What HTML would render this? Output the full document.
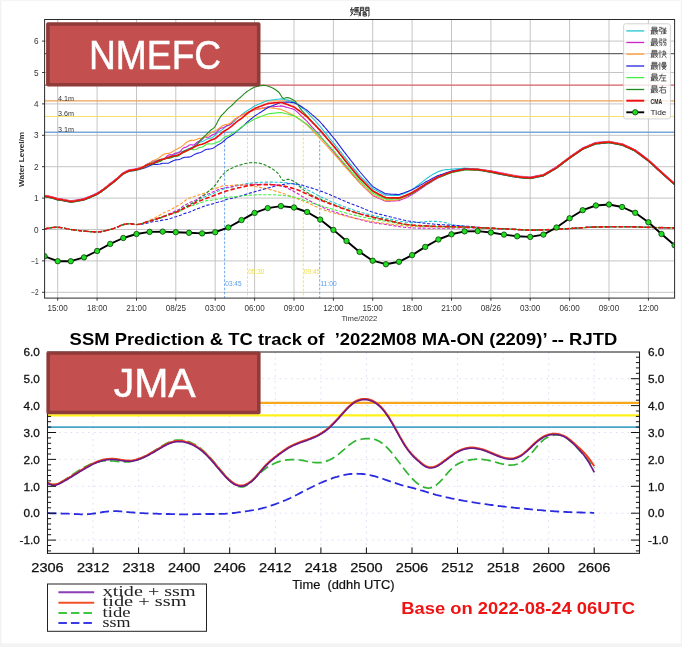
<!DOCTYPE html>
<html lang="en">
<head>
<meta charset="utf-8">
<title>Storm surge forecast comparison</title>
<style>
html,body{margin:0;padding:0;background:#ffffff;}
body{width:682px;height:647px;overflow:hidden;font-family:"Liberation Sans", sans-serif;}
svg{display:block;will-change:transform;}
</style>
</head>
<body>
<svg width="682" height="647" viewBox="0 0 682 647" font-family='"Liberation Sans", sans-serif'>
<rect x="0" y="0" width="682" height="647" fill="#ffffff"/>
<rect x="0" y="0" width="1.5" height="647" fill="#f3f3f3"/>
<rect x="680.6" y="0" width="1.4" height="647" fill="#f4f4f4"/>
<rect x="0" y="0" width="682" height="1.2" fill="#f5f5f5"/>
<rect x="0" y="643.4" width="682" height="3.6" fill="#f3f3f3"/>
<g stroke="#bebebe" stroke-width="0.9" fill="none">
<path d="M57.7,19.5 V298.1"/>
<path d="M97.1,19.5 V298.1"/>
<path d="M136.5,19.5 V298.1"/>
<path d="M175.8,19.5 V298.1"/>
<path d="M215.2,19.5 V298.1"/>
<path d="M254.6,19.5 V298.1"/>
<path d="M294,19.5 V298.1"/>
<path d="M333.4,19.5 V298.1"/>
<path d="M372.7,19.5 V298.1"/>
<path d="M412.1,19.5 V298.1"/>
<path d="M451.5,19.5 V298.1"/>
<path d="M490.9,19.5 V298.1"/>
<path d="M530.2,19.5 V298.1"/>
<path d="M569.6,19.5 V298.1"/>
<path d="M609,19.5 V298.1"/>
<path d="M648.4,19.5 V298.1"/>
<path d="M44.6,292.3 H674.6"/>
<path d="M44.6,260.9 H674.6"/>
<path d="M44.6,229.5 H674.6"/>
<path d="M44.6,198.1 H674.6"/>
<path d="M44.6,166.7 H674.6"/>
<path d="M44.6,135.3 H674.6"/>
<path d="M44.6,103.9 H674.6"/>
<path d="M44.6,72.5 H674.6"/>
<path d="M44.6,41.1 H674.6"/>
</g>
<path d="M44.6,53.7 H674.6" stroke="#303030" stroke-width="0.9" fill="none"/>
<path d="M44.6,85.1 H674.6" stroke="#d65f66" stroke-width="1.3" fill="none"/>
<path d="M44.6,100.8 H674.6" stroke="#f0a054" stroke-width="1.2" fill="none"/>
<path d="M44.6,116.5 H674.6" stroke="#f5e46a" stroke-width="1.1" fill="none"/>
<path d="M44.6,132.2 H674.6" stroke="#7ba7d8" stroke-width="1.6" fill="none"/>
<path d="M224.6,132.2 V298.1" stroke="#4f93e6" stroke-width="0.8" stroke-dasharray="2.6,1.6" fill="none"/>
<path d="M319.7,132.2 V298.1" stroke="#4f93e6" stroke-width="0.8" stroke-dasharray="2.6,1.6" fill="none"/>
<path d="M247.5,116.5 V298.1" stroke="#f0dc38" stroke-width="0.8" stroke-dasharray="2.6,1.6" fill="none"/>
<path d="M303.3,116.5 V298.1" stroke="#f0dc38" stroke-width="0.8" stroke-dasharray="2.6,1.6" fill="none"/>
<g fill="none" stroke-linejoin="round" stroke-linecap="butt">
<path d="M44.6,195.7 L45.9,195.8 L47.2,196 L48.5,196.2 L49.8,196.5 L51.2,196.8 L52.5,197.2 L53.8,197.5 L55.1,198 L56.4,198.4 L57.7,198.9 L59,198.9 L60.3,199.1 L61.7,199.2 L63,199.5 L64.3,199.8 L65.6,200 L66.9,200.3 L68.2,200.6 L69.5,200.9 L70.8,201.1 L72.2,200.9 L73.5,200.7 L74.8,200.5 L76.1,200.3 L77.4,200.1 L78.7,199.9 L80,199.6 L81.3,199.4 L82.7,199.1 L84,198.9 L85.3,198.4 L86.6,197.8 L87.9,197.3 L89.2,196.8 L90.5,196.2 L91.8,195.7 L93.2,195.1 L94.5,194.5 L95.8,193.9 L97.1,193.3 L98.4,192.6 L99.7,191.7 L101,190.9 L102.3,189.9 L103.7,189 L105,188 L106.3,186.9 L107.6,185.9 L108.9,184.8 L110.2,183.8 L111.5,182.9 L112.8,181.8 L114.2,180.8 L115.5,179.7 L116.8,178.6 L118.1,177.5 L119.4,176.3 L120.7,175.1 L122,174 L123.3,172.9 L124.7,172.2 L126,171.5 L127.3,170.9 L128.6,170.4 L129.9,170.1 L131.2,169.9 L132.5,169.7 L133.8,169.5 L135.2,169.2 L136.5,168.9 L137.8,168.6 L139.1,168.2 L140.4,167.7 L141.7,167.3 L143,166.8 L144.3,166.3 L145.7,165.7 L147,164.9 L148.3,164 L149.6,163.1 L150.9,162.6 L152.2,162.1 L153.5,161.8 L154.8,161.5 L156.2,160.9 L157.5,160.3 L158.8,159.7 L160.1,159.4 L161.4,159.3 L162.7,159.4 L164,159.4 L165.3,159 L166.7,158.4 L168,157.6 L169.3,156.8 L170.6,156.3 L171.9,155.8 L173.2,155.4 L174.5,154.7 L175.8,153.8 L177.2,152.9 L178.5,152.1 L179.8,151.7 L181.1,151.5 L182.4,151.4 L183.7,151.1 L185,150.6 L186.3,149.8 L187.7,149.1 L189,148.4 L190.3,148 L191.6,147.5 L192.9,146.9 L194.2,146 L195.5,144.8 L196.8,143.7 L198.2,142.7 L199.5,142.2 L200.8,141.9 L202.1,141.7 L203.4,141.1 L204.7,140.4 L206,139.6 L207.3,138.9 L208.7,138.5 L210,138.2 L211.3,137.9 L212.6,137.3 L213.9,136.4 L215.2,135.2 L216.5,133.8 L217.8,132.5 L219.2,131.6 L220.5,130.8 L221.8,129.9 L223.1,128.9 L224.4,127.8 L225.7,126.7 L227,126 L228.3,125.5 L229.7,124.9 L231,124.1 L232.3,123.1 L233.6,121.8 L234.9,120.5 L236.2,119.2 L237.5,118 L238.8,117.1 L240.2,116.1 L241.5,115 L242.8,113.9 L244.1,112.8 L245.4,111.9 L246.7,111 L248,110.2 L249.3,109.4 L250.7,108.6 L252,107.7 L253.3,106.8 L254.6,105.9 L255.9,105.4 L257.2,104.8 L258.5,104.3 L259.8,103.7 L261.2,103.2 L262.5,102.6 L263.8,102.1 L265.1,101.6 L266.4,101.1 L267.7,100.6 L269,100.4 L270.3,100.2 L271.7,100 L273,99.8 L274.3,99.7 L275.6,99.5 L276.9,99.3 L278.2,99.2 L279.5,99 L280.8,98.9 L282.2,99.1 L283.5,99.3 L284.8,99.6 L286.1,99.8 L287.4,100.1 L288.7,100.4 L290,100.8 L291.3,101.1 L292.7,101.5 L294,101.9 L295.3,102.6 L296.6,103.5 L297.9,104.4 L299.2,105.4 L300.5,106.5 L301.8,107.6 L303.2,108.7 L304.5,109.8 L305.8,110.9 L307.1,112 L308.4,113.4 L309.7,114.8 L311,116.3 L312.3,117.8 L313.7,119.2 L315,120.7 L316.3,122.2 L317.6,123.6 L318.9,125.1 L320.2,126.5 L321.5,128.2 L322.8,129.8 L324.2,131.5 L325.5,133.1 L326.8,134.7 L328.1,136.4 L329.4,138 L330.7,139.6 L332,141.2 L333.3,142.7 L334.7,144.4 L336,146.1 L337.3,147.7 L338.6,149.4 L339.9,151.1 L341.2,152.7 L342.5,154.4 L343.8,156.1 L345.2,157.7 L346.5,159.4 L347.8,161 L349.1,162.7 L350.4,164.3 L351.7,165.9 L353,167.5 L354.3,169.1 L355.7,170.7 L357,172.3 L358.3,173.9 L359.6,175.4 L360.9,176.8 L362.2,178.1 L363.5,179.4 L364.8,180.7 L366.2,182 L367.5,183.3 L368.8,184.6 L370.1,185.9 L371.4,187.2 L372.7,188.5 L374,189.2 L375.3,189.9 L376.7,190.6 L378,191.3 L379.3,192 L380.6,192.7 L381.9,193.4 L383.2,194 L384.5,194.7 L385.8,195.3 L387.2,195.3 L388.5,195.3 L389.8,195.3 L391.1,195.4 L392.4,195.4 L393.7,195.4 L395,195.4 L396.3,195.4 L397.7,195.4 L399,195.4 L400.3,194.9 L401.6,194.5 L402.9,193.9 L404.2,193.4 L405.5,192.9 L406.8,192.3 L408.2,191.7 L409.5,191 L410.8,190.3 L412.1,189.6 L413.4,188.7 L414.7,187.8 L416,186.8 L417.3,185.8 L418.7,184.8 L420,183.8 L421.3,182.7 L422.6,181.7 L423.9,180.6 L425.2,179.6 L426.5,178.6 L427.8,177.7 L429.2,176.8 L430.5,175.9 L431.8,175.1 L433.1,174.3 L434.4,173.6 L435.7,172.9 L437,172.2 L438.3,171.5 L439.7,171.1 L441,170.7 L442.3,170.3 L443.6,170 L444.9,169.8 L446.2,169.6 L447.5,169.6 L448.8,169.5 L450.2,169.3 L451.5,169.1 L452.8,169.1 L454.1,169 L455.4,168.9 L456.7,168.9 L458,168.8 L459.3,168.6 L460.7,168.5 L462,168.4 L463.3,168.2 L464.6,168.1 L465.9,168.2 L467.2,168.3 L468.5,168.4 L469.8,168.5 L471.2,168.5 L472.5,168.6 L473.8,168.7 L475.1,168.7 L476.4,168.8 L477.7,168.9 L479,169.1 L480.3,169.3 L481.7,169.6 L483,169.8 L484.3,170 L485.6,170.2 L486.9,170.5 L488.2,170.7 L489.5,170.9 L490.8,171.1 L492.2,171.4 L493.5,171.7 L494.8,172 L496.1,172.2 L497.4,172.5 L498.7,172.8 L500,173.1 L501.3,173.3 L502.7,173.6 L504,173.9 L505.3,174.1 L506.6,174.3 L507.9,174.6 L509.2,174.8 L510.5,175 L511.8,175.3 L513.2,175.5 L514.5,175.7 L515.8,176 L517.1,176.2 L518.4,176.3 L519.7,176.5 L521,176.6 L522.3,176.8 L523.7,176.9 L525,177 L526.3,177.1 L527.6,177.2 L528.9,177.3 L530.2,177.4 L531.5,177.2 L532.8,176.9 L534.2,176.7 L535.5,176.4 L536.8,176.1 L538.1,175.9 L539.4,175.6 L540.7,175.3 L542,175 L543.3,174.8 L544.7,174 L546,173.3 L547.3,172.5 L548.6,171.8 L549.9,171 L551.2,170.2 L552.5,169.5 L553.8,168.7 L555.2,167.9 L556.5,167.2 L557.8,166.2 L559.1,165.2 L560.4,164.2 L561.7,163.2 L563,162.2 L564.3,161.2 L565.7,160.2 L567,159.2 L568.3,158.2 L569.6,157.2 L570.9,156.3 L572.2,155.4 L573.5,154.5 L574.8,153.6 L576.2,152.7 L577.5,151.8 L578.8,150.9 L580.1,150 L581.4,149.1 L582.7,148.2 L584,147.7 L585.3,147.1 L586.7,146.5 L588,146 L589.3,145.4 L590.6,144.9 L591.9,144.4 L593.2,143.9 L594.5,143.3 L595.8,142.8 L597.2,142.7 L598.5,142.6 L599.8,142.5 L601.1,142.3 L602.4,142.2 L603.7,142.1 L605,142 L606.3,141.8 L607.7,141.7 L609,141.6 L610.3,141.8 L611.6,142.1 L612.9,142.3 L614.2,142.6 L615.5,142.8 L616.8,143 L618.2,143.3 L619.5,143.5 L620.8,143.8 L622.1,144 L623.4,144.6 L624.7,145.2 L626,145.8 L627.3,146.4 L628.7,147 L630,147.6 L631.3,148.2 L632.6,148.9 L633.9,149.5 L635.2,150.1 L636.5,151.1 L637.8,152.1 L639.2,153.1 L640.5,154.1 L641.8,155 L643.1,156 L644.4,157 L645.7,158 L647,159 L648.3,159.9 L649.7,161.1 L651,162.3 L652.3,163.5 L653.6,164.7 L654.9,165.9 L656.2,167.1 L657.5,168.3 L658.8,169.5 L660.2,170.7 L661.5,171.9 L662.8,173.1 L664.1,174.3 L665.4,175.4 L666.7,176.6 L668,177.8 L669.3,179 L670.7,180.1 L672,181.3 L673.3,182.5 L674.6,183.6" stroke="#22c5cf" stroke-width="1.1"/>
<path d="M44.6,195.3 L45.9,195.5 L47.2,195.7 L48.5,195.9 L49.8,196.2 L51.2,196.5 L52.5,196.8 L53.8,197.2 L55.1,197.6 L56.4,198.1 L57.7,198.6 L59,198.6 L60.3,198.7 L61.7,198.9 L63,199.2 L64.3,199.4 L65.6,199.7 L66.9,200 L68.2,200.3 L69.5,200.6 L70.8,200.8 L72.2,200.6 L73.5,200.4 L74.8,200.2 L76.1,200 L77.4,199.8 L78.7,199.5 L80,199.3 L81.3,199.1 L82.7,198.8 L84,198.6 L85.3,198 L86.6,197.5 L87.9,197 L89.2,196.5 L90.5,195.9 L91.8,195.4 L93.2,194.8 L94.5,194.2 L95.8,193.6 L97.1,193 L98.4,192.2 L99.7,191.4 L101,190.5 L102.3,189.6 L103.7,188.6 L105,187.6 L106.3,186.6 L107.6,185.6 L108.9,184.5 L110.2,183.5 L111.5,182.5 L112.8,181.5 L114.2,180.5 L115.5,179.4 L116.8,178.3 L118.1,177.2 L119.4,176 L120.7,174.8 L122,173.6 L123.3,172.6 L124.7,171.9 L126,171.2 L127.3,170.6 L128.6,170.1 L129.9,169.8 L131.2,169.6 L132.5,169.4 L133.8,169.2 L135.2,168.9 L136.5,168.6 L137.8,168.3 L139.1,167.8 L140.4,167.5 L141.7,167.2 L143,166.7 L144.3,166 L145.7,165 L147,164.2 L148.3,163.6 L149.6,163 L150.9,162.3 L152.2,161.3 L153.5,160.7 L154.8,160.7 L156.2,161.2 L157.5,161.4 L158.8,160.9 L160.1,160.1 L161.4,159.5 L162.7,159.3 L164,158.9 L165.3,158 L166.7,156.5 L168,155.3 L169.3,154.8 L170.6,154.9 L171.9,154.9 L173.2,154.3 L174.5,153.6 L175.8,153.1 L177.2,153 L178.5,152.9 L179.8,152.1 L181.1,150.5 L182.4,148.9 L183.7,147.8 L185,147.4 L186.3,147 L187.7,146.2 L189,145.3 L190.3,144.7 L191.6,144.8 L192.9,145.1 L194.2,144.8 L195.5,143.8 L196.8,142.5 L198.2,141.5 L199.5,141 L200.8,140.5 L202.1,139.6 L203.4,138.2 L204.7,137.2 L206,137 L207.3,137.2 L208.7,137.2 L210,136.6 L211.3,135.5 L212.6,134.7 L213.9,134.3 L215.2,133.9 L216.5,132.6 L217.8,130.8 L219.2,129.2 L220.5,128.3 L221.8,128 L223.1,127.9 L224.4,127.2 L225.7,126.3 L227,125.6 L228.3,125.3 L229.7,124.8 L231,123.8 L232.3,122.1 L233.6,120.4 L234.9,119.1 L236.2,118.4 L237.5,117.8 L238.8,116.9 L240.2,115.9 L241.5,115.1 L242.8,114.6 L244.1,114.2 L245.4,113.7 L246.7,113 L248,112.2 L249.3,111.6 L250.7,111.1 L252,110.7 L253.3,110.2 L254.6,109.7 L255.9,109.4 L257.2,109.2 L258.5,108.9 L259.8,108.7 L261.2,108.4 L262.5,108.1 L263.8,107.9 L265.1,107.6 L266.4,107.3 L267.7,106.9 L269,106.9 L270.3,106.8 L271.7,106.7 L273,106.7 L274.3,106.6 L275.6,106.5 L276.9,106.4 L278.2,106.2 L279.5,106.1 L280.8,105.9 L282.2,106.1 L283.5,106.4 L284.8,106.7 L286.1,107.1 L287.4,107.5 L288.7,107.8 L290,108.2 L291.3,108.5 L292.7,108.9 L294,109.4 L295.3,110.3 L296.6,111.4 L297.9,112.6 L299.2,113.9 L300.5,115.2 L301.8,116.4 L303.2,117.7 L304.5,119 L305.8,120.2 L307.1,121.4 L308.4,122.9 L309.7,124.4 L311,125.9 L312.3,127.4 L313.7,128.8 L315,130.3 L316.3,131.7 L317.6,133.2 L318.9,134.6 L320.2,135.9 L321.5,137.6 L322.8,139.2 L324.2,140.8 L325.5,142.3 L326.8,143.9 L328.1,145.5 L329.4,147 L330.7,148.5 L332,150 L333.3,151.5 L334.7,153.1 L336,154.7 L337.3,156.2 L338.6,157.8 L339.9,159.4 L341.2,160.9 L342.5,162.5 L343.8,164.1 L345.2,165.7 L346.5,167.2 L347.8,168.8 L349.1,170.4 L350.4,171.9 L351.7,173.5 L353,175 L354.3,176.6 L355.7,178.1 L357,179.6 L358.3,181.2 L359.6,182.7 L360.9,183.9 L362.2,185.2 L363.5,186.5 L364.8,187.8 L366.2,189.1 L367.5,190.4 L368.8,191.7 L370.1,192.9 L371.4,194.2 L372.7,195.4 L374,196 L375.3,196.7 L376.7,197.3 L378,197.9 L379.3,198.5 L380.6,199 L381.9,199.6 L383.2,200.2 L384.5,200.7 L385.8,201.2 L387.2,201.2 L388.5,201.1 L389.8,201.1 L391.1,201 L392.4,201 L393.7,200.9 L395,200.9 L396.3,200.8 L397.7,200.7 L399,200.7 L400.3,200.1 L401.6,199.6 L402.9,199 L404.2,198.5 L405.5,197.9 L406.8,197.3 L408.2,196.7 L409.5,196 L410.8,195.3 L412.1,194.6 L413.4,193.8 L414.7,192.9 L416,192 L417.3,191.2 L418.7,190.3 L420,189.4 L421.3,188.5 L422.6,187.6 L423.9,186.7 L425.2,185.7 L426.5,184.9 L427.8,184.1 L429.2,183.3 L430.5,182.5 L431.8,181.7 L433.1,180.9 L434.4,180.1 L435.7,179.3 L437,178.6 L438.3,177.8 L439.7,177.3 L441,176.8 L442.3,176.2 L443.6,175.7 L444.9,175.2 L446.2,174.6 L447.5,174.1 L448.8,173.5 L450.2,173 L451.5,172.4 L452.8,172.1 L454.1,171.8 L455.4,171.5 L456.7,171.2 L458,170.8 L459.3,170.5 L460.7,170.2 L462,169.9 L463.3,169.6 L464.6,169.3 L465.9,169.3 L467.2,169.3 L468.5,169.3 L469.8,169.2 L471.2,169.2 L472.5,169.2 L473.8,169.2 L475.1,169.2 L476.4,169.2 L477.7,169.1 L479,169.3 L480.3,169.5 L481.7,169.6 L483,169.8 L484.3,170 L485.6,170.1 L486.9,170.3 L488.2,170.5 L489.5,170.6 L490.8,170.8 L492.2,171 L493.5,171.3 L494.8,171.5 L496.1,171.8 L497.4,172.1 L498.7,172.3 L500,172.6 L501.3,172.9 L502.7,173.1 L504,173.4 L505.3,173.7 L506.6,173.9 L507.9,174.2 L509.2,174.4 L510.5,174.7 L511.8,174.9 L513.2,175.2 L514.5,175.4 L515.8,175.7 L517.1,175.9 L518.4,176 L519.7,176.2 L521,176.3 L522.3,176.4 L523.7,176.6 L525,176.7 L526.3,176.8 L527.6,176.9 L528.9,177 L530.2,177.1 L531.5,176.9 L532.8,176.6 L534.2,176.4 L535.5,176.1 L536.8,175.8 L538.1,175.6 L539.4,175.3 L540.7,175 L542,174.7 L543.3,174.5 L544.7,173.7 L546,173 L547.3,172.2 L548.6,171.4 L549.9,170.7 L551.2,169.9 L552.5,169.1 L553.8,168.4 L555.2,167.6 L556.5,166.8 L557.8,165.8 L559.1,164.8 L560.4,163.9 L561.7,162.9 L563,161.9 L564.3,160.9 L565.7,159.9 L567,158.9 L568.3,157.9 L569.6,156.9 L570.9,156 L572.2,155.1 L573.5,154.2 L574.8,153.3 L576.2,152.4 L577.5,151.5 L578.8,150.6 L580.1,149.7 L581.4,148.8 L582.7,147.9 L584,147.3 L585.3,146.8 L586.7,146.2 L588,145.7 L589.3,145.1 L590.6,144.6 L591.9,144.1 L593.2,143.5 L594.5,143 L595.8,142.5 L597.2,142.4 L598.5,142.3 L599.8,142.1 L601.1,142 L602.4,141.9 L603.7,141.8 L605,141.7 L606.3,141.5 L607.7,141.4 L609,141.3 L610.3,141.5 L611.6,141.8 L612.9,142 L614.2,142.2 L615.5,142.5 L616.8,142.7 L618.2,143 L619.5,143.2 L620.8,143.5 L622.1,143.7 L623.4,144.3 L624.7,144.9 L626,145.5 L627.3,146.1 L628.7,146.7 L630,147.3 L631.3,147.9 L632.6,148.5 L633.9,149.2 L635.2,149.8 L636.5,150.8 L637.8,151.8 L639.2,152.7 L640.5,153.7 L641.8,154.7 L643.1,155.7 L644.4,156.7 L645.7,157.7 L647,158.7 L648.3,159.6 L649.7,160.8 L651,162 L652.3,163.2 L653.6,164.4 L654.9,165.6 L656.2,166.8 L657.5,168 L658.8,169.2 L660.2,170.4 L661.5,171.6 L662.8,172.8 L664.1,174 L665.4,175.1 L666.7,176.3 L668,177.5 L669.3,178.6 L670.7,179.8 L672,181 L673.3,182.1 L674.6,183.3" stroke="#cc22cc" stroke-width="1.1"/>
<path d="M44.6,195.7 L45.9,195.9 L47.2,196.1 L48.5,196.3 L49.8,196.6 L51.2,196.9 L52.5,197.3 L53.8,197.6 L55.1,198.1 L56.4,198.5 L57.7,199 L59,199 L60.3,199.1 L61.7,199.3 L63,199.6 L64.3,199.8 L65.6,200.1 L66.9,200.4 L68.2,200.7 L69.5,201 L70.8,201.2 L72.2,201 L73.5,200.8 L74.8,200.6 L76.1,200.4 L77.4,200.2 L78.7,200 L80,199.7 L81.3,199.5 L82.7,199.2 L84,199 L85.3,198.4 L86.6,197.9 L87.9,197.4 L89.2,196.9 L90.5,196.3 L91.8,195.8 L93.2,195.2 L94.5,194.6 L95.8,194 L97.1,193.4 L98.4,192.6 L99.7,191.8 L101,191 L102.3,190 L103.7,189.1 L105,188 L106.3,187 L107.6,186 L108.9,184.9 L110.2,183.9 L111.5,183 L112.8,181.9 L114.2,180.9 L115.5,179.8 L116.8,178.7 L118.1,177.6 L119.4,176.4 L120.7,175.2 L122,174 L123.3,173 L124.7,172.3 L126,171.6 L127.3,171 L128.6,170.5 L129.9,170.2 L131.2,170 L132.5,169.8 L133.8,169.6 L135.2,169.3 L136.5,169 L137.8,168.7 L139.1,168.2 L140.4,167.6 L141.7,167 L143,166.4 L144.3,165.9 L145.7,165.3 L147,164.6 L148.3,163.8 L149.6,162.9 L150.9,162.2 L152.2,161.4 L153.5,160.6 L154.8,160 L156.2,159.4 L157.5,158.7 L158.8,157.9 L160.1,157 L161.4,155.9 L162.7,155 L164,154.2 L165.3,153.8 L166.7,153.5 L168,153.3 L169.3,153.1 L170.6,152.7 L171.9,152 L173.2,151.2 L174.5,150.4 L175.8,149.6 L177.2,148.9 L178.5,148.2 L179.8,147.6 L181.1,146.9 L182.4,145.9 L183.7,144.8 L185,143.6 L186.3,142.5 L187.7,141.6 L189,140.9 L190.3,140.6 L191.6,140.4 L192.9,140.3 L194.2,140.1 L195.5,139.8 L196.8,139.3 L198.2,138.8 L199.5,138.4 L200.8,138.2 L202.1,138 L203.4,137.7 L204.7,137.3 L206,136.6 L207.3,135.7 L208.7,134.7 L210,133.5 L211.3,132.6 L212.6,131.8 L213.9,131.2 L215.2,130.9 L216.5,130.1 L217.8,129.3 L219.2,128.3 L220.5,127.3 L221.8,126.3 L223.1,125.4 L224.4,124.9 L225.7,124.5 L227,124.3 L228.3,124.1 L229.7,123.4 L231,122.5 L232.3,121.4 L233.6,120.3 L234.9,119.3 L236.2,118.4 L237.5,117.6 L238.8,116.9 L240.2,116.2 L241.5,115.4 L242.8,114.6 L244.1,113.9 L245.4,113.2 L246.7,112.6 L248,112.2 L249.3,111.7 L250.7,111.3 L252,110.9 L253.3,110.4 L254.6,109.8 L255.9,109.5 L257.2,109.3 L258.5,109 L259.8,108.8 L261.2,108.6 L262.5,108.4 L263.8,108.2 L265.1,108 L266.4,107.8 L267.7,107.6 L269,107.7 L270.3,107.8 L271.7,108 L273,108.1 L274.3,108.3 L275.6,108.5 L276.9,108.7 L278.2,108.9 L279.5,109.1 L280.8,109.3 L282.2,109.9 L283.5,110.5 L284.8,111.1 L286.1,111.7 L287.4,112.3 L288.7,112.9 L290,113.6 L291.3,114.2 L292.7,114.8 L294,115.5 L295.3,116.4 L296.6,117.3 L297.9,118.3 L299.2,119.2 L300.5,120.1 L301.8,121.1 L303.2,122 L304.5,123 L305.8,124 L307.1,125 L308.4,126.3 L309.7,127.6 L311,129 L312.3,130.4 L313.7,131.8 L315,133.2 L316.3,134.6 L317.6,135.9 L318.9,137.2 L320.2,138.5 L321.5,140.1 L322.8,141.6 L324.2,143.1 L325.5,144.5 L326.8,146 L328.1,147.5 L329.4,148.9 L330.7,150.4 L332,151.8 L333.3,153.2 L334.7,154.7 L336,156.2 L337.3,157.7 L338.6,159.2 L339.9,160.7 L341.2,162.2 L342.5,163.7 L343.8,165.3 L345.2,166.8 L346.5,168.3 L347.8,169.7 L349.1,171.2 L350.4,172.7 L351.7,174.1 L353,175.6 L354.3,177 L355.7,178.5 L357,179.9 L358.3,181.3 L359.6,182.7 L360.9,184 L362.2,185.2 L363.5,186.4 L364.8,187.6 L366.2,188.8 L367.5,190 L368.8,191.3 L370.1,192.5 L371.4,193.7 L372.7,194.8 L374,195.5 L375.3,196.1 L376.7,196.7 L378,197.3 L379.3,197.9 L380.6,198.5 L381.9,199.1 L383.2,199.6 L384.5,200.2 L385.8,200.7 L387.2,200.6 L388.5,200.6 L389.8,200.5 L391.1,200.4 L392.4,200.3 L393.7,200.2 L395,200.1 L396.3,200 L397.7,199.9 L399,199.7 L400.3,199.1 L401.6,198.6 L402.9,198 L404.2,197.4 L405.5,196.7 L406.8,196.1 L408.2,195.5 L409.5,194.8 L410.8,194.2 L412.1,193.5 L413.4,192.7 L414.7,191.8 L416,190.9 L417.3,190.1 L418.7,189.2 L420,188.3 L421.3,187.4 L422.6,186.5 L423.9,185.6 L425.2,184.7 L426.5,183.9 L427.8,183.1 L429.2,182.3 L430.5,181.5 L431.8,180.8 L433.1,180 L434.4,179.2 L435.7,178.5 L437,177.7 L438.3,177 L439.7,176.5 L441,176 L442.3,175.5 L443.6,175 L444.9,174.4 L446.2,173.9 L447.5,173.4 L448.8,172.9 L450.2,172.4 L451.5,171.9 L452.8,171.6 L454.1,171.3 L455.4,171 L456.7,170.8 L458,170.5 L459.3,170.2 L460.7,169.9 L462,169.7 L463.3,169.4 L464.6,169.1 L465.9,169.1 L467.2,169.1 L468.5,169.1 L469.8,169.1 L471.2,169.1 L472.5,169.2 L473.8,169.2 L475.1,169.2 L476.4,169.2 L477.7,169.2 L479,169.4 L480.3,169.6 L481.7,169.8 L483,170 L484.3,170.2 L485.6,170.4 L486.9,170.6 L488.2,170.8 L489.5,171 L490.8,171.2 L492.2,171.5 L493.5,171.7 L494.8,172 L496.1,172.3 L497.4,172.5 L498.7,172.8 L500,173.1 L501.3,173.4 L502.7,173.6 L504,173.9 L505.3,174.1 L506.6,174.4 L507.9,174.6 L509.2,174.9 L510.5,175.1 L511.8,175.3 L513.2,175.6 L514.5,175.8 L515.8,176.1 L517.1,176.3 L518.4,176.4 L519.7,176.6 L521,176.7 L522.3,176.8 L523.7,177 L525,177.1 L526.3,177.2 L527.6,177.3 L528.9,177.4 L530.2,177.5 L531.5,177.3 L532.8,177 L534.2,176.8 L535.5,176.5 L536.8,176.2 L538.1,176 L539.4,175.7 L540.7,175.4 L542,175.1 L543.3,174.9 L544.7,174.1 L546,173.4 L547.3,172.6 L548.6,171.8 L549.9,171.1 L551.2,170.3 L552.5,169.6 L553.8,168.8 L555.2,168 L556.5,167.2 L557.8,166.3 L559.1,165.3 L560.4,164.3 L561.7,163.3 L563,162.3 L564.3,161.3 L565.7,160.3 L567,159.3 L568.3,158.3 L569.6,157.3 L570.9,156.4 L572.2,155.5 L573.5,154.6 L574.8,153.7 L576.2,152.8 L577.5,151.9 L578.8,151 L580.1,150.1 L581.4,149.2 L582.7,148.3 L584,147.8 L585.3,147.2 L586.7,146.6 L588,146.1 L589.3,145.5 L590.6,145 L591.9,144.5 L593.2,143.9 L594.5,143.4 L595.8,142.9 L597.2,142.8 L598.5,142.7 L599.8,142.6 L601.1,142.4 L602.4,142.3 L603.7,142.2 L605,142.1 L606.3,141.9 L607.7,141.8 L609,141.7 L610.3,141.9 L611.6,142.2 L612.9,142.4 L614.2,142.7 L615.5,142.9 L616.8,143.1 L618.2,143.4 L619.5,143.6 L620.8,143.9 L622.1,144.1 L623.4,144.7 L624.7,145.3 L626,145.9 L627.3,146.5 L628.7,147.1 L630,147.7 L631.3,148.3 L632.6,149 L633.9,149.6 L635.2,150.2 L636.5,151.2 L637.8,152.2 L639.2,153.2 L640.5,154.1 L641.8,155.1 L643.1,156.1 L644.4,157.1 L645.7,158.1 L647,159.1 L648.3,160 L649.7,161.2 L651,162.4 L652.3,163.6 L653.6,164.8 L654.9,166 L656.2,167.2 L657.5,168.4 L658.8,169.6 L660.2,170.8 L661.5,172 L662.8,173.2 L664.1,174.4 L665.4,175.5 L666.7,176.7 L668,177.9 L669.3,179 L670.7,180.2 L672,181.4 L673.3,182.6 L674.6,183.7" stroke="#ff9a2e" stroke-width="1.1"/>
<path d="M44.6,196.7 L45.9,196.9 L47.2,197.1 L48.5,197.3 L49.8,197.6 L51.2,197.9 L52.5,198.3 L53.8,198.6 L55.1,199.1 L56.4,199.5 L57.7,200 L59,200 L60.3,200.2 L61.7,200.3 L63,200.6 L64.3,200.9 L65.6,201.1 L66.9,201.4 L68.2,201.7 L69.5,202 L70.8,202.2 L72.2,202 L73.5,201.8 L74.8,201.6 L76.1,201.4 L77.4,201.2 L78.7,201 L80,200.7 L81.3,200.5 L82.7,200.2 L84,200 L85.3,199.5 L86.6,198.9 L87.9,198.4 L89.2,197.9 L90.5,197.3 L91.8,196.8 L93.2,196.2 L94.5,195.6 L95.8,195 L97.1,194.4 L98.4,193.6 L99.7,192.8 L101,192 L102.3,191 L103.7,190.1 L105,189.1 L106.3,188 L107.6,187 L108.9,185.9 L110.2,184.9 L111.5,184 L112.8,182.9 L114.2,181.9 L115.5,180.8 L116.8,179.7 L118.1,178.6 L119.4,177.4 L120.7,176.2 L122,175 L123.3,174 L124.7,173.3 L126,172.6 L127.3,172 L128.6,171.5 L129.9,171.2 L131.2,171 L132.5,170.8 L133.8,170.6 L135.2,170.3 L136.5,170 L137.8,169.8 L139.1,169.5 L140.4,169.2 L141.7,168.8 L143,168.4 L144.3,168 L145.7,167.6 L147,167.1 L148.3,166.5 L149.6,165.8 L150.9,165.2 L152.2,164.7 L153.5,164.4 L154.8,164.3 L156.2,164.4 L157.5,164.4 L158.8,164.3 L160.1,164 L161.4,163.6 L162.7,163.3 L164,163.2 L165.3,163.2 L166.7,163.3 L168,163.2 L169.3,162.8 L170.6,162.1 L171.9,161.4 L173.2,160.7 L174.5,160.2 L175.8,159.9 L177.2,159.8 L178.5,159.6 L179.8,159.2 L181.1,158.7 L182.4,158.1 L183.7,157.6 L185,157.3 L186.3,157.2 L187.7,157.1 L189,157.1 L190.3,156.8 L191.6,156.2 L192.9,155.4 L194.2,154.6 L195.5,153.9 L196.8,153.4 L198.2,153.1 L199.5,152.8 L200.8,152.3 L202.1,151.7 L203.4,150.9 L204.7,150.1 L206,149.5 L207.3,149.2 L208.7,149.1 L210,149 L211.3,148.8 L212.6,148.3 L213.9,147.7 L215.2,146.9 L216.5,145.9 L217.8,145 L219.2,144.3 L220.5,143.6 L221.8,142.8 L223.1,141.7 L224.4,140.5 L225.7,139.3 L227,138.2 L228.3,137.4 L229.7,136.6 L231,135.8 L232.3,135 L233.6,134.1 L234.9,132.9 L236.2,131.8 L237.5,130.6 L238.8,129.5 L240.2,128.5 L241.5,127.5 L242.8,126.4 L244.1,125.2 L245.4,124 L246.7,122.7 L248,121.5 L249.3,120.4 L250.7,119.3 L252,118.3 L253.3,117.2 L254.6,116.1 L255.9,115.3 L257.2,114.4 L258.5,113.6 L259.8,112.7 L261.2,111.9 L262.5,111 L263.8,110.2 L265.1,109.3 L266.4,108.5 L267.7,107.7 L269,107.1 L270.3,106.6 L271.7,106 L273,105.5 L274.3,104.9 L275.6,104.4 L276.9,103.9 L278.2,103.4 L279.5,102.9 L280.8,102.5 L282.2,102.4 L283.5,102.3 L284.8,102.2 L286.1,102.1 L287.4,102.1 L288.7,102.1 L290,102.2 L291.3,102.4 L292.7,102.6 L294,102.8 L295.3,103.4 L296.6,104 L297.9,104.6 L299.2,105.3 L300.5,106 L301.8,106.8 L303.2,107.7 L304.5,108.6 L305.8,109.4 L307.1,110.3 L308.4,111.4 L309.7,112.6 L311,113.7 L312.3,114.9 L313.7,116 L315,117.2 L316.3,118.4 L317.6,119.5 L318.9,120.7 L320.2,122 L321.5,123.5 L322.8,125 L324.2,126.5 L325.5,128.1 L326.8,129.6 L328.1,131.2 L329.4,132.8 L330.7,134.4 L332,136 L333.3,137.6 L334.7,139.2 L336,140.9 L337.3,142.6 L338.6,144.4 L339.9,146.1 L341.2,147.9 L342.5,149.6 L343.8,151.4 L345.2,153.1 L346.5,154.8 L347.8,156.5 L349.1,158.2 L350.4,159.9 L351.7,161.5 L353,163.2 L354.3,164.9 L355.7,166.5 L357,168.2 L358.3,169.8 L359.6,171.5 L360.9,173 L362.2,174.5 L363.5,176 L364.8,177.5 L366.2,179.1 L367.5,180.6 L368.8,182.1 L370.1,183.6 L371.4,185 L372.7,186.4 L374,187.3 L375.3,188.1 L376.7,188.9 L378,189.6 L379.3,190.4 L380.6,191.1 L381.9,191.8 L383.2,192.5 L384.5,193.2 L385.8,193.9 L387.2,193.9 L388.5,194 L389.8,194.1 L391.1,194.2 L392.4,194.3 L393.7,194.3 L395,194.4 L396.3,194.4 L397.7,194.5 L399,194.5 L400.3,194.1 L401.6,193.6 L402.9,193.2 L404.2,192.8 L405.5,192.3 L406.8,191.8 L408.2,191.3 L409.5,190.8 L410.8,190.3 L412.1,189.8 L413.4,189.1 L414.7,188.4 L416,187.6 L417.3,186.9 L418.7,186.2 L420,185.4 L421.3,184.6 L422.6,183.9 L423.9,183.1 L425.2,182.3 L426.5,181.6 L427.8,180.9 L429.2,180.2 L430.5,179.5 L431.8,178.8 L433.1,178.1 L434.4,177.5 L435.7,176.8 L437,176.1 L438.3,175.5 L439.7,175.1 L441,174.6 L442.3,174.2 L443.6,173.7 L444.9,173.3 L446.2,172.8 L447.5,172.4 L448.8,171.9 L450.2,171.5 L451.5,171 L452.8,170.8 L454.1,170.6 L455.4,170.4 L456.7,170.1 L458,169.9 L459.3,169.7 L460.7,169.5 L462,169.3 L463.3,169.1 L464.6,168.9 L465.9,168.9 L467.2,169 L468.5,169.1 L469.8,169.2 L471.2,169.3 L472.5,169.3 L473.8,169.4 L475.1,169.5 L476.4,169.6 L477.7,169.7 L479,170 L480.3,170.2 L481.7,170.5 L483,170.8 L484.3,171 L485.6,171.3 L486.9,171.5 L488.2,171.8 L489.5,172 L490.8,172.2 L492.2,172.5 L493.5,172.8 L494.8,173.1 L496.1,173.4 L497.4,173.6 L498.7,173.9 L500,174.2 L501.3,174.4 L502.7,174.7 L504,175 L505.3,175.2 L506.6,175.4 L507.9,175.7 L509.2,175.9 L510.5,176.1 L511.8,176.4 L513.2,176.6 L514.5,176.8 L515.8,177.1 L517.1,177.3 L518.4,177.4 L519.7,177.6 L521,177.7 L522.3,177.9 L523.7,178 L525,178.1 L526.3,178.2 L527.6,178.3 L528.9,178.4 L530.2,178.5 L531.5,178.3 L532.8,178 L534.2,177.8 L535.5,177.5 L536.8,177.2 L538.1,177 L539.4,176.7 L540.7,176.4 L542,176.1 L543.3,175.9 L544.7,175.1 L546,174.4 L547.3,173.6 L548.6,172.9 L549.9,172.1 L551.2,171.3 L552.5,170.6 L553.8,169.8 L555.2,169 L556.5,168.2 L557.8,167.3 L559.1,166.3 L560.4,165.3 L561.7,164.3 L563,163.3 L564.3,162.3 L565.7,161.3 L567,160.3 L568.3,159.3 L569.6,158.3 L570.9,157.4 L572.2,156.5 L573.5,155.6 L574.8,154.7 L576.2,153.8 L577.5,152.9 L578.8,152 L580.1,151.1 L581.4,150.2 L582.7,149.3 L584,148.8 L585.3,148.2 L586.7,147.6 L588,147.1 L589.3,146.5 L590.6,146 L591.9,145.5 L593.2,145 L594.5,144.4 L595.8,143.9 L597.2,143.8 L598.5,143.7 L599.8,143.6 L601.1,143.4 L602.4,143.3 L603.7,143.2 L605,143.1 L606.3,142.9 L607.7,142.8 L609,142.7 L610.3,142.9 L611.6,143.2 L612.9,143.4 L614.2,143.7 L615.5,143.9 L616.8,144.1 L618.2,144.4 L619.5,144.6 L620.8,144.9 L622.1,145.1 L623.4,145.7 L624.7,146.3 L626,146.9 L627.3,147.5 L628.7,148.1 L630,148.7 L631.3,149.3 L632.6,150 L633.9,150.6 L635.2,151.2 L636.5,152.2 L637.8,153.2 L639.2,154.2 L640.5,155.1 L641.8,156.1 L643.1,157.1 L644.4,158.1 L645.7,159.1 L647,160.1 L648.3,161 L649.7,162.2 L651,163.4 L652.3,164.6 L653.6,165.8 L654.9,167 L656.2,168.2 L657.5,169.4 L658.8,170.6 L660.2,171.8 L661.5,173 L662.8,174.2 L664.1,175.4 L665.4,176.5 L666.7,177.7 L668,178.9 L669.3,180.1 L670.7,181.2 L672,182.4 L673.3,183.6 L674.6,184.7" stroke="#2222dd" stroke-width="1.1"/>
<path d="M44.6,196.4 L45.9,196.6 L47.2,196.8 L48.5,197 L49.8,197.3 L51.2,197.6 L52.5,197.9 L53.8,198.3 L55.1,198.7 L56.4,199.2 L57.7,199.7 L59,199.7 L60.3,199.8 L61.7,200 L63,200.3 L64.3,200.5 L65.6,200.8 L66.9,201.1 L68.2,201.4 L69.5,201.7 L70.8,201.9 L72.2,201.7 L73.5,201.5 L74.8,201.3 L76.1,201.1 L77.4,200.9 L78.7,200.6 L80,200.4 L81.3,200.2 L82.7,199.9 L84,199.7 L85.3,199.1 L86.6,198.6 L87.9,198.1 L89.2,197.6 L90.5,197 L91.8,196.5 L93.2,195.9 L94.5,195.3 L95.8,194.7 L97.1,194.1 L98.4,193.3 L99.7,192.5 L101,191.6 L102.3,190.7 L103.7,189.7 L105,188.7 L106.3,187.7 L107.6,186.7 L108.9,185.6 L110.2,184.6 L111.5,183.6 L112.8,182.6 L114.2,181.6 L115.5,180.5 L116.8,179.4 L118.1,178.3 L119.4,177.1 L120.7,175.9 L122,174.7 L123.3,173.7 L124.7,173 L126,172.3 L127.3,171.7 L128.6,171.2 L129.9,170.9 L131.2,170.7 L132.5,170.5 L133.8,170.3 L135.2,170 L136.5,169.7 L137.8,169.5 L139.1,169.1 L140.4,168.6 L141.7,168.1 L143,167.5 L144.3,166.8 L145.7,165.9 L147,164.9 L148.3,164.1 L149.6,163.6 L150.9,163.5 L152.2,163.5 L153.5,163.2 L154.8,162.7 L156.2,162.2 L157.5,161.9 L158.8,161.8 L160.1,161.5 L161.4,160.9 L162.7,159.9 L164,158.9 L165.3,158.1 L166.7,157.8 L168,157.8 L169.3,157.7 L170.6,157.3 L171.9,156.8 L173.2,156.5 L174.5,156.4 L175.8,156.5 L177.2,156.5 L178.5,156 L179.8,155.1 L181.1,154 L182.4,153.1 L183.7,152.5 L185,152.1 L186.3,151.6 L187.7,150.8 L189,150.1 L190.3,149.5 L191.6,149.4 L192.9,149.6 L194.2,149.8 L195.5,149.5 L196.8,148.9 L198.2,148.1 L199.5,147.6 L200.8,147.3 L202.1,147.1 L203.4,146.5 L204.7,145.5 L206,144.6 L207.3,143.9 L208.7,143.7 L210,143.9 L211.3,144 L212.6,143.9 L213.9,143.4 L215.2,142.9 L216.5,142.4 L217.8,142 L219.2,141.6 L220.5,140.8 L221.8,139.6 L223.1,138.3 L224.4,137.2 L225.7,136.6 L227,136.3 L228.3,135.9 L229.7,135.1 L231,134.1 L232.3,133.1 L233.6,132.5 L234.9,132 L236.2,131.4 L237.5,130.5 L238.8,129.3 L240.2,128 L241.5,127 L242.8,126.1 L244.1,125.3 L245.4,124.5 L246.7,123.7 L248,122.8 L249.3,122 L250.7,121.3 L252,120.5 L253.3,119.8 L254.6,119 L255.9,118.5 L257.2,117.9 L258.5,117.4 L259.8,116.9 L261.2,116.4 L262.5,115.9 L263.8,115.4 L265.1,114.9 L266.4,114.4 L267.7,113.9 L269,113.8 L270.3,113.6 L271.7,113.4 L273,113.3 L274.3,113.1 L275.6,113 L276.9,112.9 L278.2,112.8 L279.5,112.6 L280.8,112.5 L282.2,112.8 L283.5,113.1 L284.8,113.3 L286.1,113.7 L287.4,114 L288.7,114.3 L290,114.7 L291.3,115.1 L292.7,115.4 L294,115.8 L295.3,116.6 L296.6,117.3 L297.9,118.2 L299.2,119 L300.5,119.9 L301.8,120.8 L303.2,121.7 L304.5,122.6 L305.8,123.5 L307.1,124.4 L308.4,125.6 L309.7,126.8 L311,128 L312.3,129.2 L313.7,130.4 L315,131.6 L316.3,132.8 L317.6,134 L318.9,135.2 L320.2,136.4 L321.5,137.8 L322.8,139.2 L324.2,140.7 L325.5,142.1 L326.8,143.5 L328.1,144.8 L329.4,146.2 L330.7,147.6 L332,149 L333.3,150.4 L334.7,151.9 L336,153.5 L337.3,155 L338.6,156.5 L339.9,158.1 L341.2,159.6 L342.5,161.2 L343.8,162.7 L345.2,164.3 L346.5,165.8 L347.8,167.3 L349.1,168.8 L350.4,170.3 L351.7,171.8 L353,173.3 L354.3,174.8 L355.7,176.2 L357,177.7 L358.3,179.2 L359.6,180.6 L360.9,181.9 L362.2,183.1 L363.5,184.4 L364.8,185.6 L366.2,186.9 L367.5,188.1 L368.8,189.3 L370.1,190.6 L371.4,191.8 L372.7,193 L374,193.7 L375.3,194.3 L376.7,195 L378,195.6 L379.3,196.2 L380.6,196.9 L381.9,197.5 L383.2,198.1 L384.5,198.6 L385.8,199.2 L387.2,199.2 L388.5,199.2 L389.8,199.1 L391.1,199.1 L392.4,199.1 L393.7,199 L395,199 L396.3,199 L397.7,198.9 L399,198.9 L400.3,198.3 L401.6,197.8 L402.9,197.3 L404.2,196.8 L405.5,196.2 L406.8,195.6 L408.2,195.1 L409.5,194.5 L410.8,193.9 L412.1,193.2 L413.4,192.4 L414.7,191.6 L416,190.8 L417.3,190 L418.7,189.2 L420,188.3 L421.3,187.5 L422.6,186.6 L423.9,185.7 L425.2,184.9 L426.5,184.1 L427.8,183.3 L429.2,182.5 L430.5,181.8 L431.8,181 L433.1,180.3 L434.4,179.5 L435.7,178.8 L437,178.1 L438.3,177.4 L439.7,176.9 L441,176.4 L442.3,175.9 L443.6,175.4 L444.9,174.9 L446.2,174.4 L447.5,173.9 L448.8,173.4 L450.2,172.9 L451.5,172.4 L452.8,172.2 L454.1,171.9 L455.4,171.6 L456.7,171.4 L458,171.1 L459.3,170.8 L460.7,170.6 L462,170.3 L463.3,170.1 L464.6,169.8 L465.9,169.8 L467.2,169.8 L468.5,169.8 L469.8,169.9 L471.2,169.9 L472.5,169.9 L473.8,169.9 L475.1,169.9 L476.4,169.9 L477.7,170 L479,170.1 L480.3,170.3 L481.7,170.5 L483,170.7 L484.3,170.9 L485.6,171.1 L486.9,171.3 L488.2,171.5 L489.5,171.7 L490.8,171.9 L492.2,172.2 L493.5,172.4 L494.8,172.7 L496.1,173 L497.4,173.2 L498.7,173.5 L500,173.8 L501.3,174 L502.7,174.3 L504,174.6 L505.3,174.8 L506.6,175.1 L507.9,175.3 L509.2,175.6 L510.5,175.8 L511.8,176 L513.2,176.3 L514.5,176.5 L515.8,176.8 L517.1,177 L518.4,177.1 L519.7,177.3 L521,177.4 L522.3,177.5 L523.7,177.7 L525,177.8 L526.3,177.9 L527.6,178 L528.9,178.1 L530.2,178.2 L531.5,178 L532.8,177.7 L534.2,177.5 L535.5,177.2 L536.8,176.9 L538.1,176.7 L539.4,176.4 L540.7,176.1 L542,175.8 L543.3,175.6 L544.7,174.8 L546,174.1 L547.3,173.3 L548.6,172.5 L549.9,171.8 L551.2,171 L552.5,170.2 L553.8,169.5 L555.2,168.7 L556.5,167.9 L557.8,166.9 L559.1,165.9 L560.4,165 L561.7,164 L563,163 L564.3,162 L565.7,161 L567,160 L568.3,159 L569.6,158 L570.9,157.1 L572.2,156.2 L573.5,155.3 L574.8,154.4 L576.2,153.5 L577.5,152.6 L578.8,151.7 L580.1,150.8 L581.4,149.9 L582.7,149 L584,148.4 L585.3,147.9 L586.7,147.3 L588,146.8 L589.3,146.2 L590.6,145.7 L591.9,145.2 L593.2,144.6 L594.5,144.1 L595.8,143.6 L597.2,143.5 L598.5,143.4 L599.8,143.2 L601.1,143.1 L602.4,143 L603.7,142.9 L605,142.8 L606.3,142.6 L607.7,142.5 L609,142.4 L610.3,142.6 L611.6,142.9 L612.9,143.1 L614.2,143.3 L615.5,143.6 L616.8,143.8 L618.2,144.1 L619.5,144.3 L620.8,144.6 L622.1,144.8 L623.4,145.4 L624.7,146 L626,146.6 L627.3,147.2 L628.7,147.8 L630,148.4 L631.3,149 L632.6,149.6 L633.9,150.3 L635.2,150.9 L636.5,151.9 L637.8,152.9 L639.2,153.8 L640.5,154.8 L641.8,155.8 L643.1,156.8 L644.4,157.8 L645.7,158.8 L647,159.8 L648.3,160.7 L649.7,161.9 L651,163.1 L652.3,164.3 L653.6,165.5 L654.9,166.7 L656.2,167.9 L657.5,169.1 L658.8,170.3 L660.2,171.5 L661.5,172.7 L662.8,173.9 L664.1,175.1 L665.4,176.2 L666.7,177.4 L668,178.6 L669.3,179.7 L670.7,180.9 L672,182.1 L673.3,183.2 L674.6,184.4" stroke="#44ee44" stroke-width="1.1"/>
<path d="M44.6,196.8 L45.9,197 L47.2,197.2 L48.5,197.4 L49.8,197.7 L51.2,198 L52.5,198.3 L53.8,198.7 L55.1,199.1 L56.4,199.6 L57.7,200 L59,200.1 L60.3,200.2 L61.7,200.4 L63,200.6 L64.3,200.9 L65.6,201.2 L66.9,201.5 L68.2,201.8 L69.5,202 L70.8,202.2 L72.2,202.1 L73.5,201.9 L74.8,201.7 L76.1,201.4 L77.4,201.2 L78.7,201 L80,200.8 L81.3,200.6 L82.7,200.3 L84,200 L85.3,199.5 L86.6,199 L87.9,198.5 L89.2,197.9 L90.5,197.4 L91.8,196.8 L93.2,196.3 L94.5,195.7 L95.8,195.1 L97.1,194.5 L98.4,193.7 L99.7,192.9 L101,192 L102.3,191.1 L103.7,190.1 L105,189.1 L106.3,188.1 L107.6,187.1 L108.9,186 L110.2,185 L111.5,184 L112.8,183 L114.2,182 L115.5,180.9 L116.8,179.8 L118.1,178.7 L119.4,177.5 L120.7,176.2 L122,175.1 L123.3,174.1 L124.7,173.4 L126,172.7 L127.3,172.1 L128.6,171.6 L129.9,171.3 L131.2,171 L132.5,170.8 L133.8,170.6 L135.2,170.4 L136.5,170.1 L137.8,169.8 L139.1,169.4 L140.4,168.9 L141.7,168.3 L143,167.7 L144.3,166.9 L145.7,166.1 L147,165.4 L148.3,165 L149.6,164.7 L150.9,164.6 L152.2,164.3 L153.5,163.7 L154.8,163.1 L156.2,162.5 L157.5,162.1 L158.8,161.7 L160.1,161.2 L161.4,160.5 L162.7,159.6 L164,158.9 L165.3,158.5 L166.7,158.4 L168,158.4 L169.3,158.3 L170.6,158 L171.9,157.4 L173.2,156.9 L174.5,156.5 L175.8,156.2 L177.2,155.8 L178.5,155.2 L179.8,154.2 L181.1,153.1 L182.4,152.1 L183.7,151.3 L185,150.8 L186.3,150.4 L187.7,149.9 L189,149.2 L190.3,148.4 L191.6,147.7 L192.9,147.3 L194.2,146.8 L195.5,146.1 L196.8,144.9 L198.2,143.2 L199.5,141.4 L200.8,139.7 L202.1,138.3 L203.4,137.1 L204.7,136 L206,134.8 L207.3,133.5 L208.7,132.1 L210,130.8 L211.3,129.8 L212.6,128.9 L213.9,127.8 L215.2,126.3 L216.5,124 L217.8,121.3 L219.2,118.8 L220.5,116.7 L221.8,115.1 L223.1,113.8 L224.4,112.5 L225.7,111.1 L227,109.6 L228.3,108.4 L229.7,107.1 L231,106.1 L232.3,105 L233.6,103.7 L234.9,102.3 L236.2,100.9 L237.5,99.7 L238.8,98.6 L240.2,97.5 L241.5,96.4 L242.8,95.2 L244.1,93.9 L245.4,92.8 L246.7,91.8 L248,90.9 L249.3,90.1 L250.7,89.2 L252,88.4 L253.3,87.7 L254.6,87.1 L255.9,86.7 L257.2,86.4 L258.5,86.1 L259.8,85.8 L261.2,85.6 L262.5,85.4 L263.8,85.4 L265.1,85.5 L266.4,85.7 L267.7,86 L269,86.5 L270.3,87 L271.7,87.6 L273,88.2 L274.3,89 L275.6,89.8 L276.9,90.7 L278.2,91.7 L279.5,93.2 L280.8,95.3 L282.2,97.5 L283.5,98.4 L284.8,98.3 L286.1,97.8 L287.4,97.6 L288.7,97.9 L290,98.3 L291.3,98.9 L292.7,99.6 L294,100.4 L295.3,101.6 L296.6,103.2 L297.9,105 L299.2,107 L300.5,108.7 L301.8,110.3 L303.2,111.8 L304.5,113.3 L305.8,114.7 L307.1,116 L308.4,117.5 L309.7,119 L311,120.5 L312.3,122 L313.7,123.4 L315,124.8 L316.3,126.1 L317.6,127.5 L318.9,128.8 L320.2,130.2 L321.5,131.8 L322.8,133.4 L324.2,135 L325.5,136.5 L326.8,138.1 L328.1,139.6 L329.4,141.2 L330.7,142.7 L332,144.2 L333.3,145.8 L334.7,147.4 L336,149.1 L337.3,150.7 L338.6,152.4 L339.9,154.1 L341.2,155.7 L342.5,157.4 L343.8,159.1 L345.2,160.8 L346.5,162.4 L347.8,164.1 L349.1,165.7 L350.4,167.3 L351.7,169 L353,170.6 L354.3,172.2 L355.7,173.8 L357,175.4 L358.3,176.9 L359.6,178.5 L360.9,179.8 L362.2,181.1 L363.5,182.4 L364.8,183.6 L366.2,184.9 L367.5,186.2 L368.8,187.4 L370.1,188.7 L371.4,189.9 L372.7,191.2 L374,191.9 L375.3,192.6 L376.7,193.3 L378,194 L379.3,194.7 L380.6,195.4 L381.9,196.1 L383.2,196.7 L384.5,197.4 L385.8,198 L387.2,198 L388.5,198.1 L389.8,198.1 L391.1,198.2 L392.4,198.2 L393.7,198.3 L395,198.3 L396.3,198.4 L397.7,198.4 L399,198.4 L400.3,198 L401.6,197.6 L402.9,197.1 L404.2,196.6 L405.5,196.1 L406.8,195.6 L408.2,195.1 L409.5,194.5 L410.8,193.9 L412.1,193.3 L413.4,192.5 L414.7,191.7 L416,190.9 L417.3,190.1 L418.7,189.2 L420,188.4 L421.3,187.5 L422.6,186.7 L423.9,185.8 L425.2,184.9 L426.5,184.2 L427.8,183.4 L429.2,182.6 L430.5,181.8 L431.8,181.1 L433.1,180.3 L434.4,179.6 L435.7,178.9 L437,178.1 L438.3,177.4 L439.7,177 L441,176.5 L442.3,176 L443.6,175.5 L444.9,175 L446.2,174.5 L447.5,174 L448.8,173.5 L450.2,173 L451.5,172.5 L452.8,172.2 L454.1,171.9 L455.4,171.7 L456.7,171.4 L458,171.2 L459.3,170.9 L460.7,170.6 L462,170.4 L463.3,170.1 L464.6,169.9 L465.9,169.9 L467.2,169.9 L468.5,169.9 L469.8,170 L471.2,170 L472.5,170 L473.8,170.1 L475.1,170.1 L476.4,170.1 L477.7,170.2 L479,170.4 L480.3,170.6 L481.7,170.8 L483,171 L484.3,171.2 L485.6,171.4 L486.9,171.7 L488.2,171.9 L489.5,172.1 L490.8,172.3 L492.2,172.6 L493.5,172.8 L494.8,173.1 L496.1,173.4 L497.4,173.6 L498.7,173.9 L500,174.2 L501.3,174.4 L502.7,174.7 L504,175 L505.3,175.2 L506.6,175.5 L507.9,175.7 L509.2,175.9 L510.5,176.2 L511.8,176.4 L513.2,176.7 L514.5,176.9 L515.8,177.1 L517.1,177.4 L518.4,177.5 L519.7,177.6 L521,177.8 L522.3,177.9 L523.7,178.1 L525,178.2 L526.3,178.3 L527.6,178.4 L528.9,178.5 L530.2,178.6 L531.5,178.3 L532.8,178.1 L534.2,177.8 L535.5,177.6 L536.8,177.3 L538.1,177 L539.4,176.8 L540.7,176.5 L542,176.2 L543.3,175.9 L544.7,175.2 L546,174.4 L547.3,173.7 L548.6,172.9 L549.9,172.2 L551.2,171.4 L552.5,170.6 L553.8,169.9 L555.2,169.1 L556.5,168.3 L557.8,167.3 L559.1,166.3 L560.4,165.3 L561.7,164.3 L563,163.3 L564.3,162.3 L565.7,161.3 L567,160.3 L568.3,159.3 L569.6,158.3 L570.9,157.5 L572.2,156.6 L573.5,155.7 L574.8,154.8 L576.2,153.9 L577.5,153 L578.8,152.1 L580.1,151.2 L581.4,150.3 L582.7,149.4 L584,148.8 L585.3,148.3 L586.7,147.7 L588,147.2 L589.3,146.6 L590.6,146.1 L591.9,145.5 L593.2,145 L594.5,144.5 L595.8,144 L597.2,143.9 L598.5,143.7 L599.8,143.6 L601.1,143.5 L602.4,143.4 L603.7,143.3 L605,143.1 L606.3,143 L607.7,142.9 L609,142.8 L610.3,143 L611.6,143.2 L612.9,143.5 L614.2,143.7 L615.5,144 L616.8,144.2 L618.2,144.4 L619.5,144.7 L620.8,144.9 L622.1,145.2 L623.4,145.8 L624.7,146.4 L626,147 L627.3,147.6 L628.7,148.2 L630,148.8 L631.3,149.4 L632.6,150 L633.9,150.6 L635.2,151.3 L636.5,152.3 L637.8,153.2 L639.2,154.2 L640.5,155.2 L641.8,156.2 L643.1,157.2 L644.4,158.2 L645.7,159.2 L647,160.1 L648.3,161.1 L649.7,162.3 L651,163.5 L652.3,164.7 L653.6,165.9 L654.9,167.1 L656.2,168.3 L657.5,169.5 L658.8,170.7 L660.2,171.9 L661.5,173.1 L662.8,174.3 L664.1,175.4 L665.4,176.6 L666.7,177.8 L668,178.9 L669.3,180.1 L670.7,181.3 L672,182.5 L673.3,183.6 L674.6,184.8" stroke="#1f8a1f" stroke-width="1.1"/>
<path d="M44.6,196.1 L45.9,196.3 L47.2,196.5 L48.5,196.7 L49.8,197 L51.2,197.3 L52.5,197.6 L53.8,198 L55.1,198.4 L56.4,198.9 L57.7,199.4 L59,199.4 L60.3,199.5 L61.7,199.7 L63,200 L64.3,200.2 L65.6,200.5 L66.9,200.8 L68.2,201.1 L69.5,201.3 L70.8,201.6 L72.2,201.4 L73.5,201.2 L74.8,201 L76.1,200.8 L77.4,200.5 L78.7,200.3 L80,200.1 L81.3,199.9 L82.7,199.6 L84,199.4 L85.3,198.8 L86.6,198.3 L87.9,197.8 L89.2,197.2 L90.5,196.7 L91.8,196.1 L93.2,195.6 L94.5,195 L95.8,194.4 L97.1,193.8 L98.4,193 L99.7,192.2 L101,191.3 L102.3,190.4 L103.7,189.4 L105,188.4 L106.3,187.4 L107.6,186.4 L108.9,185.3 L110.2,184.3 L111.5,183.3 L112.8,182.3 L114.2,181.3 L115.5,180.2 L116.8,179.1 L118.1,178 L119.4,176.8 L120.7,175.6 L122,174.4 L123.3,173.4 L124.7,172.7 L126,172 L127.3,171.4 L128.6,170.9 L129.9,170.6 L131.2,170.3 L132.5,170.1 L133.8,169.9 L135.2,169.7 L136.5,169.4 L137.8,169.1 L139.1,168.7 L140.4,168.2 L141.7,167.7 L143,167 L144.3,166.4 L145.7,165.7 L147,165.1 L148.3,164.6 L149.6,164.1 L150.9,163.8 L152.2,163.4 L153.5,163 L154.8,162.4 L156.2,161.8 L157.5,161.1 L158.8,160.5 L160.1,160 L161.4,159.6 L162.7,159.2 L164,158.9 L165.3,158.5 L166.7,158.1 L168,157.6 L169.3,157.1 L170.6,156.7 L171.9,156.3 L173.2,156 L174.5,155.8 L175.8,155.6 L177.2,155.2 L178.5,154.8 L179.8,154.3 L181.1,153.6 L182.4,152.8 L183.7,152.1 L185,151.4 L186.3,150.7 L187.7,150.2 L189,149.6 L190.3,149.1 L191.6,148.5 L192.9,147.8 L194.2,147.1 L195.5,146.3 L196.8,145.7 L198.2,145.2 L199.5,144.8 L200.8,144.5 L202.1,144.2 L203.4,143.7 L204.7,143.2 L206,142.6 L207.3,141.9 L208.7,141.2 L210,140.6 L211.3,140 L212.6,139.4 L213.9,138.9 L215.2,138.4 L216.5,137.5 L217.8,136.4 L219.2,135.3 L220.5,134.2 L221.8,133 L223.1,132 L224.4,131 L225.7,130.2 L227,129.4 L228.3,128.7 L229.7,127.7 L231,126.7 L232.3,125.6 L233.6,124.4 L234.9,123.3 L236.2,122.2 L237.5,121.2 L238.8,120.2 L240.2,119.3 L241.5,118.3 L242.8,117.3 L244.1,116.2 L245.4,115.2 L246.7,114.1 L248,113 L249.3,112 L250.7,111.1 L252,110.2 L253.3,109.4 L254.6,108.6 L255.9,108.1 L257.2,107.6 L258.5,107 L259.8,106.5 L261.2,106 L262.5,105.5 L263.8,105 L265.1,104.5 L266.4,104.1 L267.7,103.6 L269,103.4 L270.3,103.2 L271.7,103.1 L273,103 L274.3,102.9 L275.6,102.8 L276.9,102.7 L278.2,102.6 L279.5,102.5 L280.8,102.5 L282.2,102.8 L283.5,103.2 L284.8,103.6 L286.1,104 L287.4,104.5 L288.7,104.9 L290,105.4 L291.3,106 L292.7,106.5 L294,107 L295.3,107.9 L296.6,108.8 L297.9,109.8 L299.2,110.7 L300.5,111.7 L301.8,112.8 L303.2,113.8 L304.5,114.8 L305.8,115.8 L307.1,116.9 L308.4,118.2 L309.7,119.6 L311,120.9 L312.3,122.3 L313.7,123.7 L315,125 L316.3,126.4 L317.6,127.8 L318.9,129.1 L320.2,130.4 L321.5,132 L322.8,133.6 L324.2,135.1 L325.5,136.6 L326.8,138.2 L328.1,139.7 L329.4,141.2 L330.7,142.7 L332,144.2 L333.3,145.7 L334.7,147.3 L336,149 L337.3,150.6 L338.6,152.2 L339.9,153.9 L341.2,155.5 L342.5,157.1 L343.8,158.8 L345.2,160.4 L346.5,162.1 L347.8,163.7 L349.1,165.3 L350.4,166.8 L351.7,168.4 L353,170 L354.3,171.6 L355.7,173.2 L357,174.7 L358.3,176.3 L359.6,177.8 L360.9,179.1 L362.2,180.4 L363.5,181.7 L364.8,183 L366.2,184.4 L367.5,185.7 L368.8,187 L370.1,188.3 L371.4,189.5 L372.7,190.8 L374,191.6 L375.3,192.3 L376.7,193 L378,193.7 L379.3,194.4 L380.6,195 L381.9,195.7 L383.2,196.4 L384.5,197 L385.8,197.6 L387.2,197.7 L388.5,197.7 L389.8,197.7 L391.1,197.8 L392.4,197.8 L393.7,197.8 L395,197.9 L396.3,197.9 L397.7,197.9 L399,197.9 L400.3,197.4 L401.6,197 L402.9,196.5 L404.2,196 L405.5,195.5 L406.8,194.9 L408.2,194.4 L409.5,193.8 L410.8,193.2 L412.1,192.6 L413.4,191.8 L414.7,191 L416,190.2 L417.3,189.4 L418.7,188.5 L420,187.7 L421.3,186.8 L422.6,186 L423.9,185.1 L425.2,184.3 L426.5,183.5 L427.8,182.7 L429.2,181.9 L430.5,181.2 L431.8,180.4 L433.1,179.6 L434.4,178.9 L435.7,178.2 L437,177.4 L438.3,176.7 L439.7,176.3 L441,175.8 L442.3,175.3 L443.6,174.8 L444.9,174.3 L446.2,173.8 L447.5,173.3 L448.8,172.8 L450.2,172.3 L451.5,171.8 L452.8,171.5 L454.1,171.3 L455.4,171 L456.7,170.7 L458,170.5 L459.3,170.2 L460.7,169.9 L462,169.7 L463.3,169.4 L464.6,169.2 L465.9,169.2 L467.2,169.2 L468.5,169.2 L469.8,169.3 L471.2,169.3 L472.5,169.3 L473.8,169.4 L475.1,169.4 L476.4,169.4 L477.7,169.5 L479,169.7 L480.3,169.9 L481.7,170.1 L483,170.3 L484.3,170.5 L485.6,170.8 L486.9,171 L488.2,171.2 L489.5,171.4 L490.8,171.6 L492.2,171.9 L493.5,172.1 L494.8,172.4 L496.1,172.7 L497.4,172.9 L498.7,173.2 L500,173.5 L501.3,173.8 L502.7,174 L504,174.3 L505.3,174.5 L506.6,174.8 L507.9,175 L509.2,175.3 L510.5,175.5 L511.8,175.7 L513.2,176 L514.5,176.2 L515.8,176.4 L517.1,176.7 L518.4,176.8 L519.7,176.9 L521,177.1 L522.3,177.2 L523.7,177.4 L525,177.5 L526.3,177.6 L527.6,177.7 L528.9,177.8 L530.2,177.9 L531.5,177.6 L532.8,177.4 L534.2,177.1 L535.5,176.9 L536.8,176.6 L538.1,176.3 L539.4,176.1 L540.7,175.8 L542,175.5 L543.3,175.2 L544.7,174.5 L546,173.7 L547.3,173 L548.6,172.2 L549.9,171.5 L551.2,170.7 L552.5,169.9 L553.8,169.2 L555.2,168.4 L556.5,167.6 L557.8,166.6 L559.1,165.6 L560.4,164.6 L561.7,163.6 L563,162.6 L564.3,161.6 L565.7,160.6 L567,159.7 L568.3,158.7 L569.6,157.7 L570.9,156.8 L572.2,155.9 L573.5,155 L574.8,154.1 L576.2,153.2 L577.5,152.3 L578.8,151.4 L580.1,150.5 L581.4,149.6 L582.7,148.7 L584,148.1 L585.3,147.6 L586.7,147 L588,146.5 L589.3,145.9 L590.6,145.4 L591.9,144.8 L593.2,144.3 L594.5,143.8 L595.8,143.3 L597.2,143.2 L598.5,143.1 L599.8,142.9 L601.1,142.8 L602.4,142.7 L603.7,142.6 L605,142.4 L606.3,142.3 L607.7,142.2 L609,142.1 L610.3,142.3 L611.6,142.6 L612.9,142.8 L614.2,143 L615.5,143.3 L616.8,143.5 L618.2,143.8 L619.5,144 L620.8,144.3 L622.1,144.5 L623.4,145.1 L624.7,145.7 L626,146.3 L627.3,146.9 L628.7,147.5 L630,148.1 L631.3,148.7 L632.6,149.3 L633.9,150 L635.2,150.6 L636.5,151.6 L637.8,152.5 L639.2,153.5 L640.5,154.5 L641.8,155.5 L643.1,156.5 L644.4,157.5 L645.7,158.5 L647,159.4 L648.3,160.4 L649.7,161.6 L651,162.8 L652.3,164 L653.6,165.2 L654.9,166.4 L656.2,167.6 L657.5,168.8 L658.8,170 L660.2,171.2 L661.5,172.4 L662.8,173.6 L664.1,174.8 L665.4,175.9 L666.7,177.1 L668,178.3 L669.3,179.4 L670.7,180.6 L672,181.8 L673.3,182.9 L674.6,184.1" stroke="#ee1111" stroke-width="1.65"/>
<path d="M44.6,229 L45.9,228.7 L47.2,228.4 L48.5,228.1 L49.8,227.9 L51.2,227.7 L52.5,227.5 L53.8,227.4 L55.1,227.4 L56.4,227.3 L57.7,227.3 L59,227.3 L60.3,227.5 L61.7,227.7 L63,227.9 L64.3,228.2 L65.6,228.5 L66.9,228.8 L68.2,229 L69.5,229.3 L70.8,229.5 L72.2,229.7 L73.5,229.9 L74.8,230 L76.1,230.2 L77.4,230.4 L78.7,230.5 L80,230.7 L81.3,230.8 L82.7,231 L84,231.1 L85.3,231.2 L86.6,231.3 L87.9,231.4 L89.2,231.5 L90.5,231.6 L91.8,231.7 L93.2,231.8 L94.5,231.9 L95.8,231.9 L97.1,231.9 L98.4,231.9 L99.7,231.8 L101,231.6 L102.3,231.4 L103.7,231.1 L105,230.8 L106.3,230.5 L107.6,230.2 L108.9,229.8 L110.2,229.5 L111.5,229.1 L112.8,228.7 L114.2,228.3 L115.5,227.8 L116.8,227.3 L118.1,226.8 L119.4,226.2 L120.7,225.5 L122,225 L123.3,224.6 L124.7,224.3 L126,224 L127.3,223.8 L128.6,223.7 L129.9,223.8 L131.2,223.9 L132.5,224.1 L133.8,224.3 L135.2,224.5 L136.5,224.5 L137.8,224.5 L139.1,224.3 L140.4,224 L141.7,223.7 L143,223.3 L144.3,223 L145.7,222.5 L147,222 L148.3,221.5 L149.6,220.9 L150.9,220.5 L152.2,220.1 L153.5,219.8 L154.8,219.4 L156.2,218.9 L157.5,218.5 L158.8,218 L160.1,217.6 L161.4,217.4 L162.7,217.1 L164,216.8 L165.3,216.3 L166.7,215.8 L168,215.1 L169.3,214.5 L170.6,213.9 L171.9,213.4 L173.2,212.8 L174.5,212.2 L175.8,211.5 L177.2,210.7 L178.5,210 L179.8,209.4 L181.1,208.9 L182.4,208.4 L183.7,207.9 L185,207.3 L186.3,206.5 L187.7,205.8 L189,205.1 L190.3,204.5 L191.6,203.9 L192.9,203.2 L194.2,202.3 L195.5,201.4 L196.8,200.5 L198.2,199.7 L199.5,199.1 L200.8,198.5 L202.1,198 L203.4,197.5 L204.7,196.9 L206,196.3 L207.3,195.7 L208.7,195.2 L210,194.8 L211.3,194.4 L212.6,193.9 L213.9,193.2 L215.2,192.5 L216.5,191.8 L217.8,191.2 L219.2,190.7 L220.5,190.3 L221.8,189.8 L223.1,189.3 L224.4,188.8 L225.7,188.3 L227,187.9 L228.3,187.7 L229.7,187.5 L231,187.3 L232.3,187 L233.6,186.6 L234.9,186.1 L236.2,185.7 L237.5,185.4 L238.8,185.1 L240.2,184.9 L241.5,184.6 L242.8,184.3 L244.1,184 L245.4,183.8 L246.7,183.6 L248,183.4 L249.3,183.3 L250.7,183.1 L252,183 L253.3,182.8 L254.6,182.7 L255.9,182.6 L257.2,182.5 L258.5,182.4 L259.8,182.4 L261.2,182.3 L262.5,182.2 L263.8,182.2 L265.1,182.1 L266.4,182.1 L267.7,182.1 L269,182.1 L270.3,182.1 L271.7,182.1 L273,182.1 L274.3,182.2 L275.6,182.2 L276.9,182.3 L278.2,182.3 L279.5,182.3 L280.8,182.4 L282.2,182.5 L283.5,182.6 L284.8,182.7 L286.1,182.8 L287.4,182.9 L288.7,183.1 L290,183.3 L291.3,183.5 L292.7,183.7 L294,184 L295.3,184.3 L296.6,184.7 L297.9,185.2 L299.2,185.7 L300.5,186.3 L301.8,187 L303.2,187.6 L304.5,188.3 L305.8,189 L307.1,189.6 L308.4,190.3 L309.7,190.9 L311,191.6 L312.3,192.3 L313.7,193.1 L315,193.8 L316.3,194.5 L317.6,195.2 L318.9,195.9 L320.2,196.5 L321.5,197.2 L322.8,197.8 L324.2,198.4 L325.5,199 L326.8,199.6 L328.1,200.2 L329.4,200.8 L330.7,201.4 L332,201.9 L333.3,202.5 L334.7,203 L336,203.6 L337.3,204.1 L338.6,204.6 L339.9,205.1 L341.2,205.6 L342.5,206.1 L343.8,206.6 L345.2,207 L346.5,207.5 L347.8,208 L349.1,208.5 L350.4,208.9 L351.7,209.4 L353,209.8 L354.3,210.3 L355.7,210.7 L357,211.1 L358.3,211.5 L359.6,211.9 L360.9,212.3 L362.2,212.7 L363.5,213 L364.8,213.4 L366.2,213.7 L367.5,214.1 L368.8,214.4 L370.1,214.7 L371.4,215.1 L372.7,215.4 L374,215.7 L375.3,216 L376.7,216.3 L378,216.6 L379.3,216.9 L380.6,217.1 L381.9,217.4 L383.2,217.7 L384.5,217.9 L385.8,218.2 L387.2,218.5 L388.5,218.7 L389.8,219 L391.1,219.3 L392.4,219.6 L393.7,219.9 L395,220.2 L396.3,220.5 L397.7,220.7 L399,221 L400.3,221.3 L401.6,221.5 L402.9,221.8 L404.2,222 L405.5,222.1 L406.8,222.3 L408.2,222.4 L409.5,222.5 L410.8,222.6 L412.1,222.6 L413.4,222.6 L414.7,222.5 L416,222.5 L417.3,222.4 L418.7,222.3 L420,222.1 L421.3,222 L422.6,221.9 L423.9,221.8 L425.2,221.7 L426.5,221.6 L427.8,221.5 L429.2,221.4 L430.5,221.4 L431.8,221.3 L433.1,221.3 L434.4,221.4 L435.7,221.4 L437,221.5 L438.3,221.6 L439.7,221.7 L441,221.8 L442.3,222 L443.6,222.2 L444.9,222.5 L446.2,222.9 L447.5,223.3 L448.8,223.8 L450.2,224.2 L451.5,224.5 L452.8,224.7 L454.1,225 L455.4,225.2 L456.7,225.4 L458,225.6 L459.3,225.8 L460.7,225.9 L462,226.1 L463.3,226.2 L464.6,226.4 L465.9,226.5 L467.2,226.6 L468.5,226.7 L469.8,226.8 L471.2,227 L472.5,227.1 L473.8,227.2 L475.1,227.3 L476.4,227.3 L477.7,227.4 L479,227.5 L480.3,227.6 L481.7,227.7 L483,227.8 L484.3,227.9 L485.6,227.9 L486.9,228 L488.2,228.1 L489.5,228.2 L490.8,228.2 L492.2,228.3 L493.5,228.4 L494.8,228.5 L496.1,228.5 L497.4,228.6 L498.7,228.7 L500,228.7 L501.3,228.8 L502.7,228.8 L504,228.9 L505.3,229 L506.6,229 L507.9,229.1 L509.2,229.1 L510.5,229.2 L511.8,229.3 L513.2,229.3 L514.5,229.4 L515.8,229.4 L517.1,229.5 L518.4,229.6 L519.7,229.6 L521,229.7 L522.3,229.8 L523.7,229.9 L525,230 L526.3,230 L527.6,230.1 L528.9,230.1 L530.2,230.1 L531.5,230.1 L532.8,230.1 L534.2,230.1 L535.5,230.1 L536.8,230 L538.1,230 L539.4,229.9 L540.7,229.9 L542,229.9 L543.3,229.8 L544.7,229.8 L546,229.7 L547.3,229.7 L548.6,229.6 L549.9,229.6 L551.2,229.5 L552.5,229.5 L553.8,229.4 L555.2,229.3 L556.5,229.3 L557.8,229.2 L559.1,229.1 L560.4,229.1 L561.7,229 L563,228.9 L564.3,228.8 L565.7,228.8 L567,228.7 L568.3,228.6 L569.6,228.6 L570.9,228.5 L572.2,228.4 L573.5,228.3 L574.8,228.2 L576.2,228.1 L577.5,228 L578.8,228 L580.1,227.9 L581.4,227.8 L582.7,227.7 L584,227.6 L585.3,227.5 L586.7,227.4 L588,227.3 L589.3,227.2 L590.6,227.2 L591.9,227.1 L593.2,227.1 L594.5,227 L595.8,227 L597.2,227 L598.5,226.9 L599.8,226.9 L601.1,226.9 L602.4,226.9 L603.7,226.8 L605,226.8 L606.3,226.8 L607.7,226.8 L609,226.8 L610.3,226.7 L611.6,226.7 L612.9,226.7 L614.2,226.7 L615.5,226.7 L616.8,226.7 L618.2,226.7 L619.5,226.7 L620.8,226.7 L622.1,226.7 L623.4,226.7 L624.7,226.7 L626,226.7 L627.3,226.7 L628.7,226.7 L630,226.8 L631.3,226.8 L632.6,226.8 L633.9,226.9 L635.2,226.9 L636.5,226.9 L637.8,227 L639.2,227 L640.5,227.1 L641.8,227.1 L643.1,227.2 L644.4,227.2 L645.7,227.2 L647,227.3 L648.3,227.3 L649.7,227.3 L651,227.4 L652.3,227.4 L653.6,227.4 L654.9,227.5 L656.2,227.5 L657.5,227.5 L658.8,227.6 L660.2,227.6 L661.5,227.6 L662.8,227.6 L664.1,227.7 L665.4,227.7 L666.7,227.7 L668,227.8 L669.3,227.8 L670.7,227.8 L672,227.9 L673.3,227.9 L674.6,227.9" stroke="#22c5cf" stroke-width="1.1" stroke-dasharray="3.2,1.7"/>
<path d="M44.6,229 L45.9,228.7 L47.2,228.4 L48.5,228.1 L49.8,227.9 L51.2,227.7 L52.5,227.5 L53.8,227.4 L55.1,227.4 L56.4,227.3 L57.7,227.3 L59,227.3 L60.3,227.5 L61.7,227.7 L63,227.9 L64.3,228.2 L65.6,228.5 L66.9,228.8 L68.2,229 L69.5,229.3 L70.8,229.5 L72.2,229.7 L73.5,229.9 L74.8,230 L76.1,230.2 L77.4,230.4 L78.7,230.5 L80,230.7 L81.3,230.8 L82.7,231 L84,231.1 L85.3,231.2 L86.6,231.3 L87.9,231.4 L89.2,231.5 L90.5,231.6 L91.8,231.7 L93.2,231.8 L94.5,231.9 L95.8,231.9 L97.1,231.9 L98.4,231.9 L99.7,231.8 L101,231.6 L102.3,231.4 L103.7,231.1 L105,230.8 L106.3,230.5 L107.6,230.2 L108.9,229.8 L110.2,229.5 L111.5,229.1 L112.8,228.7 L114.2,228.3 L115.5,227.8 L116.8,227.3 L118.1,226.8 L119.4,226.2 L120.7,225.5 L122,225 L123.3,224.6 L124.7,224.3 L126,224 L127.3,223.8 L128.6,223.7 L129.9,223.8 L131.2,223.9 L132.5,224.1 L133.8,224.3 L135.2,224.5 L136.5,224.5 L137.8,224.5 L139.1,224.3 L140.4,224 L141.7,223.8 L143,223.4 L144.3,222.9 L145.7,222.4 L147,221.8 L148.3,221.4 L149.6,221 L150.9,220.5 L152.2,219.9 L153.5,219.4 L154.8,219.2 L156.2,219.2 L157.5,219.1 L158.8,218.6 L160.1,218.1 L161.4,217.6 L162.7,217.2 L164,216.7 L165.3,216 L166.7,215 L168,214.2 L169.3,213.6 L170.6,213.2 L171.9,212.7 L173.2,212.1 L174.5,211.3 L175.8,210.7 L177.2,210.3 L178.5,209.7 L179.8,208.9 L181.1,207.8 L182.4,206.7 L183.7,205.8 L185,205.1 L186.3,204.4 L187.7,203.7 L189,202.8 L190.3,202.2 L191.6,201.8 L192.9,201.4 L194.2,200.9 L195.5,200.1 L196.8,199.1 L198.2,198.3 L199.5,197.7 L200.8,197.1 L202.1,196.4 L203.4,195.5 L204.7,194.8 L206,194.4 L207.3,194.2 L208.7,193.8 L210,193.3 L211.3,192.6 L212.6,192 L213.9,191.6 L215.2,191.2 L216.5,190.6 L217.8,189.8 L219.2,189 L220.5,188.6 L221.8,188.5 L223.1,188.4 L224.4,188.1 L225.7,187.7 L227,187.4 L228.3,187.4 L229.7,187.3 L231,187 L232.3,186.5 L233.6,186 L234.9,185.7 L236.2,185.6 L237.5,185.6 L238.8,185.4 L240.2,185.2 L241.5,185.1 L242.8,185.1 L244.1,185.1 L245.4,185 L246.7,184.8 L248,184.6 L249.3,184.5 L250.7,184.4 L252,184.3 L253.3,184.3 L254.6,184.3 L255.9,184.3 L257.2,184.3 L258.5,184.3 L259.8,184.3 L261.2,184.3 L262.5,184.3 L263.8,184.3 L265.1,184.3 L266.4,184.3 L267.7,184.3 L269,184.3 L270.3,184.4 L271.7,184.5 L273,184.6 L274.3,184.8 L275.6,184.9 L276.9,185.2 L278.2,185.4 L279.5,185.6 L280.8,185.9 L282.2,186.2 L283.5,186.5 L284.8,187 L286.1,187.6 L287.4,188.2 L288.7,188.8 L290,189.5 L291.3,190.2 L292.7,190.8 L294,191.5 L295.3,192.2 L296.6,192.9 L297.9,193.7 L299.2,194.5 L300.5,195.3 L301.8,196.2 L303.2,197 L304.5,197.8 L305.8,198.6 L307.1,199.4 L308.4,200.1 L309.7,200.8 L311,201.5 L312.3,202.3 L313.7,203 L315,203.7 L316.3,204.3 L317.6,205 L318.9,205.6 L320.2,206.3 L321.5,206.9 L322.8,207.4 L324.2,208 L325.5,208.6 L326.8,209.1 L328.1,209.6 L329.4,210.1 L330.7,210.6 L332,211.1 L333.3,211.6 L334.7,212.1 L336,212.5 L337.3,212.9 L338.6,213.3 L339.9,213.7 L341.2,214.1 L342.5,214.5 L343.8,214.9 L345.2,215.3 L346.5,215.7 L347.8,216.1 L349.1,216.5 L350.4,216.9 L351.7,217.2 L353,217.6 L354.3,218 L355.7,218.4 L357,218.7 L358.3,219.1 L359.6,219.5 L360.9,219.8 L362.2,220.1 L363.5,220.5 L364.8,220.8 L366.2,221.2 L367.5,221.5 L368.8,221.8 L370.1,222.1 L371.4,222.3 L372.7,222.6 L374,222.8 L375.3,223 L376.7,223.2 L378,223.4 L379.3,223.6 L380.6,223.8 L381.9,224 L383.2,224.1 L384.5,224.3 L385.8,224.5 L387.2,224.7 L388.5,224.9 L389.8,225.1 L391.1,225.3 L392.4,225.5 L393.7,225.7 L395,225.9 L396.3,226.2 L397.7,226.4 L399,226.6 L400.3,226.8 L401.6,227 L402.9,227.2 L404.2,227.3 L405.5,227.5 L406.8,227.6 L408.2,227.7 L409.5,227.8 L410.8,227.9 L412.1,227.9 L413.4,228 L414.7,228 L416,228 L417.3,228 L418.7,228.1 L420,228.1 L421.3,228.1 L422.6,228.1 L423.9,228.1 L425.2,228.2 L426.5,228.2 L427.8,228.2 L429.2,228.2 L430.5,228.2 L431.8,228.2 L433.1,228.2 L434.4,228.2 L435.7,228.2 L437,228.2 L438.3,228.2 L439.7,228.2 L441,228.2 L442.3,228.2 L443.6,228.2 L444.9,228.2 L446.2,228.2 L447.5,228.2 L448.8,228.1 L450.2,228.1 L451.5,228.1 L452.8,228.1 L454.1,228 L455.4,228 L456.7,228 L458,228 L459.3,228 L460.7,227.9 L462,227.9 L463.3,227.9 L464.6,227.9 L465.9,227.9 L467.2,227.9 L468.5,227.9 L469.8,227.9 L471.2,228 L472.5,228 L473.8,228 L475.1,228 L476.4,228 L477.7,228 L479,228 L480.3,228.1 L481.7,228.1 L483,228.1 L484.3,228.1 L485.6,228.1 L486.9,228.2 L488.2,228.2 L489.5,228.2 L490.8,228.2 L492.2,228.3 L493.5,228.3 L494.8,228.4 L496.1,228.4 L497.4,228.5 L498.7,228.5 L500,228.6 L501.3,228.6 L502.7,228.7 L504,228.8 L505.3,228.9 L506.6,228.9 L507.9,229 L509.2,229.1 L510.5,229.2 L511.8,229.2 L513.2,229.3 L514.5,229.4 L515.8,229.4 L517.1,229.5 L518.4,229.6 L519.7,229.6 L521,229.7 L522.3,229.8 L523.7,229.9 L525,230 L526.3,230 L527.6,230.1 L528.9,230.1 L530.2,230.1 L531.5,230.1 L532.8,230.1 L534.2,230.1 L535.5,230.1 L536.8,230 L538.1,230 L539.4,229.9 L540.7,229.9 L542,229.9 L543.3,229.8 L544.7,229.8 L546,229.7 L547.3,229.7 L548.6,229.6 L549.9,229.6 L551.2,229.5 L552.5,229.5 L553.8,229.4 L555.2,229.3 L556.5,229.3 L557.8,229.2 L559.1,229.1 L560.4,229.1 L561.7,229 L563,228.9 L564.3,228.8 L565.7,228.8 L567,228.7 L568.3,228.6 L569.6,228.6 L570.9,228.5 L572.2,228.4 L573.5,228.3 L574.8,228.2 L576.2,228.1 L577.5,228 L578.8,228 L580.1,227.9 L581.4,227.8 L582.7,227.7 L584,227.6 L585.3,227.5 L586.7,227.4 L588,227.3 L589.3,227.2 L590.6,227.2 L591.9,227.1 L593.2,227.1 L594.5,227 L595.8,227 L597.2,227 L598.5,226.9 L599.8,226.9 L601.1,226.9 L602.4,226.9 L603.7,226.8 L605,226.8 L606.3,226.8 L607.7,226.8 L609,226.8 L610.3,226.7 L611.6,226.7 L612.9,226.7 L614.2,226.7 L615.5,226.7 L616.8,226.7 L618.2,226.7 L619.5,226.7 L620.8,226.7 L622.1,226.7 L623.4,226.7 L624.7,226.7 L626,226.7 L627.3,226.7 L628.7,226.7 L630,226.8 L631.3,226.8 L632.6,226.8 L633.9,226.9 L635.2,226.9 L636.5,226.9 L637.8,227 L639.2,227 L640.5,227.1 L641.8,227.1 L643.1,227.2 L644.4,227.2 L645.7,227.2 L647,227.3 L648.3,227.3 L649.7,227.3 L651,227.4 L652.3,227.4 L653.6,227.4 L654.9,227.5 L656.2,227.5 L657.5,227.5 L658.8,227.6 L660.2,227.6 L661.5,227.6 L662.8,227.6 L664.1,227.7 L665.4,227.7 L666.7,227.7 L668,227.8 L669.3,227.8 L670.7,227.8 L672,227.9 L673.3,227.9 L674.6,227.9" stroke="#cc22cc" stroke-width="1.1" stroke-dasharray="3.2,1.7"/>
<path d="M44.6,229 L45.9,228.7 L47.2,228.4 L48.5,228.1 L49.8,227.9 L51.2,227.7 L52.5,227.5 L53.8,227.4 L55.1,227.4 L56.4,227.3 L57.7,227.3 L59,227.3 L60.3,227.5 L61.7,227.7 L63,227.9 L64.3,228.2 L65.6,228.5 L66.9,228.8 L68.2,229 L69.5,229.3 L70.8,229.5 L72.2,229.7 L73.5,229.9 L74.8,230 L76.1,230.2 L77.4,230.4 L78.7,230.5 L80,230.7 L81.3,230.8 L82.7,231 L84,231.1 L85.3,231.2 L86.6,231.3 L87.9,231.4 L89.2,231.5 L90.5,231.6 L91.8,231.7 L93.2,231.8 L94.5,231.9 L95.8,231.9 L97.1,231.9 L98.4,231.9 L99.7,231.8 L101,231.6 L102.3,231.4 L103.7,231.1 L105,230.8 L106.3,230.5 L107.6,230.2 L108.9,229.8 L110.2,229.5 L111.5,229.1 L112.8,228.7 L114.2,228.3 L115.5,227.8 L116.8,227.3 L118.1,226.8 L119.4,226.2 L120.7,225.5 L122,225 L123.3,224.6 L124.7,224.3 L126,224 L127.3,223.8 L128.6,223.7 L129.9,223.8 L131.2,223.9 L132.5,224.1 L133.8,224.3 L135.2,224.5 L136.5,224.5 L137.8,224.4 L139.1,224.2 L140.4,223.9 L141.7,223.4 L143,223 L144.3,222.5 L145.7,222 L147,221.4 L148.3,220.9 L149.6,220.3 L150.9,219.6 L152.2,219 L153.5,218.3 L154.8,217.7 L156.2,217.1 L157.5,216.5 L158.8,215.8 L160.1,215 L161.4,214.2 L162.7,213.4 L164,212.7 L165.3,212.1 L166.7,211.5 L168,211 L169.3,210.4 L170.6,209.8 L171.9,209.1 L173.2,208.3 L174.5,207.5 L175.8,206.7 L177.2,205.9 L178.5,205.2 L179.8,204.4 L181.1,203.6 L182.4,202.7 L183.7,201.7 L185,200.7 L186.3,199.8 L187.7,199 L189,198.3 L190.3,197.8 L191.6,197.4 L192.9,197 L194.2,196.6 L195.5,196.1 L196.8,195.6 L198.2,195.1 L199.5,194.7 L200.8,194.3 L202.1,193.9 L203.4,193.5 L204.7,193.1 L206,192.5 L207.3,191.9 L208.7,191.2 L210,190.5 L211.3,189.8 L212.6,189.3 L213.9,188.8 L215.2,188.5 L216.5,188.1 L217.8,187.7 L219.2,187.2 L220.5,186.7 L221.8,186.3 L223.1,185.9 L224.4,185.7 L225.7,185.5 L227,185.5 L228.3,185.6 L229.7,185.6 L231,185.5 L232.3,185.3 L233.6,185.1 L234.9,185 L236.2,184.9 L237.5,184.9 L238.8,184.9 L240.2,184.9 L241.5,184.9 L242.8,184.9 L244.1,184.9 L245.4,185 L246.7,185.2 L248,185.4 L249.3,185.6 L250.7,185.9 L252,186.1 L253.3,186.3 L254.6,186.5 L255.9,186.7 L257.2,186.9 L258.5,187.1 L259.8,187.4 L261.2,187.6 L262.5,187.9 L263.8,188.1 L265.1,188.4 L266.4,188.7 L267.7,189 L269,189.3 L270.3,189.6 L271.7,190 L273,190.4 L274.3,190.7 L275.6,191.1 L276.9,191.5 L278.2,191.9 L279.5,192.3 L280.8,192.8 L282.2,193.2 L283.5,193.6 L284.8,194.1 L286.1,194.6 L287.4,195 L288.7,195.5 L290,196 L291.3,196.5 L292.7,197 L294,197.5 L295.3,198 L296.6,198.4 L297.9,198.9 L299.2,199.4 L300.5,199.9 L301.8,200.4 L303.2,200.9 L304.5,201.4 L305.8,202 L307.1,202.5 L308.4,203.1 L309.7,203.7 L311,204.3 L312.3,204.9 L313.7,205.5 L315,206.2 L316.3,206.8 L317.6,207.4 L318.9,207.9 L320.2,208.5 L321.5,209 L322.8,209.4 L324.2,209.9 L325.5,210.4 L326.8,210.8 L328.1,211.2 L329.4,211.7 L330.7,212.1 L332,212.5 L333.3,212.9 L334.7,213.2 L336,213.6 L337.3,214 L338.6,214.3 L339.9,214.7 L341.2,215 L342.5,215.4 L343.8,215.7 L345.2,216 L346.5,216.3 L347.8,216.6 L349.1,216.9 L350.4,217.2 L351.7,217.5 L353,217.8 L354.3,218.1 L355.7,218.3 L357,218.6 L358.3,218.9 L359.6,219.1 L360.9,219.4 L362.2,219.7 L363.5,219.9 L364.8,220.2 L366.2,220.5 L367.5,220.7 L368.8,221 L370.1,221.2 L371.4,221.4 L372.7,221.6 L374,221.9 L375.3,222.1 L376.7,222.3 L378,222.5 L379.3,222.7 L380.6,222.8 L381.9,223 L383.2,223.2 L384.5,223.4 L385.8,223.5 L387.2,223.7 L388.5,223.9 L389.8,224 L391.1,224.2 L392.4,224.4 L393.7,224.6 L395,224.7 L396.3,224.9 L397.7,225.1 L399,225.2 L400.3,225.4 L401.6,225.5 L402.9,225.7 L404.2,225.8 L405.5,225.9 L406.8,226 L408.2,226.1 L409.5,226.2 L410.8,226.3 L412.1,226.4 L413.4,226.4 L414.7,226.5 L416,226.5 L417.3,226.5 L418.7,226.6 L420,226.6 L421.3,226.7 L422.6,226.7 L423.9,226.7 L425.2,226.8 L426.5,226.8 L427.8,226.8 L429.2,226.8 L430.5,226.9 L431.8,226.9 L433.1,226.9 L434.4,226.9 L435.7,226.9 L437,227 L438.3,227 L439.7,227 L441,227 L442.3,227 L443.6,227.1 L444.9,227.1 L446.2,227.1 L447.5,227.1 L448.8,227.1 L450.2,227.1 L451.5,227.1 L452.8,227.2 L454.1,227.2 L455.4,227.2 L456.7,227.2 L458,227.2 L459.3,227.2 L460.7,227.2 L462,227.3 L463.3,227.3 L464.6,227.3 L465.9,227.3 L467.2,227.4 L468.5,227.4 L469.8,227.4 L471.2,227.5 L472.5,227.5 L473.8,227.6 L475.1,227.6 L476.4,227.6 L477.7,227.7 L479,227.7 L480.3,227.8 L481.7,227.9 L483,227.9 L484.3,228 L485.6,228 L486.9,228.1 L488.2,228.1 L489.5,228.2 L490.8,228.2 L492.2,228.3 L493.5,228.4 L494.8,228.4 L496.1,228.5 L497.4,228.5 L498.7,228.6 L500,228.7 L501.3,228.7 L502.7,228.8 L504,228.8 L505.3,228.9 L506.6,229 L507.9,229 L509.2,229.1 L510.5,229.2 L511.8,229.2 L513.2,229.3 L514.5,229.4 L515.8,229.4 L517.1,229.5 L518.4,229.6 L519.7,229.6 L521,229.7 L522.3,229.8 L523.7,229.9 L525,230 L526.3,230 L527.6,230.1 L528.9,230.1 L530.2,230.1 L531.5,230.1 L532.8,230.1 L534.2,230.1 L535.5,230.1 L536.8,230 L538.1,230 L539.4,229.9 L540.7,229.9 L542,229.9 L543.3,229.8 L544.7,229.8 L546,229.7 L547.3,229.7 L548.6,229.6 L549.9,229.6 L551.2,229.5 L552.5,229.5 L553.8,229.4 L555.2,229.3 L556.5,229.3 L557.8,229.2 L559.1,229.1 L560.4,229.1 L561.7,229 L563,228.9 L564.3,228.8 L565.7,228.8 L567,228.7 L568.3,228.6 L569.6,228.6 L570.9,228.5 L572.2,228.4 L573.5,228.3 L574.8,228.2 L576.2,228.1 L577.5,228 L578.8,228 L580.1,227.9 L581.4,227.8 L582.7,227.7 L584,227.6 L585.3,227.5 L586.7,227.4 L588,227.3 L589.3,227.2 L590.6,227.2 L591.9,227.1 L593.2,227.1 L594.5,227 L595.8,227 L597.2,227 L598.5,226.9 L599.8,226.9 L601.1,226.9 L602.4,226.9 L603.7,226.8 L605,226.8 L606.3,226.8 L607.7,226.8 L609,226.8 L610.3,226.7 L611.6,226.7 L612.9,226.7 L614.2,226.7 L615.5,226.7 L616.8,226.7 L618.2,226.7 L619.5,226.7 L620.8,226.7 L622.1,226.7 L623.4,226.7 L624.7,226.7 L626,226.7 L627.3,226.7 L628.7,226.7 L630,226.8 L631.3,226.8 L632.6,226.8 L633.9,226.9 L635.2,226.9 L636.5,226.9 L637.8,227 L639.2,227 L640.5,227.1 L641.8,227.1 L643.1,227.2 L644.4,227.2 L645.7,227.2 L647,227.3 L648.3,227.3 L649.7,227.3 L651,227.4 L652.3,227.4 L653.6,227.4 L654.9,227.5 L656.2,227.5 L657.5,227.5 L658.8,227.6 L660.2,227.6 L661.5,227.6 L662.8,227.6 L664.1,227.7 L665.4,227.7 L666.7,227.7 L668,227.8 L669.3,227.8 L670.7,227.8 L672,227.9 L673.3,227.9 L674.6,227.9" stroke="#ff9a2e" stroke-width="1.1" stroke-dasharray="3.2,1.7"/>
<path d="M44.6,229 L45.9,228.7 L47.2,228.4 L48.5,228.1 L49.8,227.9 L51.2,227.7 L52.5,227.5 L53.8,227.4 L55.1,227.4 L56.4,227.3 L57.7,227.3 L59,227.3 L60.3,227.5 L61.7,227.7 L63,227.9 L64.3,228.2 L65.6,228.5 L66.9,228.8 L68.2,229 L69.5,229.3 L70.8,229.5 L72.2,229.7 L73.5,229.9 L74.8,230 L76.1,230.2 L77.4,230.4 L78.7,230.5 L80,230.7 L81.3,230.8 L82.7,231 L84,231.1 L85.3,231.2 L86.6,231.3 L87.9,231.4 L89.2,231.5 L90.5,231.6 L91.8,231.7 L93.2,231.8 L94.5,231.9 L95.8,231.9 L97.1,231.9 L98.4,231.9 L99.7,231.8 L101,231.6 L102.3,231.4 L103.7,231.1 L105,230.8 L106.3,230.5 L107.6,230.2 L108.9,229.8 L110.2,229.5 L111.5,229.1 L112.8,228.7 L114.2,228.3 L115.5,227.8 L116.8,227.3 L118.1,226.8 L119.4,226.2 L120.7,225.5 L122,225 L123.3,224.6 L124.7,224.3 L126,224 L127.3,223.8 L128.6,223.7 L129.9,223.8 L131.2,223.9 L132.5,224.1 L133.8,224.3 L135.2,224.5 L136.5,224.5 L137.8,224.5 L139.1,224.4 L140.4,224.3 L141.7,224.1 L143,223.9 L144.3,223.7 L145.7,223.4 L147,223.2 L148.3,222.8 L149.6,222.5 L150.9,222.2 L152.2,221.8 L153.5,221.6 L154.8,221.4 L156.2,221.3 L157.5,221.2 L158.8,221 L160.1,220.7 L161.4,220.4 L162.7,220.1 L164,219.9 L165.3,219.7 L166.7,219.5 L168,219.3 L169.3,218.9 L170.6,218.5 L171.9,218 L173.2,217.5 L174.5,217 L175.8,216.7 L177.2,216.3 L178.5,216 L179.8,215.5 L181.1,215 L182.4,214.4 L183.7,213.8 L185,213.4 L186.3,213 L187.7,212.6 L189,212.3 L190.3,211.8 L191.6,211.3 L192.9,210.7 L194.2,210 L195.5,209.5 L196.8,209 L198.2,208.5 L199.5,208.1 L200.8,207.6 L202.1,207.1 L203.4,206.5 L204.7,206 L206,205.5 L207.3,205.1 L208.7,204.9 L210,204.6 L211.3,204.3 L212.6,203.9 L213.9,203.5 L215.2,203 L216.5,202.5 L217.8,202.2 L219.2,201.8 L220.5,201.5 L221.8,201.2 L223.1,200.8 L224.4,200.3 L225.7,199.8 L227,199.3 L228.3,199 L229.7,198.7 L231,198.5 L232.3,198.3 L233.6,197.9 L234.9,197.6 L236.2,197.2 L237.5,196.8 L238.8,196.4 L240.2,196.1 L241.5,195.7 L242.8,195.4 L244.1,195 L245.4,194.5 L246.7,194.1 L248,193.7 L249.3,193.3 L250.7,192.9 L252,192.6 L253.3,192.2 L254.6,191.8 L255.9,191.4 L257.2,191.1 L258.5,190.7 L259.8,190.3 L261.2,189.9 L262.5,189.5 L263.8,189.1 L265.1,188.8 L266.4,188.4 L267.7,188.1 L269,187.7 L270.3,187.4 L271.7,187 L273,186.7 L274.3,186.3 L275.6,186 L276.9,185.7 L278.2,185.4 L279.5,185.2 L280.8,184.9 L282.2,184.7 L283.5,184.4 L284.8,184.2 L286.1,184 L287.4,183.8 L288.7,183.7 L290,183.7 L291.3,183.7 L292.7,183.7 L294,183.9 L295.3,184 L296.6,184.1 L297.9,184.3 L299.2,184.5 L300.5,184.8 L301.8,185.1 L303.2,185.6 L304.5,186 L305.8,186.4 L307.1,186.8 L308.4,187.2 L309.7,187.6 L311,187.9 L312.3,188.3 L313.7,188.7 L315,189.1 L316.3,189.6 L317.6,190 L318.9,190.4 L320.2,190.9 L321.5,191.4 L322.8,191.8 L324.2,192.4 L325.5,192.9 L326.8,193.4 L328.1,194 L329.4,194.5 L330.7,195.1 L332,195.7 L333.3,196.2 L334.7,196.8 L336,197.3 L337.3,197.9 L338.6,198.5 L339.9,199.1 L341.2,199.6 L342.5,200.2 L343.8,200.8 L345.2,201.3 L346.5,201.9 L347.8,202.4 L349.1,202.9 L350.4,203.4 L351.7,203.9 L353,204.4 L354.3,204.9 L355.7,205.4 L357,205.9 L358.3,206.4 L359.6,206.9 L360.9,207.4 L362.2,208 L363.5,208.5 L364.8,209.1 L366.2,209.7 L367.5,210.2 L368.8,210.8 L370.1,211.3 L371.4,211.8 L372.7,212.2 L374,212.6 L375.3,213 L376.7,213.4 L378,213.7 L379.3,214.1 L380.6,214.4 L381.9,214.7 L383.2,215 L384.5,215.4 L385.8,215.7 L387.2,216 L388.5,216.3 L389.8,216.7 L391.1,217 L392.4,217.3 L393.7,217.7 L395,218 L396.3,218.3 L397.7,218.7 L399,219 L400.3,219.3 L401.6,219.6 L402.9,219.9 L404.2,220.2 L405.5,220.5 L406.8,220.7 L408.2,221 L409.5,221.2 L410.8,221.4 L412.1,221.6 L413.4,221.8 L414.7,222 L416,222.2 L417.3,222.4 L418.7,222.5 L420,222.7 L421.3,222.9 L422.6,223 L423.9,223.1 L425.2,223.3 L426.5,223.4 L427.8,223.6 L429.2,223.7 L430.5,223.8 L431.8,223.9 L433.1,224 L434.4,224.2 L435.7,224.3 L437,224.4 L438.3,224.5 L439.7,224.6 L441,224.7 L442.3,224.8 L443.6,224.8 L444.9,224.9 L446.2,225 L447.5,225.1 L448.8,225.1 L450.2,225.2 L451.5,225.3 L452.8,225.4 L454.1,225.4 L455.4,225.5 L456.7,225.6 L458,225.6 L459.3,225.7 L460.7,225.8 L462,225.9 L463.3,226 L464.6,226 L465.9,226.1 L467.2,226.2 L468.5,226.3 L469.8,226.5 L471.2,226.6 L472.5,226.7 L473.8,226.8 L475.1,226.9 L476.4,227.1 L477.7,227.2 L479,227.3 L480.3,227.4 L481.7,227.5 L483,227.6 L484.3,227.8 L485.6,227.9 L486.9,228 L488.2,228.1 L489.5,228.2 L490.8,228.2 L492.2,228.3 L493.5,228.4 L494.8,228.5 L496.1,228.5 L497.4,228.6 L498.7,228.7 L500,228.7 L501.3,228.8 L502.7,228.9 L504,228.9 L505.3,229 L506.6,229 L507.9,229.1 L509.2,229.1 L510.5,229.2 L511.8,229.3 L513.2,229.3 L514.5,229.4 L515.8,229.4 L517.1,229.5 L518.4,229.6 L519.7,229.6 L521,229.7 L522.3,229.8 L523.7,229.9 L525,230 L526.3,230 L527.6,230.1 L528.9,230.1 L530.2,230.1 L531.5,230.1 L532.8,230.1 L534.2,230.1 L535.5,230.1 L536.8,230 L538.1,230 L539.4,229.9 L540.7,229.9 L542,229.9 L543.3,229.8 L544.7,229.8 L546,229.7 L547.3,229.7 L548.6,229.6 L549.9,229.6 L551.2,229.5 L552.5,229.5 L553.8,229.4 L555.2,229.3 L556.5,229.3 L557.8,229.2 L559.1,229.1 L560.4,229.1 L561.7,229 L563,228.9 L564.3,228.8 L565.7,228.8 L567,228.7 L568.3,228.6 L569.6,228.6 L570.9,228.5 L572.2,228.4 L573.5,228.3 L574.8,228.2 L576.2,228.1 L577.5,228 L578.8,228 L580.1,227.9 L581.4,227.8 L582.7,227.7 L584,227.6 L585.3,227.5 L586.7,227.4 L588,227.3 L589.3,227.2 L590.6,227.2 L591.9,227.1 L593.2,227.1 L594.5,227 L595.8,227 L597.2,227 L598.5,226.9 L599.8,226.9 L601.1,226.9 L602.4,226.9 L603.7,226.8 L605,226.8 L606.3,226.8 L607.7,226.8 L609,226.8 L610.3,226.7 L611.6,226.7 L612.9,226.7 L614.2,226.7 L615.5,226.7 L616.8,226.7 L618.2,226.7 L619.5,226.7 L620.8,226.7 L622.1,226.7 L623.4,226.7 L624.7,226.7 L626,226.7 L627.3,226.7 L628.7,226.7 L630,226.8 L631.3,226.8 L632.6,226.8 L633.9,226.9 L635.2,226.9 L636.5,226.9 L637.8,227 L639.2,227 L640.5,227.1 L641.8,227.1 L643.1,227.2 L644.4,227.2 L645.7,227.2 L647,227.3 L648.3,227.3 L649.7,227.3 L651,227.4 L652.3,227.4 L653.6,227.4 L654.9,227.5 L656.2,227.5 L657.5,227.5 L658.8,227.6 L660.2,227.6 L661.5,227.6 L662.8,227.6 L664.1,227.7 L665.4,227.7 L666.7,227.7 L668,227.8 L669.3,227.8 L670.7,227.8 L672,227.9 L673.3,227.9 L674.6,227.9" stroke="#2222dd" stroke-width="1.1" stroke-dasharray="3.2,1.7"/>
<path d="M44.6,229 L45.9,228.7 L47.2,228.4 L48.5,228.1 L49.8,227.9 L51.2,227.7 L52.5,227.5 L53.8,227.4 L55.1,227.4 L56.4,227.3 L57.7,227.3 L59,227.3 L60.3,227.5 L61.7,227.7 L63,227.9 L64.3,228.2 L65.6,228.5 L66.9,228.8 L68.2,229 L69.5,229.3 L70.8,229.5 L72.2,229.7 L73.5,229.9 L74.8,230 L76.1,230.2 L77.4,230.4 L78.7,230.5 L80,230.7 L81.3,230.8 L82.7,231 L84,231.1 L85.3,231.2 L86.6,231.3 L87.9,231.4 L89.2,231.5 L90.5,231.6 L91.8,231.7 L93.2,231.8 L94.5,231.9 L95.8,231.9 L97.1,231.9 L98.4,231.9 L99.7,231.8 L101,231.6 L102.3,231.4 L103.7,231.1 L105,230.8 L106.3,230.5 L107.6,230.2 L108.9,229.8 L110.2,229.5 L111.5,229.1 L112.8,228.7 L114.2,228.3 L115.5,227.8 L116.8,227.3 L118.1,226.8 L119.4,226.2 L120.7,225.5 L122,225 L123.3,224.6 L124.7,224.3 L126,224 L127.3,223.8 L128.6,223.7 L129.9,223.8 L131.2,223.9 L132.5,224.1 L133.8,224.3 L135.2,224.5 L136.5,224.5 L137.8,224.5 L139.1,224.3 L140.4,224 L141.7,223.7 L143,223.3 L144.3,222.8 L145.7,222.3 L147,221.7 L148.3,221.2 L149.6,220.8 L150.9,220.6 L152.2,220.3 L153.5,220 L154.8,219.5 L156.2,219.1 L157.5,218.8 L158.8,218.5 L160.1,218.1 L161.4,217.7 L162.7,217 L164,216.3 L165.3,215.7 L166.7,215.4 L168,215.1 L169.3,214.7 L170.6,214.3 L171.9,213.8 L173.2,213.4 L174.5,213 L175.8,212.8 L177.2,212.4 L178.5,211.9 L179.8,211.2 L181.1,210.3 L182.4,209.6 L183.7,209 L185,208.5 L186.3,207.9 L187.7,207.2 L189,206.6 L190.3,206 L191.6,205.7 L192.9,205.4 L194.2,205.1 L195.5,204.7 L196.8,204.1 L198.2,203.5 L199.5,203 L200.8,202.6 L202.1,202.3 L203.4,201.9 L204.7,201.4 L206,200.9 L207.3,200.5 L208.7,200.3 L210,200.2 L211.3,200.2 L212.6,200 L213.9,199.7 L215.2,199.4 L216.5,199.3 L217.8,199.2 L219.2,199.1 L220.5,198.8 L221.8,198.4 L223.1,198 L224.4,197.6 L225.7,197.5 L227,197.4 L228.3,197.4 L229.7,197.2 L231,197 L232.3,196.9 L233.6,196.8 L234.9,196.8 L236.2,196.7 L237.5,196.6 L238.8,196.3 L240.2,196 L241.5,195.8 L242.8,195.7 L244.1,195.6 L245.4,195.5 L246.7,195.4 L248,195.3 L249.3,195.2 L250.7,195.1 L252,195.1 L253.3,195 L254.6,195 L255.9,194.9 L257.2,194.9 L258.5,194.8 L259.8,194.8 L261.2,194.7 L262.5,194.7 L263.8,194.7 L265.1,194.7 L266.4,194.7 L267.7,194.6 L269,194.7 L270.3,194.7 L271.7,194.7 L273,194.8 L274.3,194.8 L275.6,194.9 L276.9,195 L278.2,195.1 L279.5,195.2 L280.8,195.3 L282.2,195.4 L283.5,195.5 L284.8,195.7 L286.1,195.8 L287.4,196 L288.7,196.2 L290,196.4 L291.3,196.7 L292.7,196.9 L294,197.2 L295.3,197.4 L296.6,197.8 L297.9,198.2 L299.2,198.6 L300.5,199 L301.8,199.4 L303.2,199.9 L304.5,200.4 L305.8,200.8 L307.1,201.2 L308.4,201.7 L309.7,202.1 L311,202.6 L312.3,203 L313.7,203.5 L315,203.9 L316.3,204.4 L317.6,204.8 L318.9,205.2 L320.2,205.6 L321.5,206 L322.8,206.4 L324.2,206.8 L325.5,207.2 L326.8,207.6 L328.1,207.9 L329.4,208.3 L330.7,208.7 L332,209 L333.3,209.4 L334.7,209.8 L336,210.2 L337.3,210.6 L338.6,210.9 L339.9,211.3 L341.2,211.7 L342.5,212.1 L343.8,212.5 L345.2,212.8 L346.5,213.2 L347.8,213.5 L349.1,213.8 L350.4,214.2 L351.7,214.5 L353,214.8 L354.3,215.1 L355.7,215.4 L357,215.7 L358.3,216 L359.6,216.3 L360.9,216.6 L362.2,216.9 L363.5,217.2 L364.8,217.5 L366.2,217.8 L367.5,218.1 L368.8,218.4 L370.1,218.6 L371.4,218.9 L372.7,219.1 L374,219.4 L375.3,219.6 L376.7,219.8 L378,220.1 L379.3,220.3 L380.6,220.5 L381.9,220.7 L383.2,220.9 L384.5,221.1 L385.8,221.3 L387.2,221.6 L388.5,221.8 L389.8,222 L391.1,222.2 L392.4,222.5 L393.7,222.7 L395,223 L396.3,223.2 L397.7,223.4 L399,223.7 L400.3,223.9 L401.6,224.1 L402.9,224.3 L404.2,224.5 L405.5,224.7 L406.8,224.9 L408.2,225 L409.5,225.2 L410.8,225.3 L412.1,225.4 L413.4,225.5 L414.7,225.6 L416,225.7 L417.3,225.8 L418.7,225.8 L420,225.9 L421.3,226 L422.6,226.1 L423.9,226.1 L425.2,226.2 L426.5,226.2 L427.8,226.3 L429.2,226.3 L430.5,226.4 L431.8,226.5 L433.1,226.5 L434.4,226.5 L435.7,226.6 L437,226.6 L438.3,226.7 L439.7,226.7 L441,226.8 L442.3,226.8 L443.6,226.8 L444.9,226.9 L446.2,226.9 L447.5,226.9 L448.8,226.9 L450.2,227 L451.5,227 L452.8,227 L454.1,227.1 L455.4,227.1 L456.7,227.1 L458,227.1 L459.3,227.2 L460.7,227.2 L462,227.2 L463.3,227.3 L464.6,227.3 L465.9,227.3 L467.2,227.4 L468.5,227.4 L469.8,227.5 L471.2,227.5 L472.5,227.5 L473.8,227.6 L475.1,227.6 L476.4,227.7 L477.7,227.7 L479,227.8 L480.3,227.8 L481.7,227.9 L483,227.9 L484.3,228 L485.6,228 L486.9,228.1 L488.2,228.1 L489.5,228.2 L490.8,228.2 L492.2,228.3 L493.5,228.4 L494.8,228.4 L496.1,228.5 L497.4,228.5 L498.7,228.6 L500,228.7 L501.3,228.7 L502.7,228.8 L504,228.8 L505.3,228.9 L506.6,229 L507.9,229 L509.2,229.1 L510.5,229.2 L511.8,229.2 L513.2,229.3 L514.5,229.4 L515.8,229.4 L517.1,229.5 L518.4,229.6 L519.7,229.6 L521,229.7 L522.3,229.8 L523.7,229.9 L525,230 L526.3,230 L527.6,230.1 L528.9,230.1 L530.2,230.1 L531.5,230.1 L532.8,230.1 L534.2,230.1 L535.5,230.1 L536.8,230 L538.1,230 L539.4,229.9 L540.7,229.9 L542,229.9 L543.3,229.8 L544.7,229.8 L546,229.7 L547.3,229.7 L548.6,229.6 L549.9,229.6 L551.2,229.5 L552.5,229.5 L553.8,229.4 L555.2,229.3 L556.5,229.3 L557.8,229.2 L559.1,229.1 L560.4,229.1 L561.7,229 L563,228.9 L564.3,228.8 L565.7,228.8 L567,228.7 L568.3,228.6 L569.6,228.6 L570.9,228.5 L572.2,228.4 L573.5,228.3 L574.8,228.2 L576.2,228.1 L577.5,228 L578.8,228 L580.1,227.9 L581.4,227.8 L582.7,227.7 L584,227.6 L585.3,227.5 L586.7,227.4 L588,227.3 L589.3,227.2 L590.6,227.2 L591.9,227.1 L593.2,227.1 L594.5,227 L595.8,227 L597.2,227 L598.5,226.9 L599.8,226.9 L601.1,226.9 L602.4,226.9 L603.7,226.8 L605,226.8 L606.3,226.8 L607.7,226.8 L609,226.8 L610.3,226.7 L611.6,226.7 L612.9,226.7 L614.2,226.7 L615.5,226.7 L616.8,226.7 L618.2,226.7 L619.5,226.7 L620.8,226.7 L622.1,226.7 L623.4,226.7 L624.7,226.7 L626,226.7 L627.3,226.7 L628.7,226.7 L630,226.8 L631.3,226.8 L632.6,226.8 L633.9,226.9 L635.2,226.9 L636.5,226.9 L637.8,227 L639.2,227 L640.5,227.1 L641.8,227.1 L643.1,227.2 L644.4,227.2 L645.7,227.2 L647,227.3 L648.3,227.3 L649.7,227.3 L651,227.4 L652.3,227.4 L653.6,227.4 L654.9,227.5 L656.2,227.5 L657.5,227.5 L658.8,227.6 L660.2,227.6 L661.5,227.6 L662.8,227.6 L664.1,227.7 L665.4,227.7 L666.7,227.7 L668,227.8 L669.3,227.8 L670.7,227.8 L672,227.9 L673.3,227.9 L674.6,227.9" stroke="#44ee44" stroke-width="1.1" stroke-dasharray="3.2,1.7"/>
<path d="M44.6,229 L45.9,228.7 L47.2,228.4 L48.5,228.1 L49.8,227.9 L51.2,227.7 L52.5,227.5 L53.8,227.4 L55.1,227.4 L56.4,227.3 L57.7,227.3 L59,227.3 L60.3,227.5 L61.7,227.7 L63,227.9 L64.3,228.2 L65.6,228.5 L66.9,228.8 L68.2,229 L69.5,229.3 L70.8,229.5 L72.2,229.7 L73.5,229.9 L74.8,230 L76.1,230.2 L77.4,230.4 L78.7,230.5 L80,230.7 L81.3,230.8 L82.7,231 L84,231.1 L85.3,231.2 L86.6,231.3 L87.9,231.4 L89.2,231.5 L90.5,231.6 L91.8,231.7 L93.2,231.8 L94.5,231.9 L95.8,231.9 L97.1,231.9 L98.4,231.9 L99.7,231.8 L101,231.6 L102.3,231.4 L103.7,231.1 L105,230.8 L106.3,230.5 L107.6,230.2 L108.9,229.8 L110.2,229.5 L111.5,229.1 L112.8,228.7 L114.2,228.3 L115.5,227.8 L116.8,227.3 L118.1,226.8 L119.4,226.2 L120.7,225.5 L122,225 L123.3,224.6 L124.7,224.3 L126,224 L127.3,223.8 L128.6,223.7 L129.9,223.8 L131.2,223.9 L132.5,224.1 L133.8,224.3 L135.2,224.5 L136.5,224.5 L137.8,224.5 L139.1,224.3 L140.4,224 L141.7,223.6 L143,223.2 L144.3,222.7 L145.7,222.2 L147,221.7 L148.3,221.4 L149.6,221.1 L150.9,220.8 L152.2,220.5 L153.5,220.1 L154.8,219.6 L156.2,219.1 L157.5,218.7 L158.8,218.3 L160.1,217.9 L161.4,217.3 L162.7,216.7 L164,216.1 L165.3,215.7 L166.7,215.3 L168,215.1 L169.3,214.7 L170.6,214.2 L171.9,213.7 L173.2,213.1 L174.5,212.6 L175.8,212.1 L177.2,211.6 L178.5,210.9 L179.8,210.1 L181.1,209.3 L182.4,208.4 L183.7,207.7 L185,207 L186.3,206.4 L187.7,205.7 L189,205 L190.3,204.2 L191.6,203.4 L192.9,202.7 L194.2,202 L195.5,201.3 L196.8,200.5 L198.2,199.5 L199.5,198.4 L200.8,197.3 L202.1,196.4 L203.4,195.5 L204.7,194.6 L206,193.5 L207.3,192.4 L208.7,191.2 L210,190.1 L211.3,189 L212.6,187.9 L213.9,186.6 L215.2,185.2 L216.5,183.5 L217.8,181.4 L219.2,179.4 L220.5,177.4 L221.8,175.7 L223.1,174.3 L224.4,173.1 L225.7,171.9 L227,170.8 L228.3,169.9 L229.7,169.2 L231,168.6 L232.3,168 L233.6,167.5 L234.9,166.8 L236.2,166.3 L237.5,165.8 L238.8,165.3 L240.2,165 L241.5,164.6 L242.8,164.2 L244.1,163.8 L245.4,163.5 L246.7,163.2 L248,163 L249.3,162.8 L250.7,162.7 L252,162.6 L253.3,162.6 L254.6,162.7 L255.9,162.8 L257.2,162.9 L258.5,163.1 L259.8,163.3 L261.2,163.6 L262.5,163.9 L263.8,164.3 L265.1,164.9 L266.4,165.6 L267.7,166.3 L269,167 L270.3,167.7 L271.7,168.5 L273,169.4 L274.3,170.3 L275.6,171.3 L276.9,172.4 L278.2,173.6 L279.5,175.4 L280.8,177.7 L282.2,179.7 L283.5,180.5 L284.8,180.2 L286.1,179.6 L287.4,179.3 L288.7,179.4 L290,179.7 L291.3,180.1 L292.7,180.7 L294,181.4 L295.3,182.1 L296.6,183.2 L297.9,184.6 L299.2,186.1 L300.5,187.4 L301.8,188.5 L303.2,189.6 L304.5,190.6 L305.8,191.6 L307.1,192.4 L308.4,193.2 L309.7,194 L311,194.7 L312.3,195.4 L313.7,196 L315,196.7 L316.3,197.3 L317.6,197.9 L318.9,198.5 L320.2,199 L321.5,199.6 L322.8,200.2 L324.2,200.7 L325.5,201.3 L326.8,201.8 L328.1,202.3 L329.4,202.8 L330.7,203.4 L332,203.9 L333.3,204.4 L334.7,204.9 L336,205.4 L337.3,205.9 L338.6,206.4 L339.9,207 L341.2,207.5 L342.5,208 L343.8,208.4 L345.2,208.9 L346.5,209.4 L347.8,209.9 L349.1,210.3 L350.4,210.8 L351.7,211.3 L353,211.7 L354.3,212.2 L355.7,212.6 L357,213 L358.3,213.4 L359.6,213.8 L360.9,214.2 L362.2,214.5 L363.5,214.8 L364.8,215.1 L366.2,215.5 L367.5,215.8 L368.8,216.1 L370.1,216.3 L371.4,216.6 L372.7,216.9 L374,217.2 L375.3,217.5 L376.7,217.8 L378,218.1 L379.3,218.4 L380.6,218.7 L381.9,218.9 L383.2,219.2 L384.5,219.5 L385.8,219.8 L387.2,220 L388.5,220.3 L389.8,220.6 L391.1,221 L392.4,221.3 L393.7,221.6 L395,221.9 L396.3,222.2 L397.7,222.6 L399,222.9 L400.3,223.2 L401.6,223.5 L402.9,223.7 L404.2,224 L405.5,224.2 L406.8,224.5 L408.2,224.7 L409.5,224.8 L410.8,225 L412.1,225.1 L413.4,225.2 L414.7,225.3 L416,225.4 L417.3,225.5 L418.7,225.5 L420,225.6 L421.3,225.7 L422.6,225.8 L423.9,225.8 L425.2,225.9 L426.5,225.9 L427.8,226 L429.2,226 L430.5,226.1 L431.8,226.1 L433.1,226.2 L434.4,226.2 L435.7,226.3 L437,226.3 L438.3,226.4 L439.7,226.4 L441,226.4 L442.3,226.5 L443.6,226.5 L444.9,226.5 L446.2,226.6 L447.5,226.6 L448.8,226.6 L450.2,226.6 L451.5,226.7 L452.8,226.7 L454.1,226.7 L455.4,226.8 L456.7,226.8 L458,226.8 L459.3,226.8 L460.7,226.9 L462,226.9 L463.3,226.9 L464.6,227 L465.9,227 L467.2,227.1 L468.5,227.1 L469.8,227.2 L471.2,227.2 L472.5,227.3 L473.8,227.4 L475.1,227.4 L476.4,227.5 L477.7,227.6 L479,227.6 L480.3,227.7 L481.7,227.8 L483,227.8 L484.3,227.9 L485.6,228 L486.9,228 L488.2,228.1 L489.5,228.2 L490.8,228.2 L492.2,228.3 L493.5,228.4 L494.8,228.4 L496.1,228.5 L497.4,228.6 L498.7,228.6 L500,228.7 L501.3,228.7 L502.7,228.8 L504,228.9 L505.3,228.9 L506.6,229 L507.9,229.1 L509.2,229.1 L510.5,229.2 L511.8,229.2 L513.2,229.3 L514.5,229.4 L515.8,229.4 L517.1,229.5 L518.4,229.6 L519.7,229.6 L521,229.7 L522.3,229.8 L523.7,229.9 L525,230 L526.3,230 L527.6,230.1 L528.9,230.1 L530.2,230.1 L531.5,230.1 L532.8,230.1 L534.2,230.1 L535.5,230.1 L536.8,230 L538.1,230 L539.4,229.9 L540.7,229.9 L542,229.9 L543.3,229.8 L544.7,229.8 L546,229.7 L547.3,229.7 L548.6,229.6 L549.9,229.6 L551.2,229.5 L552.5,229.5 L553.8,229.4 L555.2,229.3 L556.5,229.3 L557.8,229.2 L559.1,229.1 L560.4,229.1 L561.7,229 L563,228.9 L564.3,228.8 L565.7,228.8 L567,228.7 L568.3,228.6 L569.6,228.6 L570.9,228.5 L572.2,228.4 L573.5,228.3 L574.8,228.2 L576.2,228.1 L577.5,228 L578.8,228 L580.1,227.9 L581.4,227.8 L582.7,227.7 L584,227.6 L585.3,227.5 L586.7,227.4 L588,227.3 L589.3,227.2 L590.6,227.2 L591.9,227.1 L593.2,227.1 L594.5,227 L595.8,227 L597.2,227 L598.5,226.9 L599.8,226.9 L601.1,226.9 L602.4,226.9 L603.7,226.8 L605,226.8 L606.3,226.8 L607.7,226.8 L609,226.8 L610.3,226.7 L611.6,226.7 L612.9,226.7 L614.2,226.7 L615.5,226.7 L616.8,226.7 L618.2,226.7 L619.5,226.7 L620.8,226.7 L622.1,226.7 L623.4,226.7 L624.7,226.7 L626,226.7 L627.3,226.7 L628.7,226.7 L630,226.8 L631.3,226.8 L632.6,226.8 L633.9,226.9 L635.2,226.9 L636.5,226.9 L637.8,227 L639.2,227 L640.5,227.1 L641.8,227.1 L643.1,227.2 L644.4,227.2 L645.7,227.2 L647,227.3 L648.3,227.3 L649.7,227.3 L651,227.4 L652.3,227.4 L653.6,227.4 L654.9,227.5 L656.2,227.5 L657.5,227.5 L658.8,227.6 L660.2,227.6 L661.5,227.6 L662.8,227.6 L664.1,227.7 L665.4,227.7 L666.7,227.7 L668,227.8 L669.3,227.8 L670.7,227.8 L672,227.9 L673.3,227.9 L674.6,227.9" stroke="#1f8a1f" stroke-width="1.1" stroke-dasharray="3.2,1.7"/>
<path d="M44.6,229 L45.9,228.7 L47.2,228.4 L48.5,228.1 L49.8,227.9 L51.2,227.7 L52.5,227.5 L53.8,227.4 L55.1,227.4 L56.4,227.3 L57.7,227.3 L59,227.3 L60.3,227.5 L61.7,227.7 L63,227.9 L64.3,228.2 L65.6,228.5 L66.9,228.8 L68.2,229 L69.5,229.3 L70.8,229.5 L72.2,229.7 L73.5,229.9 L74.8,230 L76.1,230.2 L77.4,230.4 L78.7,230.5 L80,230.7 L81.3,230.8 L82.7,231 L84,231.1 L85.3,231.2 L86.6,231.3 L87.9,231.4 L89.2,231.5 L90.5,231.6 L91.8,231.7 L93.2,231.8 L94.5,231.9 L95.8,231.9 L97.1,231.9 L98.4,231.9 L99.7,231.8 L101,231.6 L102.3,231.4 L103.7,231.1 L105,230.8 L106.3,230.5 L107.6,230.2 L108.9,229.8 L110.2,229.5 L111.5,229.1 L112.8,228.7 L114.2,228.3 L115.5,227.8 L116.8,227.3 L118.1,226.8 L119.4,226.2 L120.7,225.5 L122,225 L123.3,224.6 L124.7,224.3 L126,224 L127.3,223.8 L128.6,223.7 L129.9,223.8 L131.2,223.9 L132.5,224.1 L133.8,224.3 L135.2,224.5 L136.5,224.5 L137.8,224.5 L139.1,224.3 L140.4,224 L141.7,223.7 L143,223.2 L144.3,222.8 L145.7,222.3 L147,221.9 L148.3,221.5 L149.6,221.1 L150.9,220.8 L152.2,220.4 L153.5,220 L154.8,219.6 L156.2,219.1 L157.5,218.6 L158.8,218.1 L160.1,217.7 L161.4,217.3 L162.7,216.8 L164,216.4 L165.3,216 L166.7,215.5 L168,215.1 L169.3,214.6 L170.6,214.1 L171.9,213.6 L173.2,213.2 L174.5,212.8 L175.8,212.3 L177.2,211.9 L178.5,211.3 L179.8,210.7 L181.1,210 L182.4,209.3 L183.7,208.6 L185,207.9 L186.3,207.2 L187.7,206.6 L189,206 L190.3,205.4 L191.6,204.7 L192.9,204.1 L194.2,203.4 L195.5,202.7 L196.8,202.1 L198.2,201.5 L199.5,200.9 L200.8,200.4 L202.1,200 L203.4,199.5 L204.7,199 L206,198.5 L207.3,198 L208.7,197.5 L210,196.9 L211.3,196.5 L212.6,196 L213.9,195.6 L215.2,195.1 L216.5,194.6 L217.8,194.1 L219.2,193.6 L220.5,193.1 L221.8,192.5 L223.1,192 L224.4,191.6 L225.7,191.2 L227,190.8 L228.3,190.5 L229.7,190.1 L231,189.8 L232.3,189.4 L233.6,189 L234.9,188.7 L236.2,188.3 L237.5,188 L238.8,187.7 L240.2,187.5 L241.5,187.2 L242.8,186.9 L244.1,186.6 L245.4,186.3 L246.7,186 L248,185.7 L249.3,185.5 L250.7,185.3 L252,185.1 L253.3,185 L254.6,184.9 L255.9,184.9 L257.2,184.8 L258.5,184.8 L259.8,184.7 L261.2,184.7 L262.5,184.7 L263.8,184.6 L265.1,184.6 L266.4,184.6 L267.7,184.6 L269,184.6 L270.3,184.6 L271.7,184.7 L273,184.8 L274.3,184.9 L275.6,185 L276.9,185.1 L278.2,185.3 L279.5,185.4 L280.8,185.5 L282.2,185.7 L283.5,185.9 L284.8,186.2 L286.1,186.5 L287.4,186.8 L288.7,187.1 L290,187.5 L291.3,187.9 L292.7,188.3 L294,188.7 L295.3,189.1 L296.6,189.6 L297.9,190.1 L299.2,190.6 L300.5,191.1 L301.8,191.7 L303.2,192.3 L304.5,192.9 L305.8,193.4 L307.1,194 L308.4,194.6 L309.7,195.2 L311,195.8 L312.3,196.4 L313.7,197 L315,197.6 L316.3,198.2 L317.6,198.8 L318.9,199.4 L320.2,200 L321.5,200.5 L322.8,201 L324.2,201.6 L325.5,202.1 L326.8,202.6 L328.1,203.1 L329.4,203.6 L330.7,204 L332,204.5 L333.3,205 L334.7,205.5 L336,206 L337.3,206.5 L338.6,206.9 L339.9,207.4 L341.2,207.9 L342.5,208.4 L343.8,208.8 L345.2,209.3 L346.5,209.7 L347.8,210.2 L349.1,210.6 L350.4,211 L351.7,211.4 L353,211.8 L354.3,212.2 L355.7,212.6 L357,213 L358.3,213.4 L359.6,213.8 L360.9,214.2 L362.2,214.5 L363.5,214.9 L364.8,215.3 L366.2,215.6 L367.5,215.9 L368.8,216.3 L370.1,216.6 L371.4,216.9 L372.7,217.3 L374,217.6 L375.3,217.9 L376.7,218.2 L378,218.4 L379.3,218.7 L380.6,219 L381.9,219.3 L383.2,219.5 L384.5,219.8 L385.8,220.1 L387.2,220.4 L388.5,220.6 L389.8,220.9 L391.1,221.2 L392.4,221.5 L393.7,221.8 L395,222.1 L396.3,222.4 L397.7,222.7 L399,223 L400.3,223.3 L401.6,223.6 L402.9,223.8 L404.2,224.1 L405.5,224.3 L406.8,224.5 L408.2,224.7 L409.5,224.8 L410.8,225 L412.1,225.1 L413.4,225.2 L414.7,225.3 L416,225.4 L417.3,225.5 L418.7,225.5 L420,225.6 L421.3,225.7 L422.6,225.8 L423.9,225.8 L425.2,225.9 L426.5,225.9 L427.8,226 L429.2,226 L430.5,226.1 L431.8,226.1 L433.1,226.2 L434.4,226.2 L435.7,226.3 L437,226.3 L438.3,226.4 L439.7,226.4 L441,226.4 L442.3,226.5 L443.6,226.5 L444.9,226.5 L446.2,226.6 L447.5,226.6 L448.8,226.6 L450.2,226.6 L451.5,226.7 L452.8,226.7 L454.1,226.7 L455.4,226.8 L456.7,226.8 L458,226.8 L459.3,226.8 L460.7,226.9 L462,226.9 L463.3,226.9 L464.6,227 L465.9,227 L467.2,227.1 L468.5,227.1 L469.8,227.2 L471.2,227.2 L472.5,227.3 L473.8,227.4 L475.1,227.4 L476.4,227.5 L477.7,227.6 L479,227.6 L480.3,227.7 L481.7,227.8 L483,227.8 L484.3,227.9 L485.6,228 L486.9,228 L488.2,228.1 L489.5,228.2 L490.8,228.2 L492.2,228.3 L493.5,228.4 L494.8,228.4 L496.1,228.5 L497.4,228.6 L498.7,228.6 L500,228.7 L501.3,228.7 L502.7,228.8 L504,228.9 L505.3,228.9 L506.6,229 L507.9,229.1 L509.2,229.1 L510.5,229.2 L511.8,229.2 L513.2,229.3 L514.5,229.4 L515.8,229.4 L517.1,229.5 L518.4,229.6 L519.7,229.6 L521,229.7 L522.3,229.8 L523.7,229.9 L525,230 L526.3,230 L527.6,230.1 L528.9,230.1 L530.2,230.1 L531.5,230.1 L532.8,230.1 L534.2,230.1 L535.5,230.1 L536.8,230 L538.1,230 L539.4,229.9 L540.7,229.9 L542,229.9 L543.3,229.8 L544.7,229.8 L546,229.7 L547.3,229.7 L548.6,229.6 L549.9,229.6 L551.2,229.5 L552.5,229.5 L553.8,229.4 L555.2,229.3 L556.5,229.3 L557.8,229.2 L559.1,229.1 L560.4,229.1 L561.7,229 L563,228.9 L564.3,228.8 L565.7,228.8 L567,228.7 L568.3,228.6 L569.6,228.6 L570.9,228.5 L572.2,228.4 L573.5,228.3 L574.8,228.2 L576.2,228.1 L577.5,228 L578.8,228 L580.1,227.9 L581.4,227.8 L582.7,227.7 L584,227.6 L585.3,227.5 L586.7,227.4 L588,227.3 L589.3,227.2 L590.6,227.2 L591.9,227.1 L593.2,227.1 L594.5,227 L595.8,227 L597.2,227 L598.5,226.9 L599.8,226.9 L601.1,226.9 L602.4,226.9 L603.7,226.8 L605,226.8 L606.3,226.8 L607.7,226.8 L609,226.8 L610.3,226.7 L611.6,226.7 L612.9,226.7 L614.2,226.7 L615.5,226.7 L616.8,226.7 L618.2,226.7 L619.5,226.7 L620.8,226.7 L622.1,226.7 L623.4,226.7 L624.7,226.7 L626,226.7 L627.3,226.7 L628.7,226.7 L630,226.8 L631.3,226.8 L632.6,226.8 L633.9,226.9 L635.2,226.9 L636.5,226.9 L637.8,227 L639.2,227 L640.5,227.1 L641.8,227.1 L643.1,227.2 L644.4,227.2 L645.7,227.2 L647,227.3 L648.3,227.3 L649.7,227.3 L651,227.4 L652.3,227.4 L653.6,227.4 L654.9,227.5 L656.2,227.5 L657.5,227.5 L658.8,227.6 L660.2,227.6 L661.5,227.6 L662.8,227.6 L664.1,227.7 L665.4,227.7 L666.7,227.7 L668,227.8 L669.3,227.8 L670.7,227.8 L672,227.9 L673.3,227.9 L674.6,227.9" stroke="#ee1111" stroke-width="1.65" stroke-dasharray="4.5,2.2"/>
</g>
<path d="M44.6,256.3 L57.7,261.2 L70.8,261.2 L84,257.4 L97.1,251 L110.2,243.9 L123.3,238 L136.5,234 L149.6,231.9 L162.7,231.6 L175.8,232.2 L189,232.8 L202.1,233.4 L215.2,232.2 L228.3,227.5 L241.5,220.1 L254.6,212.9 L267.7,208.1 L280.9,206.1 L294,207.5 L307.1,212 L320.2,219.6 L333.4,229.9 L346.5,241 L359.6,251.9 L372.7,260.7 L385.9,264.2 L399,261.8 L412.1,255.1 L425.2,246.9 L438.4,239.5 L451.5,234.3 L464.6,231.4 L477.7,231.1 L490.9,232.5 L504,234.6 L517.1,236.3 L530.2,236.9 L543.4,234.6 L556.5,227.5 L569.6,218.3 L582.7,210.2 L595.9,205.5 L609,204.5 L622.1,207 L635.2,212.8 L648.4,222.3 L661.5,234 L674.6,245.3" stroke="#000" stroke-width="1.9" fill="none" stroke-linejoin="round"/>
<clipPath id="c1"><rect x="44.6" y="19.5" width="630" height="278.6"/></clipPath>
<g fill="#22dd22" stroke="#0b3d0b" stroke-width="0.8" clip-path="url(#c1)">
<circle cx="44.6" cy="256.3" r="2.7"/>
<circle cx="57.7" cy="261.2" r="2.7"/>
<circle cx="70.8" cy="261.2" r="2.7"/>
<circle cx="84" cy="257.4" r="2.7"/>
<circle cx="97.1" cy="251" r="2.7"/>
<circle cx="110.2" cy="243.9" r="2.7"/>
<circle cx="123.3" cy="238" r="2.7"/>
<circle cx="136.5" cy="234" r="2.7"/>
<circle cx="149.6" cy="231.9" r="2.7"/>
<circle cx="162.7" cy="231.6" r="2.7"/>
<circle cx="175.8" cy="232.2" r="2.7"/>
<circle cx="189" cy="232.8" r="2.7"/>
<circle cx="202.1" cy="233.4" r="2.7"/>
<circle cx="215.2" cy="232.2" r="2.7"/>
<circle cx="228.3" cy="227.5" r="2.7"/>
<circle cx="241.5" cy="220.1" r="2.7"/>
<circle cx="254.6" cy="212.9" r="2.7"/>
<circle cx="267.7" cy="208.1" r="2.7"/>
<circle cx="280.9" cy="206.1" r="2.7"/>
<circle cx="294" cy="207.5" r="2.7"/>
<circle cx="307.1" cy="212" r="2.7"/>
<circle cx="320.2" cy="219.6" r="2.7"/>
<circle cx="333.4" cy="229.9" r="2.7"/>
<circle cx="346.5" cy="241" r="2.7"/>
<circle cx="359.6" cy="251.9" r="2.7"/>
<circle cx="372.7" cy="260.7" r="2.7"/>
<circle cx="385.9" cy="264.2" r="2.7"/>
<circle cx="399" cy="261.8" r="2.7"/>
<circle cx="412.1" cy="255.1" r="2.7"/>
<circle cx="425.2" cy="246.9" r="2.7"/>
<circle cx="438.4" cy="239.5" r="2.7"/>
<circle cx="451.5" cy="234.3" r="2.7"/>
<circle cx="464.6" cy="231.4" r="2.7"/>
<circle cx="477.7" cy="231.1" r="2.7"/>
<circle cx="490.9" cy="232.5" r="2.7"/>
<circle cx="504" cy="234.6" r="2.7"/>
<circle cx="517.1" cy="236.3" r="2.7"/>
<circle cx="530.2" cy="236.9" r="2.7"/>
<circle cx="543.4" cy="234.6" r="2.7"/>
<circle cx="556.5" cy="227.5" r="2.7"/>
<circle cx="569.6" cy="218.3" r="2.7"/>
<circle cx="582.7" cy="210.2" r="2.7"/>
<circle cx="595.9" cy="205.5" r="2.7"/>
<circle cx="609" cy="204.5" r="2.7"/>
<circle cx="622.1" cy="207" r="2.7"/>
<circle cx="635.2" cy="212.8" r="2.7"/>
<circle cx="648.4" cy="222.3" r="2.7"/>
<circle cx="661.5" cy="234" r="2.7"/>
<circle cx="674.6" cy="245.3" r="2.7"/>
</g>
<rect x="44.6" y="19.5" width="630" height="278.6" fill="none" stroke="#2a2a2a" stroke-width="1.0"/>
<g stroke="#222" stroke-width="0.9">
<path d="M57.7,298.1 v2.6"/>
<path d="M97.1,298.1 v2.6"/>
<path d="M136.5,298.1 v2.6"/>
<path d="M175.8,298.1 v2.6"/>
<path d="M215.2,298.1 v2.6"/>
<path d="M254.6,298.1 v2.6"/>
<path d="M294,298.1 v2.6"/>
<path d="M333.4,298.1 v2.6"/>
<path d="M372.7,298.1 v2.6"/>
<path d="M412.1,298.1 v2.6"/>
<path d="M451.5,298.1 v2.6"/>
<path d="M490.9,298.1 v2.6"/>
<path d="M530.2,298.1 v2.6"/>
<path d="M569.6,298.1 v2.6"/>
<path d="M609,298.1 v2.6"/>
<path d="M648.4,298.1 v2.6"/>
<path d="M44.6,292.3 h-2.6"/>
<path d="M44.6,260.9 h-2.6"/>
<path d="M44.6,229.5 h-2.6"/>
<path d="M44.6,198.1 h-2.6"/>
<path d="M44.6,166.7 h-2.6"/>
<path d="M44.6,135.3 h-2.6"/>
<path d="M44.6,103.9 h-2.6"/>
<path d="M44.6,72.5 h-2.6"/>
<path d="M44.6,41.1 h-2.6"/>
</g>
<g font-size="8.8" fill="#333" text-anchor="middle">
<text x="57.7" y="310.5" textLength="20.3" lengthAdjust="spacingAndGlyphs">15:00</text>
<text x="97.1" y="310.5" textLength="20.3" lengthAdjust="spacingAndGlyphs">18:00</text>
<text x="136.5" y="310.5" textLength="20.3" lengthAdjust="spacingAndGlyphs">21:00</text>
<text x="175.8" y="310.5" textLength="20.3" lengthAdjust="spacingAndGlyphs">08/25</text>
<text x="215.2" y="310.5" textLength="20.3" lengthAdjust="spacingAndGlyphs">03:00</text>
<text x="254.6" y="310.5" textLength="20.3" lengthAdjust="spacingAndGlyphs">06:00</text>
<text x="294" y="310.5" textLength="20.3" lengthAdjust="spacingAndGlyphs">09:00</text>
<text x="333.4" y="310.5" textLength="20.3" lengthAdjust="spacingAndGlyphs">12:00</text>
<text x="372.7" y="310.5" textLength="20.3" lengthAdjust="spacingAndGlyphs">15:00</text>
<text x="412.1" y="310.5" textLength="20.3" lengthAdjust="spacingAndGlyphs">18:00</text>
<text x="451.5" y="310.5" textLength="20.3" lengthAdjust="spacingAndGlyphs">21:00</text>
<text x="490.9" y="310.5" textLength="20.3" lengthAdjust="spacingAndGlyphs">08/26</text>
<text x="530.2" y="310.5" textLength="20.3" lengthAdjust="spacingAndGlyphs">03:00</text>
<text x="569.6" y="310.5" textLength="20.3" lengthAdjust="spacingAndGlyphs">06:00</text>
<text x="609" y="310.5" textLength="20.3" lengthAdjust="spacingAndGlyphs">09:00</text>
<text x="648.4" y="310.5" textLength="20.3" lengthAdjust="spacingAndGlyphs">12:00</text>
</g>
<g font-size="8.2" fill="#333" text-anchor="end">
<text x="38.6" y="295.4" textLength="7.4" lengthAdjust="spacingAndGlyphs">−2</text>
<text x="38.6" y="264" textLength="7.4" lengthAdjust="spacingAndGlyphs">−1</text>
<text x="38.6" y="232.6">0</text>
<text x="38.6" y="201.2">1</text>
<text x="38.6" y="169.8">2</text>
<text x="38.6" y="138.4">3</text>
<text x="38.6" y="107">4</text>
<text x="38.6" y="75.6">5</text>
<text x="38.6" y="44.2">6</text>
</g>
<text x="359.4" y="320.8" font-size="8" fill="#333" text-anchor="middle" textLength="36" lengthAdjust="spacingAndGlyphs">Time/2022</text>
<text transform="translate(24.4,159.4) rotate(-90)" font-size="7.4" font-weight="bold" fill="#333" text-anchor="middle" textLength="55" lengthAdjust="spacingAndGlyphs">Water Level/m</text>
<text x="58" y="100.6" font-size="7.6" fill="#333" textLength="16" lengthAdjust="spacingAndGlyphs">4.1m</text>
<text x="58" y="116.3" font-size="7.6" fill="#333" textLength="16" lengthAdjust="spacingAndGlyphs">3.6m</text>
<text x="58" y="132" font-size="7.6" fill="#333" textLength="16" lengthAdjust="spacingAndGlyphs">3.1m</text>
<text x="225.3" y="286" font-size="6.6" fill="#5c9ce8" textLength="16.2" lengthAdjust="spacingAndGlyphs">03:45</text>
<text x="320.4" y="286" font-size="6.6" fill="#5c9ce8" textLength="16.2" lengthAdjust="spacingAndGlyphs">11:00</text>
<text x="248.2" y="273.6" font-size="6.6" fill="#ecdc45" textLength="16.2" lengthAdjust="spacingAndGlyphs">05:30</text>
<text x="304" y="273.6" font-size="6.6" fill="#ecdc45" textLength="16.2" lengthAdjust="spacingAndGlyphs">09:45</text>
<g transform="translate(350.0,6.8) scale(0.98)" stroke="#333" stroke-width="1" fill="none" stroke-linecap="butt"><path d="M2,0.3 L0.8,5.2 L3.6,8 M3.4,2.2 L2.6,6 L0.4,9.6 M0,3 H4"/><path d="M5,0.8 H9.3 M5,0.8 V5.4 H9.6 V9 L8.6,9.4 M5,2.4 H9 M5,3.9 H9 M7.1,0.8 V5.4 M4.6,7 V8.6 M5.9,7 V8.3 M7.1,7 V8.3 M8.3,7 V8"/></g>
<g transform="translate(359.8,6.8) scale(0.98)" stroke="#333" stroke-width="1" fill="none"><path d="M0.6,0.5 V9.6 M0.6,0.5 H4 V3.8 H0.6 M0.6,2.1 H4 M9.4,0.5 V9.2 L8.4,9.6 M9.4,0.5 H6 V3.8 H9.4 M6,2.1 H9.4"/><path d="M4.4,4.6 L2.6,6.6 M3.6,5.2 H6.6 L2.8,7.6 M3.6,5.6 L7.4,7.4 M3.4,7.8 H6.8 V9.4 H3.4 Z"/></g>
<rect x="623.6" y="23.8" width="46.8" height="95.1" rx="2" ry="2" fill="#ffffff" fill-opacity="0.8" stroke="#cfcfcf" stroke-width="0.9"/>
<path d="M626.3,30.9 H644.2" stroke="#22c5cf" stroke-width="1.3"/>
<path d="M626.3,42.5 H644.2" stroke="#cc22cc" stroke-width="1.3"/>
<path d="M626.3,54.1 H644.2" stroke="#ff9a2e" stroke-width="1.3"/>
<path d="M626.3,66.0 H644.2" stroke="#2222dd" stroke-width="1.3"/>
<path d="M626.3,77.6 H644.2" stroke="#44ee44" stroke-width="1.3"/>
<path d="M626.3,89.5 H644.2" stroke="#1f8a1f" stroke-width="1.3"/>
<path d="M626.3,100.7 H644.2" stroke="#ee1111" stroke-width="2.0"/>
<path d="M626.3,112.3 H644.2" stroke="#000" stroke-width="1.9"/>
<circle cx="635.2" cy="112.3" r="2.7" fill="#22dd22" stroke="#0b3d0b" stroke-width="0.8"/>
<text x="650.6" y="103.60000000000001" font-size="8" fill="#222" textLength="11.5" lengthAdjust="spacingAndGlyphs" font-weight="bold">CMA</text>
<text x="650.6" y="115.2" font-size="8" fill="#222" textLength="15.8" lengthAdjust="spacingAndGlyphs">Tide</text>
<g transform="translate(650.4,26.799999999999997)" stroke="#444" stroke-width="0.8" fill="none"><path d="M1.6,0.4 H6.4 V2.8 H1.6 Z M1.6,1.6 H6.4 M0.2,3.7 H7.8 M1.2,3.7 V7.2 M1.2,4.9 H3.6 M1.2,6 H3.6 M3.6,3.7 V7.8 M0.2,7.3 L3.6,6.9 M4.4,4.7 H7.4 L5,7.8 M4.8,5.2 L7.8,7.8"/></g>
<g transform="translate(658.6,26.799999999999997)" stroke="#444" stroke-width="0.8" fill="none"><path d="M0.4,0.6 H3 V2.4 H0.6 V4.4 H3 V7 L2,7.4 M4.4,0.8 L4,2.2 H7.4 L6.8,0.6 M4.4,3.2 H7.4 V5.4 H4.4 Z M5.9,2.4 V7 M4,7 L7.8,6.6"/></g>
<g transform="translate(650.4,38.4)" stroke="#444" stroke-width="0.8" fill="none"><path d="M1.6,0.4 H6.4 V2.8 H1.6 Z M1.6,1.6 H6.4 M0.2,3.7 H7.8 M1.2,3.7 V7.2 M1.2,4.9 H3.6 M1.2,6 H3.6 M3.6,3.7 V7.8 M0.2,7.3 L3.6,6.9 M4.4,4.7 H7.4 L5,7.8 M4.8,5.2 L7.8,7.8"/></g>
<g transform="translate(658.6,38.4)" stroke="#444" stroke-width="0.8" fill="none"><path d="M0.4,0.6 H3.2 V2.4 H0.6 V4.2 H3.2 V7 L2.4,7.4 M1.2,5 L2,5.8 M0.6,7 L2.2,6.2 M4.4,0.6 H7.4 V2.4 H4.8 V4.2 H7.4 V7 L6.6,7.4 M5.4,5 L6.2,5.8 M4.8,7 L6.4,6.2"/></g>
<g transform="translate(650.4,50.0)" stroke="#444" stroke-width="0.8" fill="none"><path d="M1.6,0.4 H6.4 V2.8 H1.6 Z M1.6,1.6 H6.4 M0.2,3.7 H7.8 M1.2,3.7 V7.2 M1.2,4.9 H3.6 M1.2,6 H3.6 M3.6,3.7 V7.8 M0.2,7.3 L3.6,6.9 M4.4,4.7 H7.4 L5,7.8 M4.8,5.2 L7.8,7.8"/></g>
<g transform="translate(658.6,50.0)" stroke="#444" stroke-width="0.8" fill="none"><path d="M1.4,0.2 V7.8 M0.2,2 L0.6,3.6 M2.4,1.6 L2.8,2.8 M3.6,1.8 H7 V4.2 M3.2,4.2 H7.8 M5.3,0.2 V4.2 L3.2,7.8 M5.4,4.4 L7.8,7.8"/></g>
<g transform="translate(650.4,61.9)" stroke="#444" stroke-width="0.8" fill="none"><path d="M1.6,0.4 H6.4 V2.8 H1.6 Z M1.6,1.6 H6.4 M0.2,3.7 H7.8 M1.2,3.7 V7.2 M1.2,4.9 H3.6 M1.2,6 H3.6 M3.6,3.7 V7.8 M0.2,7.3 L3.6,6.9 M4.4,4.7 H7.4 L5,7.8 M4.8,5.2 L7.8,7.8"/></g>
<g transform="translate(658.6,61.9)" stroke="#444" stroke-width="0.8" fill="none"><path d="M1.2,0.2 V7.8 M0.1,2 L0.4,3.6 M2.2,1.6 L2.6,2.8 M3.8,0.4 H7 V2.2 H3.8 Z M3.8,1.3 H7 M3.2,3 H7.6 V4.6 H3.2 Z M4.7,3 V4.6 M6.1,3 V4.6 M3.6,5.4 H7 L3.4,7.8 M4,5.8 L7.6,7.8"/></g>
<g transform="translate(650.4,73.5)" stroke="#444" stroke-width="0.8" fill="none"><path d="M1.6,0.4 H6.4 V2.8 H1.6 Z M1.6,1.6 H6.4 M0.2,3.7 H7.8 M1.2,3.7 V7.2 M1.2,4.9 H3.6 M1.2,6 H3.6 M3.6,3.7 V7.8 M0.2,7.3 L3.6,6.9 M4.4,4.7 H7.4 L5,7.8 M4.8,5.2 L7.8,7.8"/></g>
<g transform="translate(658.6,73.5)" stroke="#444" stroke-width="0.8" fill="none"><path d="M0.4,2.2 H7.6 M3.6,0.2 L1.8,4.6 L0.2,7.4 M3,4.4 H7.2 M5.1,4.4 V7.4 M2.4,7.4 H7.8"/></g>
<g transform="translate(650.4,85.4)" stroke="#444" stroke-width="0.8" fill="none"><path d="M1.6,0.4 H6.4 V2.8 H1.6 Z M1.6,1.6 H6.4 M0.2,3.7 H7.8 M1.2,3.7 V7.2 M1.2,4.9 H3.6 M1.2,6 H3.6 M3.6,3.7 V7.8 M0.2,7.3 L3.6,6.9 M4.4,4.7 H7.4 L5,7.8 M4.8,5.2 L7.8,7.8"/></g>
<g transform="translate(658.6,85.4)" stroke="#444" stroke-width="0.8" fill="none"><path d="M0.4,2.2 H7.6 M4,0.2 L2.4,4 L0.2,6.6 M2.8,4.4 H7 V7.6 H2.8 Z"/></g>
<rect x="46.1" y="22.3" width="214.4" height="64.1" rx="1.8" ry="1.8" fill="#8f3b39"/>
<rect x="49.7" y="25.7" width="207.20000000000002" height="57.199999999999996" rx="0.8" fill="#c3504e"/>
<text x="89.0" y="69.0" font-size="41.5" fill="#ffffff" stroke="#ffffff" stroke-width="0.5" textLength="132.2" lengthAdjust="spacingAndGlyphs">NMEFC</text>
<g stroke="#d6d9f7" stroke-width="0.9" stroke-dasharray="1.6,4.2" fill="none">
<path d="M93.1,352.0 V553.4"/>
<path d="M138.6,352.0 V553.4"/>
<path d="M184.2,352.0 V553.4"/>
<path d="M229.7,352.0 V553.4"/>
<path d="M275.3,352.0 V553.4"/>
<path d="M320.9,352.0 V553.4"/>
<path d="M366.4,352.0 V553.4"/>
<path d="M412,352.0 V553.4"/>
<path d="M457.5,352.0 V553.4"/>
<path d="M503.1,352.0 V553.4"/>
<path d="M548.7,352.0 V553.4"/>
<path d="M594.2,352.0 V553.4"/>
<path d="M47.5,540.1 H639.5"/>
<path d="M47.5,513.2 H639.5"/>
<path d="M47.5,486.3 H639.5"/>
<path d="M47.5,459.4 H639.5"/>
<path d="M47.5,432.5 H639.5"/>
<path d="M47.5,405.6 H639.5"/>
<path d="M47.5,378.7 H639.5"/>
</g>
<path d="M47.5,402.9 H639.5" stroke="#f6a81c" stroke-width="2.2"/>
<path d="M47.5,415.3 H639.5" stroke="#fff21a" stroke-width="2.2"/>
<path d="M47.5,427.1 H639.5" stroke="#4aa3c9" stroke-width="1.8"/>
<g fill="none" stroke-linejoin="round">
<path d="M47.3,482.7 L48.8,483.4 L50.3,483.9 L51.8,484.4 L53.3,484.6 L54.8,484.5 L56.3,484.2 L57.8,483.6 L59.3,482.9 L60.8,482.1 L62.3,481.3 L63.8,480.4 L65.3,479.4 L66.8,478.5 L68.3,477.5 L69.8,476.5 L71.3,475.5 L72.8,474.5 L74.3,473.5 L75.8,472.5 L77.3,471.5 L78.8,470.5 L80.3,469.6 L81.8,468.7 L83.3,467.8 L84.8,467 L86.3,466.2 L87.8,465.5 L89.3,464.8 L90.8,464.1 L92.3,463.6 L93.8,463 L95.3,462.5 L96.8,462.1 L98.3,461.8 L99.8,461.5 L101.3,461.2 L102.8,461 L104.3,460.9 L105.8,460.8 L107.3,460.8 L108.8,460.8 L110.3,460.8 L111.8,460.9 L113.3,461 L114.8,461.1 L116.3,461.3 L117.8,461.4 L119.3,461.6 L120.8,461.7 L122.3,461.8 L123.8,461.9 L125.3,462 L126.8,462 L128.3,461.9 L129.8,461.7 L131.3,461.5 L132.8,461.2 L134.3,460.8 L135.8,460.3 L137.3,459.7 L138.8,459.1 L140.3,458.5 L141.8,457.8 L143.3,457.1 L144.8,456.3 L146.3,455.5 L147.8,454.7 L149.3,453.8 L150.8,452.9 L152.3,452.1 L153.8,451.1 L155.3,450.2 L156.8,449.3 L158.3,448.3 L159.8,447.4 L161.3,446.4 L162.8,445.5 L164.3,444.7 L165.8,443.8 L167.3,443 L168.8,442.4 L170.3,441.7 L171.8,441.2 L173.3,440.8 L174.8,440.4 L176.3,440.2 L177.8,440 L179.3,440 L180.8,440 L182.3,440.1 L183.8,440.3 L185.3,440.7 L186.8,441.1 L188.3,441.5 L189.8,442.1 L191.3,442.7 L192.8,443.4 L194.3,444.2 L195.8,445.1 L197.3,446.1 L198.8,447.1 L200.3,448.2 L201.8,449.4 L203.3,450.7 L204.8,452.1 L206.3,453.5 L207.8,455.1 L209.3,456.7 L210.8,458.3 L212.3,460 L213.8,461.8 L215.3,463.5 L216.8,465.3 L218.3,467.1 L219.8,469 L221.3,470.8 L222.8,472.5 L224.3,474.3 L225.8,476 L227.3,477.6 L228.8,479.2 L230.3,480.7 L231.8,482.1 L233.3,483.3 L234.8,484.5 L236.3,485.4 L237.8,486.1 L239.3,486.7 L240.8,486.9 L242.3,486.9 L243.8,486.6 L245.3,486.1 L246.8,485.3 L248.3,484.3 L249.8,483.2 L251.3,481.9 L252.8,480.4 L254.3,478.9 L255.8,477.4 L257.3,475.8 L258.8,474.3 L260.3,472.9 L261.8,471.5 L263.3,470.3 L264.8,469.1 L266.3,468 L267.8,467 L269.3,466.1 L270.8,465.2 L272.3,464.4 L273.8,463.7 L275.3,463 L276.8,462.4 L278.3,461.9 L279.8,461.4 L281.3,461 L282.8,460.7 L284.3,460.4 L285.8,460.1 L287.3,459.9 L288.8,459.8 L290.3,459.7 L291.8,459.6 L293.3,459.6 L294.8,459.7 L296.3,459.8 L297.8,459.9 L299.3,460 L300.8,460.2 L302.3,460.4 L303.8,460.7 L305.3,461 L306.8,461.3 L308.3,461.6 L309.8,461.8 L311.3,462.1 L312.8,462.3 L314.3,462.5 L315.8,462.6 L317.3,462.7 L318.8,462.7 L320.3,462.6 L321.8,462.4 L323.3,462.1 L324.8,461.7 L326.3,461.2 L327.8,460.6 L329.3,460 L330.8,459.2 L332.3,458.4 L333.8,457.5 L335.3,456.5 L336.8,455.5 L338.3,454.3 L339.8,453.1 L341.3,451.9 L342.8,450.6 L344.3,449.3 L345.8,447.9 L347.3,446.6 L348.8,445.4 L350.3,444.2 L351.8,443.1 L353.3,442.1 L354.8,441.3 L356.3,440.6 L357.8,440.1 L359.3,439.6 L360.8,439.3 L362.3,439 L363.8,438.8 L365.3,438.7 L366.8,438.6 L368.3,438.6 L369.8,438.6 L371.3,438.7 L372.8,439 L374.3,439.3 L375.8,439.8 L377.3,440.4 L378.8,441.1 L380.3,442 L381.8,443 L383.3,444.1 L384.8,445.4 L386.3,446.8 L387.8,448.3 L389.3,449.9 L390.8,451.6 L392.3,453.4 L393.8,455.3 L395.3,457.2 L396.8,459.2 L398.3,461.2 L399.8,463.2 L401.3,465.2 L402.8,467.2 L404.3,469.2 L405.8,471.1 L407.3,473 L408.8,474.8 L410.3,476.6 L411.8,478.2 L413.3,479.7 L414.8,481.2 L416.3,482.5 L417.8,483.7 L419.3,484.7 L420.8,485.7 L422.3,486.5 L423.8,487.1 L425.3,487.6 L426.8,487.9 L428.3,488.1 L429.8,488 L431.3,487.7 L432.8,487.1 L434.3,486.3 L435.8,485.4 L437.3,484.2 L438.8,482.9 L440.3,481.4 L441.8,479.8 L443.3,478.1 L444.8,476.3 L446.3,474.6 L447.8,472.8 L449.3,471.1 L450.8,469.5 L452.3,468 L453.8,466.7 L455.3,465.5 L456.8,464.6 L458.3,463.7 L459.8,462.9 L461.3,462.3 L462.8,461.8 L464.3,461.3 L465.8,460.9 L467.3,460.5 L468.8,460.2 L470.3,459.9 L471.8,459.7 L473.3,459.5 L474.8,459.3 L476.3,459.2 L477.8,459.2 L479.3,459.2 L480.8,459.3 L482.3,459.4 L483.8,459.6 L485.3,459.8 L486.8,460 L488.3,460.3 L489.8,460.6 L491.3,461 L492.8,461.4 L494.3,461.8 L495.8,462.2 L497.3,462.6 L498.8,463.1 L500.3,463.5 L501.8,463.9 L503.3,464.2 L504.8,464.5 L506.3,464.8 L507.8,465 L509.3,465.1 L510.8,465.1 L512.3,465 L513.8,464.9 L515.3,464.6 L516.8,464.2 L518.3,463.6 L519.8,463 L521.3,462.1 L522.8,461.2 L524.3,460.1 L525.8,458.9 L527.3,457.5 L528.8,456.1 L530.3,454.5 L531.8,452.8 L533.3,451.1 L534.8,449.3 L536.3,447.4 L537.8,445.6 L539.3,443.9 L540.8,442.3 L542.3,440.9 L543.8,439.6 L545.3,438.6 L546.8,437.7 L548.3,437 L549.8,436.4 L551.3,435.9 L552.8,435.5 L554.3,435.1 L555.8,434.8 L557.3,434.8 L558.8,434.9 L560.3,435.2 L561.8,435.7 L563.3,436.4 L564.8,437.2 L566.3,438.1 L567.8,439.1 L569.3,440.3 L570.8,441.5 L572.3,442.8 L573.8,444.2 L575.3,445.7 L576.8,447.3 L578.3,448.9 L579.8,450.6 L581.3,452.3 L582.8,454.1 L584.3,456 L585.8,457.8 L587.3,459.6 L588.8,461.4 L590.3,463.2 L591.8,465 L593.3,466.8 L594.3,468" stroke="#2fb52f" stroke-width="1.7" stroke-dasharray="9.5,4.3"/>
<path d="M47.3,482.6 L48.8,483.3 L50.3,483.9 L51.8,484.4 L53.3,484.6 L54.8,484.6 L56.3,484.3 L57.8,483.8 L59.3,483.1 L60.8,482.4 L62.3,481.5 L63.8,480.7 L65.3,479.8 L66.8,479 L68.3,478.1 L69.8,477.2 L71.3,476.3 L72.8,475.3 L74.3,474.4 L75.8,473.5 L77.3,472.6 L78.8,471.6 L80.3,470.7 L81.8,469.8 L83.3,468.9 L84.8,468 L86.3,467.1 L87.8,466.3 L89.3,465.5 L90.8,464.7 L92.3,463.9 L93.8,463.2 L95.3,462.5 L96.8,461.8 L98.3,461.2 L99.8,460.7 L101.3,460.3 L102.8,459.8 L104.3,459.5 L105.8,459.2 L107.3,459 L108.8,458.9 L110.3,458.8 L111.8,458.8 L113.3,458.8 L114.8,458.9 L116.3,459.1 L117.8,459.3 L119.3,459.5 L120.8,459.8 L122.3,460 L123.8,460.2 L125.3,460.4 L126.8,460.6 L128.3,460.6 L129.8,460.7 L131.3,460.6 L132.8,460.4 L134.3,460.1 L135.8,459.8 L137.3,459.3 L138.8,458.8 L140.3,458.3 L141.8,457.6 L143.3,457 L144.8,456.3 L146.3,455.6 L147.8,454.8 L149.3,454 L150.8,453.2 L152.3,452.3 L153.8,451.5 L155.3,450.6 L156.8,449.7 L158.3,448.8 L159.8,447.9 L161.3,447 L162.8,446.1 L164.3,445.3 L165.8,444.5 L167.3,443.7 L168.8,443.1 L170.3,442.5 L171.8,442 L173.3,441.6 L174.8,441.3 L176.3,441.1 L177.8,440.9 L179.3,440.9 L180.8,441 L182.3,441.1 L183.8,441.3 L185.3,441.7 L186.8,442.1 L188.3,442.5 L189.8,443.1 L191.3,443.7 L192.8,444.4 L194.3,445.2 L195.8,446 L197.3,447 L198.8,448 L200.3,449.1 L201.8,450.2 L203.3,451.5 L204.8,452.9 L206.3,454.3 L207.8,455.8 L209.3,457.4 L210.8,459 L212.3,460.7 L213.8,462.4 L215.3,464.2 L216.8,466 L218.3,467.8 L219.8,469.6 L221.3,471.4 L222.8,473.1 L224.3,474.8 L225.8,476.4 L227.3,478 L228.8,479.4 L230.3,480.8 L231.8,481.9 L233.3,483 L234.8,483.8 L236.3,484.5 L237.8,485 L239.3,485.4 L240.8,485.5 L242.3,485.4 L243.8,485.2 L245.3,484.7 L246.8,484 L248.3,483.2 L249.8,482.2 L251.3,481 L252.8,479.7 L254.3,478.2 L255.8,476.6 L257.3,474.9 L258.8,473.2 L260.3,471.4 L261.8,469.6 L263.3,467.9 L264.8,466.2 L266.3,464.7 L267.8,463.2 L269.3,461.8 L270.8,460.4 L272.3,459.2 L273.8,457.9 L275.3,456.7 L276.8,455.6 L278.3,454.4 L279.8,453.3 L281.3,452.2 L282.8,451.1 L284.3,450.1 L285.8,449.1 L287.3,448.1 L288.8,447.2 L290.3,446.4 L291.8,445.6 L293.3,444.9 L294.8,444.2 L296.3,443.6 L297.8,443 L299.3,442.4 L300.8,441.8 L302.3,441.3 L303.8,440.7 L305.3,440.2 L306.8,439.7 L308.3,439.1 L309.8,438.6 L311.3,438 L312.8,437.4 L314.3,436.8 L315.8,436.1 L317.3,435.4 L318.8,434.6 L320.3,433.7 L321.8,432.8 L323.3,431.8 L324.8,430.8 L326.3,429.7 L327.8,428.4 L329.3,427.2 L330.8,425.8 L332.3,424.3 L333.8,422.8 L335.3,421.2 L336.8,419.6 L338.3,418 L339.8,416.3 L341.3,414.6 L342.8,412.9 L344.3,411.3 L345.8,409.6 L347.3,408 L348.8,406.5 L350.3,405.2 L351.8,403.9 L353.3,402.7 L354.8,401.7 L356.3,400.9 L357.8,400.2 L359.3,399.7 L360.8,399.3 L362.3,399 L363.8,398.9 L365.3,398.9 L366.8,399 L368.3,399.3 L369.8,399.7 L371.3,400.2 L372.8,400.8 L374.3,401.6 L375.8,402.6 L377.3,403.6 L378.8,404.9 L380.3,406.3 L381.8,407.8 L383.3,409.5 L384.8,411.4 L386.3,413.5 L387.8,415.6 L389.3,417.9 L390.8,420.4 L392.3,422.9 L393.8,425.5 L395.3,428.2 L396.8,430.9 L398.3,433.6 L399.8,436.4 L401.3,439 L402.8,441.6 L404.3,444.1 L405.8,446.4 L407.3,448.5 L408.8,450.5 L410.3,452.4 L411.8,454.1 L413.3,455.7 L414.8,457.2 L416.3,458.6 L417.8,460 L419.3,461.3 L420.8,462.6 L422.3,463.8 L423.8,464.9 L425.3,465.8 L426.8,466.5 L428.3,467 L429.8,467.3 L431.3,467.3 L432.8,467.1 L434.3,466.8 L435.8,466.2 L437.3,465.5 L438.8,464.6 L440.3,463.7 L441.8,462.6 L443.3,461.5 L444.8,460.4 L446.3,459.3 L447.8,458.1 L449.3,457 L450.8,455.9 L452.3,454.8 L453.8,453.7 L455.3,452.7 L456.8,451.8 L458.3,451 L459.8,450.3 L461.3,449.6 L462.8,449.1 L464.3,448.6 L465.8,448.2 L467.3,447.9 L468.8,447.7 L470.3,447.6 L471.8,447.6 L473.3,447.6 L474.8,447.7 L476.3,447.9 L477.8,448.2 L479.3,448.5 L480.8,448.9 L482.3,449.3 L483.8,449.8 L485.3,450.3 L486.8,450.9 L488.3,451.5 L489.8,452.1 L491.3,452.7 L492.8,453.3 L494.3,454 L495.8,454.6 L497.3,455.2 L498.8,455.8 L500.3,456.4 L501.8,456.9 L503.3,457.4 L504.8,457.8 L506.3,458.1 L507.8,458.3 L509.3,458.5 L510.8,458.5 L512.3,458.4 L513.8,458.2 L515.3,457.8 L516.8,457.3 L518.3,456.6 L519.8,455.9 L521.3,455 L522.8,454 L524.3,452.8 L525.8,451.5 L527.3,450.2 L528.8,448.8 L530.3,447.4 L531.8,445.9 L533.3,444.5 L534.8,443.1 L536.3,441.8 L537.8,440.5 L539.3,439.3 L540.8,438.3 L542.3,437.3 L543.8,436.4 L545.3,435.7 L546.8,435.1 L548.3,434.6 L549.8,434.2 L551.3,434 L552.8,433.8 L554.3,433.8 L555.8,433.8 L557.3,434 L558.8,434.3 L560.3,434.6 L561.8,435.1 L563.3,435.7 L564.8,436.4 L566.3,437.2 L567.8,438.2 L569.3,439.3 L570.8,440.4 L572.3,441.7 L573.8,443 L575.3,444.4 L576.8,445.8 L578.3,447.2 L579.8,448.6 L581.3,450 L582.8,451.5 L584.3,453 L585.8,454.7 L587.3,456.4 L588.8,458.3 L590.3,460.4 L591.8,462.5 L593.3,464.7 L594.3,466.2" stroke="#f0401a" stroke-width="2.0"/>
<path d="M47.3,483.3 L48.8,484 L50.3,484.6 L51.8,485.1 L53.3,485.3 L54.8,485.3 L56.3,485 L57.8,484.5 L59.3,483.8 L60.8,483.1 L62.3,482.2 L63.8,481.4 L65.3,480.5 L66.8,479.7 L68.3,478.8 L69.8,477.9 L71.3,477 L72.8,476 L74.3,475.1 L75.8,474.2 L77.3,473.3 L78.8,472.3 L80.3,471.4 L81.8,470.5 L83.3,469.6 L84.8,468.7 L86.3,467.8 L87.8,467 L89.3,466.2 L90.8,465.4 L92.3,464.6 L93.8,463.9 L95.3,463.2 L96.8,462.5 L98.3,461.9 L99.8,461.4 L101.3,461 L102.8,460.5 L104.3,460.2 L105.8,459.9 L107.3,459.7 L108.8,459.6 L110.3,459.5 L111.8,459.5 L113.3,459.5 L114.8,459.6 L116.3,459.8 L117.8,460 L119.3,460.2 L120.8,460.5 L122.3,460.7 L123.8,460.9 L125.3,461.1 L126.8,461.3 L128.3,461.3 L129.8,461.4 L131.3,461.3 L132.8,461.1 L134.3,460.8 L135.8,460.5 L137.3,460 L138.8,459.5 L140.3,459 L141.8,458.3 L143.3,457.7 L144.8,457 L146.3,456.3 L147.8,455.5 L149.3,454.7 L150.8,453.9 L152.3,453 L153.8,452.2 L155.3,451.3 L156.8,450.4 L158.3,449.5 L159.8,448.6 L161.3,447.7 L162.8,446.8 L164.3,446 L165.8,445.2 L167.3,444.4 L168.8,443.8 L170.3,443.2 L171.8,442.7 L173.3,442.3 L174.8,442 L176.3,441.8 L177.8,441.6 L179.3,441.6 L180.8,441.7 L182.3,441.8 L183.8,442 L185.3,442.4 L186.8,442.8 L188.3,443.2 L189.8,443.8 L191.3,444.4 L192.8,445.1 L194.3,445.9 L195.8,446.7 L197.3,447.7 L198.8,448.7 L200.3,449.8 L201.8,450.9 L203.3,452.2 L204.8,453.6 L206.3,455 L207.8,456.5 L209.3,458.1 L210.8,459.7 L212.3,461.4 L213.8,463.1 L215.3,464.9 L216.8,466.7 L218.3,468.5 L219.8,470.3 L221.3,472.1 L222.8,473.8 L224.3,475.5 L225.8,477.1 L227.3,478.7 L228.8,480.1 L230.3,481.5 L231.8,482.6 L233.3,483.7 L234.8,484.5 L236.3,485.2 L237.8,485.7 L239.3,486.1 L240.8,486.2 L242.3,486.1 L243.8,485.9 L245.3,485.4 L246.8,484.7 L248.3,483.9 L249.8,482.9 L251.3,481.7 L252.8,480.4 L254.3,478.9 L255.8,477.3 L257.3,475.6 L258.8,473.9 L260.3,472.1 L261.8,470.3 L263.3,468.6 L264.8,466.9 L266.3,465.4 L267.8,463.9 L269.3,462.5 L270.8,461.1 L272.3,459.9 L273.8,458.6 L275.3,457.4 L276.8,456.3 L278.3,455.1 L279.8,454 L281.3,452.9 L282.8,451.8 L284.3,450.8 L285.8,449.8 L287.3,448.8 L288.8,447.9 L290.3,447.1 L291.8,446.3 L293.3,445.6 L294.8,444.9 L296.3,444.3 L297.8,443.7 L299.3,443.1 L300.8,442.5 L302.3,442 L303.8,441.4 L305.3,440.9 L306.8,440.4 L308.3,439.8 L309.8,439.3 L311.3,438.7 L312.8,438.1 L314.3,437.5 L315.8,436.8 L317.3,436.1 L318.8,435.3 L320.3,434.4 L321.8,433.5 L323.3,432.5 L324.8,431.5 L326.3,430.4 L327.8,429.1 L329.3,427.9 L330.8,426.5 L332.3,425 L333.8,423.5 L335.3,421.9 L336.8,420.3 L338.3,418.7 L339.8,417 L341.3,415.3 L342.8,413.6 L344.3,412 L345.8,410.3 L347.3,408.7 L348.8,407.2 L350.3,405.9 L351.8,404.6 L353.3,403.4 L354.8,402.4 L356.3,401.6 L357.8,400.9 L359.3,400.4 L360.8,400 L362.3,399.7 L363.8,399.6 L365.3,399.6 L366.8,399.7 L368.3,400 L369.8,400.4 L371.3,400.9 L372.8,401.5 L374.3,402.3 L375.8,403.3 L377.3,404.3 L378.8,405.6 L380.3,407 L381.8,408.5 L383.3,410.2 L384.8,412.1 L386.3,414.2 L387.8,416.3 L389.3,418.6 L390.8,421.1 L392.3,423.6 L393.8,426.2 L395.3,428.9 L396.8,431.6 L398.3,434.3 L399.8,437.1 L401.3,439.7 L402.8,442.3 L404.3,444.8 L405.8,447.1 L407.3,449.2 L408.8,451.2 L410.3,453.1 L411.8,454.8 L413.3,456.4 L414.8,457.9 L416.3,459.3 L417.8,460.7 L419.3,462 L420.8,463.3 L422.3,464.5 L423.8,465.6 L425.3,466.5 L426.8,467.2 L428.3,467.7 L429.8,468 L431.3,468 L432.8,467.8 L434.3,467.5 L435.8,466.9 L437.3,466.2 L438.8,465.3 L440.3,464.4 L441.8,463.3 L443.3,462.2 L444.8,461.1 L446.3,460 L447.8,458.8 L449.3,457.7 L450.8,456.6 L452.3,455.5 L453.8,454.4 L455.3,453.4 L456.8,452.5 L458.3,451.7 L459.8,451 L461.3,450.3 L462.8,449.8 L464.3,449.3 L465.8,448.9 L467.3,448.6 L468.8,448.4 L470.3,448.3 L471.8,448.3 L473.3,448.3 L474.8,448.4 L476.3,448.6 L477.8,448.9 L479.3,449.2 L480.8,449.6 L482.3,450 L483.8,450.5 L485.3,451 L486.8,451.6 L488.3,452.2 L489.8,452.8 L491.3,453.4 L492.8,454 L494.3,454.7 L495.8,455.3 L497.3,455.9 L498.8,456.5 L500.3,457.1 L501.8,457.6 L503.3,458.1 L504.8,458.5 L506.3,458.8 L507.8,459 L509.3,459.2 L510.8,459.2 L512.3,459.1 L513.8,458.9 L515.3,458.5 L516.8,458 L518.3,457.3 L519.8,456.6 L521.3,455.7 L522.8,454.7 L524.3,453.5 L525.8,452.2 L527.3,450.9 L528.8,449.5 L530.3,448.1 L531.8,446.6 L533.3,445.2 L534.8,443.8 L536.3,442.5 L537.8,441.2 L539.3,440 L540.8,439 L542.3,438 L543.8,437.1 L545.3,436.4 L546.8,435.8 L548.3,435.3 L549.8,434.9 L551.3,434.7 L552.8,434.5 L554.3,434.5 L555.8,434.5 L557.3,434.7 L558.8,434.9 L560.3,435.3 L561.8,435.7 L563.3,436.3 L564.8,437.1 L566.3,437.9 L567.8,438.9 L569.3,440.1 L570.8,441.3 L572.3,442.7 L573.8,444.1 L575.3,445.6 L576.8,447.2 L578.3,448.8 L579.8,450.4 L581.3,452.1 L582.8,453.8 L584.3,455.7 L585.8,457.7 L587.3,460 L588.8,462.4 L590.3,465 L591.8,467.7 L593.3,470.5 L594.3,472.4" stroke="#6a1a8a" stroke-width="1.6"/>
<path d="M47.5,513.2 L49,513.2 L50.5,513.3 L52,513.3 L53.5,513.3 L55,513.4 L56.5,513.4 L58,513.5 L59.5,513.5 L61,513.5 L62.5,513.6 L64,513.6 L65.5,513.6 L67,513.7 L68.5,513.7 L70,513.8 L71.5,513.8 L73,513.9 L74.5,514 L76,514.1 L77.5,514.1 L79,514.2 L80.5,514.3 L82,514.3 L83.5,514.4 L85,514.4 L86.5,514.3 L88,514.2 L89.5,514.1 L91,513.9 L92.5,513.7 L94,513.5 L95.5,513.3 L97,513 L98.5,512.8 L100,512.5 L101.5,512.3 L103,512 L104.5,511.8 L106,511.6 L107.5,511.5 L109,511.3 L110.5,511.2 L112,511.1 L113.5,511.1 L115,511.1 L116.5,511.1 L118,511.2 L119.5,511.3 L121,511.4 L122.5,511.6 L124,511.7 L125.5,511.8 L127,512 L128.5,512.1 L130,512.3 L131.5,512.4 L133,512.5 L134.5,512.6 L136,512.8 L137.5,512.9 L139,513 L140.5,513.1 L142,513.2 L143.5,513.2 L145,513.3 L146.5,513.4 L148,513.4 L149.5,513.5 L151,513.6 L152.5,513.6 L154,513.6 L155.5,513.7 L157,513.7 L158.5,513.8 L160,513.8 L161.5,513.8 L163,513.9 L164.5,513.9 L166,514 L167.5,514 L169,514 L170.5,514.1 L172,514.1 L173.5,514.1 L175,514.2 L176.5,514.2 L178,514.2 L179.5,514.3 L181,514.3 L182.5,514.3 L184,514.3 L185.5,514.3 L187,514.3 L188.5,514.3 L190,514.3 L191.5,514.3 L193,514.3 L194.5,514.2 L196,514.2 L197.5,514.2 L199,514.2 L200.5,514.1 L202,514.1 L203.5,514.1 L205,514.1 L206.5,514 L208,514 L209.5,514 L211,514 L212.5,514 L214,514 L215.5,514 L217,514 L218.5,513.9 L220,513.9 L221.5,513.9 L223,513.8 L224.5,513.8 L226,513.7 L227.5,513.6 L229,513.5 L230.5,513.4 L232,513.2 L233.5,513 L235,512.8 L236.5,512.6 L238,512.4 L239.5,512.2 L241,512 L242.5,511.7 L244,511.5 L245.5,511.3 L247,511.1 L248.5,510.9 L250,510.6 L251.5,510.4 L253,510.2 L254.5,509.9 L256,509.7 L257.5,509.4 L259,509.1 L260.5,508.7 L262,508.3 L263.5,507.9 L265,507.5 L266.5,507.1 L268,506.6 L269.5,506.1 L271,505.6 L272.5,505.1 L274,504.6 L275.5,504.1 L277,503.5 L278.5,503 L280,502.4 L281.5,501.8 L283,501.2 L284.5,500.6 L286,500 L287.5,499.3 L289,498.7 L290.5,498 L292,497.2 L293.5,496.5 L295,495.7 L296.5,495 L298,494.2 L299.5,493.4 L301,492.6 L302.5,491.8 L304,491 L305.5,490.3 L307,489.5 L308.5,488.7 L310,488 L311.5,487.2 L313,486.5 L314.5,485.7 L316,485 L317.5,484.3 L319,483.6 L320.5,483 L322,482.3 L323.5,481.7 L325,481.1 L326.5,480.5 L328,479.9 L329.5,479.3 L331,478.8 L332.5,478.2 L334,477.7 L335.5,477.2 L337,476.8 L338.5,476.3 L340,475.9 L341.5,475.5 L343,475.2 L344.5,474.9 L346,474.6 L347.5,474.4 L349,474.2 L350.5,474 L352,473.9 L353.5,473.8 L355,473.8 L356.5,473.7 L358,473.8 L359.5,473.8 L361,473.9 L362.5,474 L364,474.2 L365.5,474.4 L367,474.6 L368.5,474.8 L370,475.1 L371.5,475.5 L373,475.8 L374.5,476.2 L376,476.6 L377.5,477.1 L379,477.5 L380.5,478 L382,478.5 L383.5,479 L385,479.6 L386.5,480.1 L388,480.6 L389.5,481.2 L391,481.7 L392.5,482.2 L394,482.7 L395.5,483.2 L397,483.7 L398.5,484.2 L400,484.7 L401.5,485.1 L403,485.5 L404.5,485.9 L406,486.3 L407.5,486.7 L409,487 L410.5,487.4 L412,487.8 L413.5,488.2 L415,488.6 L416.5,489 L418,489.4 L419.5,489.8 L421,490.3 L422.5,490.7 L424,491.2 L425.5,491.7 L427,492.1 L428.5,492.6 L430,493 L431.5,493.5 L433,493.9 L434.5,494.3 L436,494.8 L437.5,495.2 L439,495.5 L440.5,495.9 L442,496.3 L443.5,496.6 L445,497 L446.5,497.3 L448,497.6 L449.5,497.9 L451,498.3 L452.5,498.6 L454,498.9 L455.5,499.2 L457,499.5 L458.5,499.8 L460,500 L461.5,500.3 L463,500.6 L464.5,500.9 L466,501.1 L467.5,501.4 L469,501.6 L470.5,501.9 L472,502.1 L473.5,502.4 L475,502.6 L476.5,502.9 L478,503.1 L479.5,503.3 L481,503.5 L482.5,503.8 L484,504 L485.5,504.2 L487,504.4 L488.5,504.6 L490,504.8 L491.5,505 L493,505.2 L494.5,505.4 L496,505.6 L497.5,505.8 L499,506 L500.5,506.1 L502,506.3 L503.5,506.5 L505,506.7 L506.5,506.8 L508,507 L509.5,507.2 L511,507.3 L512.5,507.5 L514,507.7 L515.5,507.8 L517,508 L518.5,508.1 L520,508.3 L521.5,508.4 L523,508.6 L524.5,508.7 L526,508.9 L527.5,509 L529,509.1 L530.5,509.3 L532,509.4 L533.5,509.6 L535,509.7 L536.5,509.8 L538,510 L539.5,510.1 L541,510.2 L542.5,510.3 L544,510.5 L545.5,510.6 L547,510.7 L548.5,510.8 L550,511 L551.5,511.1 L553,511.2 L554.5,511.3 L556,511.4 L557.5,511.5 L559,511.6 L560.5,511.7 L562,511.8 L563.5,511.8 L565,511.9 L566.5,512 L568,512.1 L569.5,512.1 L571,512.2 L572.5,512.3 L574,512.3 L575.5,512.4 L577,512.4 L578.5,512.4 L580,512.5 L581.5,512.5 L583,512.6 L584.5,512.6 L586,512.6 L587.5,512.7 L589,512.7 L590.5,512.7 L592,512.8 L593.5,512.8 L594.2,512.8" stroke="#2a2ae0" stroke-width="1.8" stroke-dasharray="9,4.2"/>
</g>
<rect x="47.5" y="352.0" width="592" height="201.4" fill="none" stroke="#222" stroke-width="1.05"/>
<g stroke="#111" stroke-width="1">
<path d="M47.5,550.9 h3.6 M639.5,550.9 h-3.6"/>
<path d="M47.5,545.5 h3.6 M639.5,545.5 h-3.6"/>
<path d="M47.5,540.1 h8.6 M639.5,540.1 h-8.6"/>
<path d="M47.5,534.7 h3.6 M639.5,534.7 h-3.6"/>
<path d="M47.5,529.3 h3.6 M639.5,529.3 h-3.6"/>
<path d="M47.5,524 h3.6 M639.5,524 h-3.6"/>
<path d="M47.5,518.6 h3.6 M639.5,518.6 h-3.6"/>
<path d="M47.5,513.2 h8.6 M639.5,513.2 h-8.6"/>
<path d="M47.5,507.8 h3.6 M639.5,507.8 h-3.6"/>
<path d="M47.5,502.4 h3.6 M639.5,502.4 h-3.6"/>
<path d="M47.5,497.1 h3.6 M639.5,497.1 h-3.6"/>
<path d="M47.5,491.7 h3.6 M639.5,491.7 h-3.6"/>
<path d="M47.5,486.3 h8.6 M639.5,486.3 h-8.6"/>
<path d="M47.5,480.9 h3.6 M639.5,480.9 h-3.6"/>
<path d="M47.5,475.5 h3.6 M639.5,475.5 h-3.6"/>
<path d="M47.5,470.2 h3.6 M639.5,470.2 h-3.6"/>
<path d="M47.5,464.8 h3.6 M639.5,464.8 h-3.6"/>
<path d="M47.5,459.4 h8.6 M639.5,459.4 h-8.6"/>
<path d="M47.5,454 h3.6 M639.5,454 h-3.6"/>
<path d="M47.5,448.6 h3.6 M639.5,448.6 h-3.6"/>
<path d="M47.5,443.3 h3.6 M639.5,443.3 h-3.6"/>
<path d="M47.5,437.9 h3.6 M639.5,437.9 h-3.6"/>
<path d="M47.5,432.5 h8.6 M639.5,432.5 h-8.6"/>
<path d="M47.5,427.1 h3.6 M639.5,427.1 h-3.6"/>
<path d="M47.5,421.7 h3.6 M639.5,421.7 h-3.6"/>
<path d="M47.5,416.4 h3.6 M639.5,416.4 h-3.6"/>
<path d="M47.5,411 h3.6 M639.5,411 h-3.6"/>
<path d="M47.5,405.6 h8.6 M639.5,405.6 h-8.6"/>
<path d="M47.5,400.2 h3.6 M639.5,400.2 h-3.6"/>
<path d="M47.5,394.8 h3.6 M639.5,394.8 h-3.6"/>
<path d="M47.5,389.5 h3.6 M639.5,389.5 h-3.6"/>
<path d="M47.5,384.1 h3.6 M639.5,384.1 h-3.6"/>
<path d="M47.5,378.7 h8.6 M639.5,378.7 h-8.6"/>
<path d="M47.5,373.3 h3.6 M639.5,373.3 h-3.6"/>
<path d="M47.5,367.9 h3.6 M639.5,367.9 h-3.6"/>
<path d="M47.5,362.6 h3.6 M639.5,362.6 h-3.6"/>
<path d="M47.5,357.2 h3.6 M639.5,357.2 h-3.6"/>
<path d="M47.5,553.4 v-6"/>
<path d="M93.1,553.4 v-6"/>
<path d="M138.6,553.4 v-6"/>
<path d="M184.2,553.4 v-6"/>
<path d="M229.7,553.4 v-6"/>
<path d="M275.3,553.4 v-6"/>
<path d="M320.9,553.4 v-6"/>
<path d="M366.4,553.4 v-6"/>
<path d="M412,553.4 v-6"/>
<path d="M457.5,553.4 v-6"/>
<path d="M503.1,553.4 v-6"/>
<path d="M548.7,553.4 v-6"/>
<path d="M594.2,553.4 v-6"/>
</g>
<g font-size="11.8" fill="#111" stroke="#111" stroke-width="0.3">
<text x="39.9" y="544.3" text-anchor="end">-1.0</text>
<text x="648" y="544.3">-1.0</text>
<text x="39.9" y="517.4" text-anchor="end">0.0</text>
<text x="648" y="517.4">0.0</text>
<text x="39.9" y="490.5" text-anchor="end">1.0</text>
<text x="648" y="490.5">1.0</text>
<text x="39.9" y="463.6" text-anchor="end">2.0</text>
<text x="648" y="463.6">2.0</text>
<text x="39.9" y="436.7" text-anchor="end">3.0</text>
<text x="648" y="436.7">3.0</text>
<text x="39.9" y="409.8" text-anchor="end">4.0</text>
<text x="648" y="409.8">4.0</text>
<text x="39.9" y="382.9" text-anchor="end">5.0</text>
<text x="648" y="382.9">5.0</text>
<text x="39.9" y="356" text-anchor="end">6.0</text>
<text x="648" y="356">6.0</text>
</g>
<g font-size="12.2" fill="#111" stroke="#111" stroke-width="0.25" text-anchor="middle">
<text x="47.5" y="571.8" textLength="32.4" lengthAdjust="spacingAndGlyphs">2306</text>
<text x="93.1" y="571.8" textLength="32.4" lengthAdjust="spacingAndGlyphs">2312</text>
<text x="138.6" y="571.8" textLength="32.4" lengthAdjust="spacingAndGlyphs">2318</text>
<text x="184.2" y="571.8" textLength="32.4" lengthAdjust="spacingAndGlyphs">2400</text>
<text x="229.7" y="571.8" textLength="32.4" lengthAdjust="spacingAndGlyphs">2406</text>
<text x="275.3" y="571.8" textLength="32.4" lengthAdjust="spacingAndGlyphs">2412</text>
<text x="320.9" y="571.8" textLength="32.4" lengthAdjust="spacingAndGlyphs">2418</text>
<text x="366.4" y="571.8" textLength="32.4" lengthAdjust="spacingAndGlyphs">2500</text>
<text x="412" y="571.8" textLength="32.4" lengthAdjust="spacingAndGlyphs">2506</text>
<text x="457.5" y="571.8" textLength="32.4" lengthAdjust="spacingAndGlyphs">2512</text>
<text x="503.1" y="571.8" textLength="32.4" lengthAdjust="spacingAndGlyphs">2518</text>
<text x="548.7" y="571.8" textLength="32.4" lengthAdjust="spacingAndGlyphs">2600</text>
<text x="594.2" y="571.8" textLength="32.4" lengthAdjust="spacingAndGlyphs">2606</text>
</g>
<text x="292.2" y="589.2" font-size="12" fill="#111" stroke="#111" stroke-width="0.2" textLength="102.4" lengthAdjust="spacingAndGlyphs" xml:space="preserve">Time  (ddhh UTC)</text>
<text x="69.6" y="344.9" font-size="16.5" font-weight="bold" fill="#000" textLength="547.6" lengthAdjust="spacingAndGlyphs" xml:space="preserve">SSM Prediction &amp; TC track of  ’2022M08 MA-ON (2209)’ -- RJTD</text>
<text x="401.3" y="613.8" font-size="16.9" font-weight="bold" fill="#ee1414" textLength="233.6" lengthAdjust="spacingAndGlyphs">Base on 2022-08-24 06UTC</text>
<rect x="47.5" y="584" width="159" height="47.3" fill="#ffffff" stroke="#222" stroke-width="1"/>
<path d="M58.4,592.3 H94.2" stroke="#8a3fb5" stroke-width="2"/>
<path d="M58.4,602.7 H94.2" stroke="#f0502a" stroke-width="2"/>
<path d="M58.4,612.9 H94.2" stroke="#3fc53f" stroke-width="2" stroke-dasharray="8.5,4"/>
<path d="M58.4,622.9 H94.2" stroke="#3a3ae6" stroke-width="2" stroke-dasharray="8.5,4"/>
<g font-family='"Liberation Serif", serif' font-size="15" fill="#222">
<text x="102.6" y="596.0" textLength="93" lengthAdjust="spacingAndGlyphs">xtide + ssm</text>
<text x="102.6" y="606.4000000000001" textLength="84" lengthAdjust="spacingAndGlyphs">tide + ssm</text>
<text x="102.6" y="616.6" textLength="28" lengthAdjust="spacingAndGlyphs">tide</text>
<text x="102.6" y="626.6" textLength="28" lengthAdjust="spacingAndGlyphs">ssm</text>
</g>
<rect x="46.4" y="351.4" width="214.2" height="62.9" rx="1.8" ry="1.8" fill="#8f3b39"/>
<rect x="50.0" y="354.79999999999995" width="207.0" height="56.0" rx="0.8" fill="#c3504e"/>
<text x="113.7" y="397.3" font-size="41.5" fill="#ffffff" stroke="#ffffff" stroke-width="0.5" textLength="82.0" lengthAdjust="spacingAndGlyphs">JMA</text>
</svg>
</body>
</html>
